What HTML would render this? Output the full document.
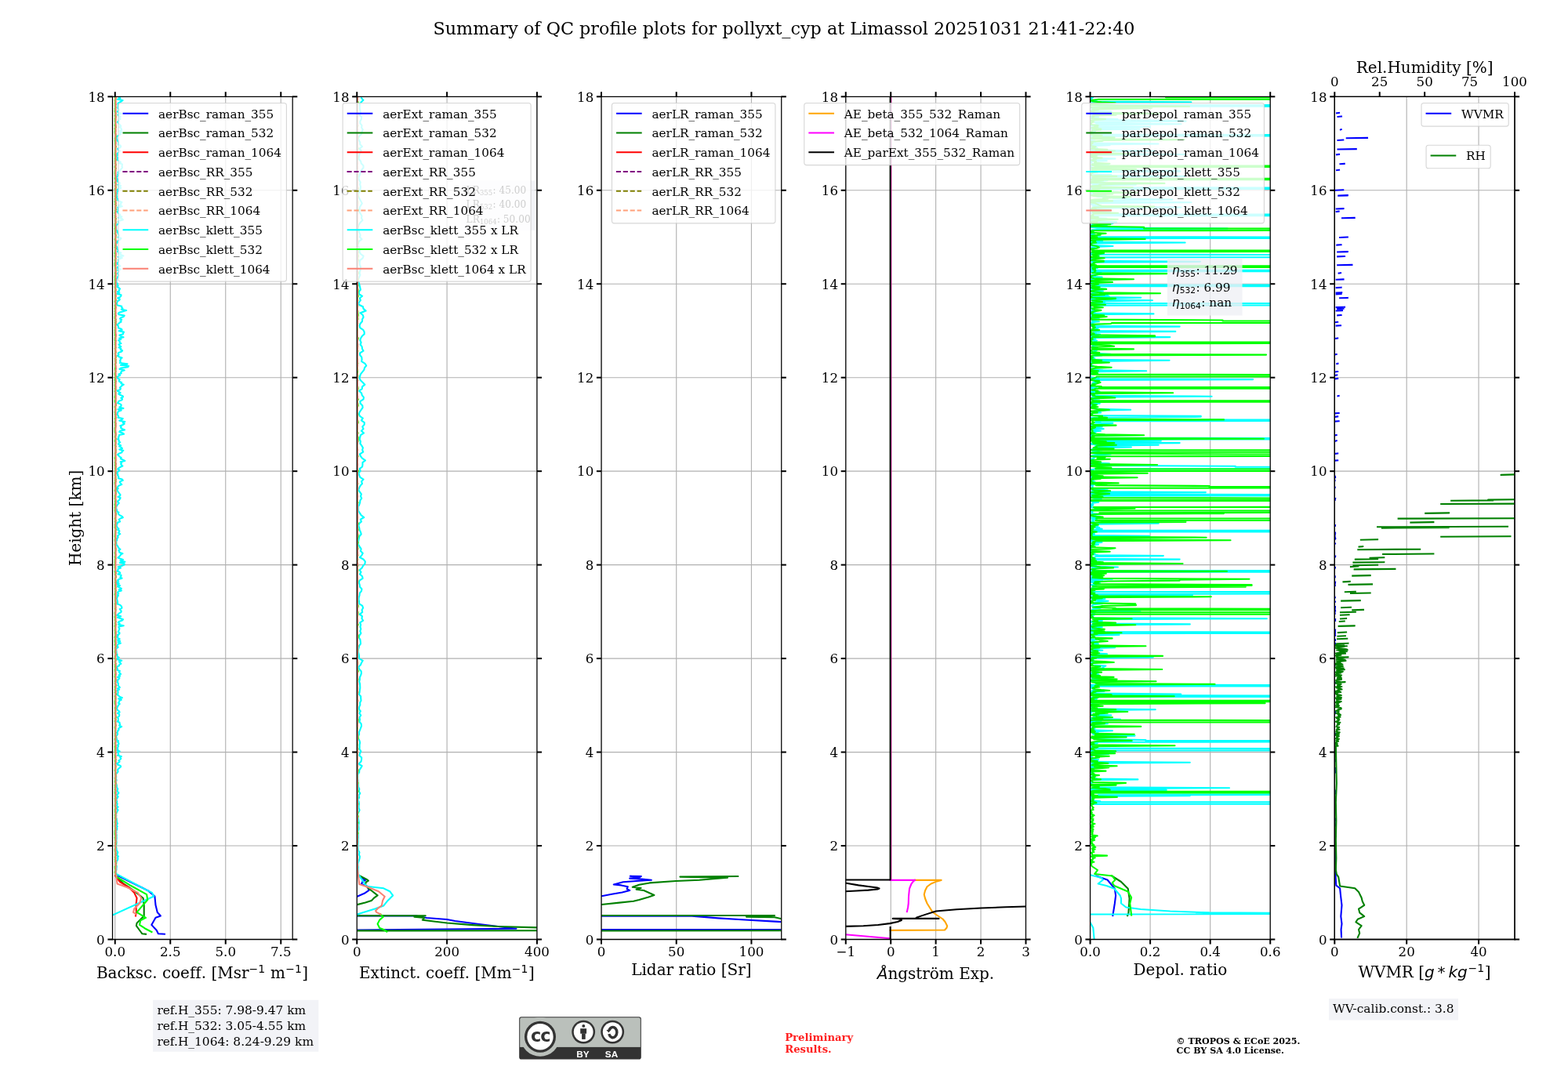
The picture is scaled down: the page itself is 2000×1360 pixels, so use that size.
<!DOCTYPE html>
<html><head><meta charset="utf-8"><title>QC profile plots</title>
<style>
html,body{margin:0;padding:0;background:#fff;}
#wrap{position:relative;width:2000px;height:1360px;overflow:hidden;}
#wrap > svg{position:absolute;left:0;top:0;}
</style></head><body><div id="wrap">
<svg width="2000px" height="1360px" viewBox="0 0 1440 979.2" version="1.1">
<defs>
<style type="text/css">*{stroke-linejoin: round; stroke-linecap: butt}</style>
</defs>
<g id="figure_1">
<g id="patch_1">
<path d="M 0 979.2 
L 1440 979.2 
L 1440 0 
L 0 0 
z
" style="fill: #ffffff"/>
</g>
<g id="axes_1">
<g id="patch_2">
<path d="M 103.32 862.92 
L 268.7 862.92 
L 268.7 88.78 
L 103.32 88.78 
z
" style="fill: #ffffff"/>
</g>
<g id="matplotlib.axis_1">
<g id="xtick_1">
<g id="line2d_1">
<path d="M 105.66 862.92 
L 105.66 88.78 
" clip-path="url(#p57dd0e70b4)" style="fill: none; stroke: #b0b0b0; stroke-width: 0.8; stroke-linecap: square"/>
</g>
<g id="line2d_2">
<g>
<path d="M 0 0 L 0 4.4" transform="translate(105.66 862.92)" style="stroke: #000000; stroke-width: 1.45"/>
</g>
</g>
<g id="line2d_3">
<g>
<path d="M 0 0 L 0 -4.4" transform="translate(105.66 88.78)" style="stroke: #000000; stroke-width: 1.45"/>
</g>
</g>
<g id="text_1">
<text style="font-size: 12px; font-family: 'DejaVu Serif', serif; text-anchor: middle" x="105.66" y="878.34" transform="rotate(-0 105.66 878.34)">0.0</text>
</g>
</g>
<g id="xtick_2">
<g id="line2d_4">
<path d="M 156.42 862.92 
L 156.42 88.78 
" clip-path="url(#p57dd0e70b4)" style="fill: none; stroke: #b0b0b0; stroke-width: 0.8; stroke-linecap: square"/>
</g>
<g id="line2d_5">
<g>
<path d="M 0 0 L 0 4.4" transform="translate(156.42 862.92)" style="stroke: #000000; stroke-width: 1.45"/>
</g>
</g>
<g id="line2d_6">
<g>
<path d="M 0 0 L 0 -4.4" transform="translate(156.42 88.78)" style="stroke: #000000; stroke-width: 1.45"/>
</g>
</g>
<g id="text_2">
<text style="font-size: 12px; font-family: 'DejaVu Serif', serif; text-anchor: middle" x="156.42" y="878.34" transform="rotate(-0 156.42 878.34)">2.5</text>
</g>
</g>
<g id="xtick_3">
<g id="line2d_7">
<path d="M 207.18 862.92 
L 207.18 88.78 
" clip-path="url(#p57dd0e70b4)" style="fill: none; stroke: #b0b0b0; stroke-width: 0.8; stroke-linecap: square"/>
</g>
<g id="line2d_8">
<g>
<path d="M 0 0 L 0 4.4" transform="translate(207.18 862.92)" style="stroke: #000000; stroke-width: 1.45"/>
</g>
</g>
<g id="line2d_9">
<g>
<path d="M 0 0 L 0 -4.4" transform="translate(207.18 88.78)" style="stroke: #000000; stroke-width: 1.45"/>
</g>
</g>
<g id="text_3">
<text style="font-size: 12px; font-family: 'DejaVu Serif', serif; text-anchor: middle" x="207.18" y="878.34" transform="rotate(-0 207.18 878.34)">5.0</text>
</g>
</g>
<g id="xtick_4">
<g id="line2d_10">
<path d="M 257.94 862.92 
L 257.94 88.78 
" clip-path="url(#p57dd0e70b4)" style="fill: none; stroke: #b0b0b0; stroke-width: 0.8; stroke-linecap: square"/>
</g>
<g id="line2d_11">
<g>
<path d="M 0 0 L 0 4.4" transform="translate(257.94 862.92)" style="stroke: #000000; stroke-width: 1.45"/>
</g>
</g>
<g id="line2d_12">
<g>
<path d="M 0 0 L 0 -4.4" transform="translate(257.94 88.78)" style="stroke: #000000; stroke-width: 1.45"/>
</g>
</g>
<g id="text_4">
<text style="font-size: 12px; font-family: 'DejaVu Serif', serif; text-anchor: middle" x="257.94" y="878.34" transform="rotate(-0 257.94 878.34)">7.5</text>
</g>
</g>
<g id="text_5">
<g transform="translate(88.52 899.12)">
<text>
<tspan x="0" y="-0.5" style="font-size: 14.4px; font-family: 'DejaVu Serif'">B</tspan>
<tspan x="10.56" y="-0.5" style="font-size: 14.4px; font-family: 'DejaVu Serif'">a</tspan>
<tspan x="19.13" y="-0.5" style="font-size: 14.4px; font-family: 'DejaVu Serif'">c</tspan>
<tspan x="27.18" y="-0.5" style="font-size: 14.4px; font-family: 'DejaVu Serif'">k</tspan>
<tspan x="35.9" y="-0.5" style="font-size: 14.4px; font-family: 'DejaVu Serif'">s</tspan>
<tspan x="43.27" y="-0.5" style="font-size: 14.4px; font-family: 'DejaVu Serif'">c</tspan>
<tspan x="51.32" y="-0.5" style="font-size: 14.4px; font-family: 'DejaVu Serif'">.</tspan>
<tspan x="55.89" y="-0.5" style="font-size: 14.4px; font-family: 'DejaVu Serif'"> </tspan>
<tspan x="60.46" y="-0.5" style="font-size: 14.4px; font-family: 'DejaVu Serif'">c</tspan>
<tspan x="68.51" y="-0.5" style="font-size: 14.4px; font-family: 'DejaVu Serif'">o</tspan>
<tspan x="77.17" y="-0.5" style="font-size: 14.4px; font-family: 'DejaVu Serif'">e</tspan>
<tspan x="85.67" y="-0.5" style="font-size: 14.4px; font-family: 'DejaVu Serif'">f</tspan>
<tspan x="90.99" y="-0.5" style="font-size: 14.4px; font-family: 'DejaVu Serif'">f</tspan>
<tspan x="96.32" y="-0.5" style="font-size: 14.4px; font-family: 'DejaVu Serif'">.</tspan>
<tspan x="100.88" y="-0.5" style="font-size: 14.4px; font-family: 'DejaVu Serif'"> </tspan>
<tspan x="105.45" y="-0.5" style="font-size: 14.4px; font-family: 'DejaVu Serif'">[</tspan>
<tspan x="111.06" y="-0.5" style="font-size: 14.4px; font-family: 'DejaVu Serif'">M</tspan>
<tspan x="125.78" y="-0.5" style="font-size: 14.4px; font-family: 'DejaVu Serif'">s</tspan>
<tspan x="133.16" y="-0.5" style="font-size: 14.4px; font-family: 'DejaVu Serif'">r</tspan>
<tspan x="155.38" y="-0.5" style="font-size: 14.4px; font-family: 'DejaVu Serif'"> </tspan>
<tspan x="159.95" y="-0.5" style="font-size: 14.4px; font-family: 'DejaVu Serif'">m</tspan>
<tspan x="188.93" y="-0.5" style="font-size: 14.4px; font-family: 'DejaVu Serif'">]</tspan>
<tspan x="140.16" y="-5.86" style="font-size: 10.08px; font-family: 'DejaVu Sans'">−</tspan>
<tspan x="148.6" y="-5.86" style="font-size: 10.08px; font-family: 'DejaVu Sans'">1</tspan>
<tspan x="173.71" y="-5.86" style="font-size: 10.08px; font-family: 'DejaVu Sans'">−</tspan>
<tspan x="182.15" y="-5.86" style="font-size: 10.08px; font-family: 'DejaVu Sans'">1</tspan>
</text>
</g>
</g>
</g>
<g id="matplotlib.axis_2">
<g id="ytick_1">
<g id="line2d_13">
<path d="M 103.32 862.92 
L 268.7 862.92 
" clip-path="url(#p57dd0e70b4)" style="fill: none; stroke: #b0b0b0; stroke-width: 0.8; stroke-linecap: square"/>
</g>
<g id="line2d_14">
<g>
<path d="M 0 0 L -4.4 0" transform="translate(103.32 862.92)" style="stroke: #000000; stroke-width: 1.45"/>
</g>
</g>
<g id="line2d_15">
<g>
<path d="M 0 0 L 4.4 0" transform="translate(268.7 862.92)" style="stroke: #000000; stroke-width: 1.45"/>
</g>
</g>
<g id="text_6">
<text style="font-size: 12px; font-family: 'DejaVu Serif', serif; text-anchor: end" x="96.28" y="867.48" transform="rotate(-0 96.28 867.48)">0</text>
</g>
</g>
<g id="ytick_2">
<g id="line2d_16">
<path d="M 103.32 776.9 
L 268.7 776.9 
" clip-path="url(#p57dd0e70b4)" style="fill: none; stroke: #b0b0b0; stroke-width: 0.8; stroke-linecap: square"/>
</g>
<g id="line2d_17">
<g>
<path d="M 0 0 L -4.4 0" transform="translate(103.32 776.9)" style="stroke: #000000; stroke-width: 1.45"/>
</g>
</g>
<g id="line2d_18">
<g>
<path d="M 0 0 L 4.4 0" transform="translate(268.7 776.9)" style="stroke: #000000; stroke-width: 1.45"/>
</g>
</g>
<g id="text_7">
<text style="font-size: 12px; font-family: 'DejaVu Serif', serif; text-anchor: end" x="96.28" y="781.46" transform="rotate(-0 96.28 781.46)">2</text>
</g>
</g>
<g id="ytick_3">
<g id="line2d_19">
<path d="M 103.32 690.89 
L 268.7 690.89 
" clip-path="url(#p57dd0e70b4)" style="fill: none; stroke: #b0b0b0; stroke-width: 0.8; stroke-linecap: square"/>
</g>
<g id="line2d_20">
<g>
<path d="M 0 0 L -4.4 0" transform="translate(103.32 690.89)" style="stroke: #000000; stroke-width: 1.45"/>
</g>
</g>
<g id="line2d_21">
<g>
<path d="M 0 0 L 4.4 0" transform="translate(268.7 690.89)" style="stroke: #000000; stroke-width: 1.45"/>
</g>
</g>
<g id="text_8">
<text style="font-size: 12px; font-family: 'DejaVu Serif', serif; text-anchor: end" x="96.28" y="695.45" transform="rotate(-0 96.28 695.45)">4</text>
</g>
</g>
<g id="ytick_4">
<g id="line2d_22">
<path d="M 103.32 604.87 
L 268.7 604.87 
" clip-path="url(#p57dd0e70b4)" style="fill: none; stroke: #b0b0b0; stroke-width: 0.8; stroke-linecap: square"/>
</g>
<g id="line2d_23">
<g>
<path d="M 0 0 L -4.4 0" transform="translate(103.32 604.87)" style="stroke: #000000; stroke-width: 1.45"/>
</g>
</g>
<g id="line2d_24">
<g>
<path d="M 0 0 L 4.4 0" transform="translate(268.7 604.87)" style="stroke: #000000; stroke-width: 1.45"/>
</g>
</g>
<g id="text_9">
<text style="font-size: 12px; font-family: 'DejaVu Serif', serif; text-anchor: end" x="96.28" y="609.43" transform="rotate(-0 96.28 609.43)">6</text>
</g>
</g>
<g id="ytick_5">
<g id="line2d_25">
<path d="M 103.32 518.86 
L 268.7 518.86 
" clip-path="url(#p57dd0e70b4)" style="fill: none; stroke: #b0b0b0; stroke-width: 0.8; stroke-linecap: square"/>
</g>
<g id="line2d_26">
<g>
<path d="M 0 0 L -4.4 0" transform="translate(103.32 518.86)" style="stroke: #000000; stroke-width: 1.45"/>
</g>
</g>
<g id="line2d_27">
<g>
<path d="M 0 0 L 4.4 0" transform="translate(268.7 518.86)" style="stroke: #000000; stroke-width: 1.45"/>
</g>
</g>
<g id="text_10">
<text style="font-size: 12px; font-family: 'DejaVu Serif', serif; text-anchor: end" x="96.28" y="523.42" transform="rotate(-0 96.28 523.42)">8</text>
</g>
</g>
<g id="ytick_6">
<g id="line2d_28">
<path d="M 103.32 432.84 
L 268.7 432.84 
" clip-path="url(#p57dd0e70b4)" style="fill: none; stroke: #b0b0b0; stroke-width: 0.8; stroke-linecap: square"/>
</g>
<g id="line2d_29">
<g>
<path d="M 0 0 L -4.4 0" transform="translate(103.32 432.84)" style="stroke: #000000; stroke-width: 1.45"/>
</g>
</g>
<g id="line2d_30">
<g>
<path d="M 0 0 L 4.4 0" transform="translate(268.7 432.84)" style="stroke: #000000; stroke-width: 1.45"/>
</g>
</g>
<g id="text_11">
<text style="font-size: 12px; font-family: 'DejaVu Serif', serif; text-anchor: end" x="96.28" y="437.4" transform="rotate(-0 96.28 437.4)">10</text>
</g>
</g>
<g id="ytick_7">
<g id="line2d_31">
<path d="M 103.32 346.82 
L 268.7 346.82 
" clip-path="url(#p57dd0e70b4)" style="fill: none; stroke: #b0b0b0; stroke-width: 0.8; stroke-linecap: square"/>
</g>
<g id="line2d_32">
<g>
<path d="M 0 0 L -4.4 0" transform="translate(103.32 346.82)" style="stroke: #000000; stroke-width: 1.45"/>
</g>
</g>
<g id="line2d_33">
<g>
<path d="M 0 0 L 4.4 0" transform="translate(268.7 346.82)" style="stroke: #000000; stroke-width: 1.45"/>
</g>
</g>
<g id="text_12">
<text style="font-size: 12px; font-family: 'DejaVu Serif', serif; text-anchor: end" x="96.28" y="351.38" transform="rotate(-0 96.28 351.38)">12</text>
</g>
</g>
<g id="ytick_8">
<g id="line2d_34">
<path d="M 103.32 260.81 
L 268.7 260.81 
" clip-path="url(#p57dd0e70b4)" style="fill: none; stroke: #b0b0b0; stroke-width: 0.8; stroke-linecap: square"/>
</g>
<g id="line2d_35">
<g>
<path d="M 0 0 L -4.4 0" transform="translate(103.32 260.81)" style="stroke: #000000; stroke-width: 1.45"/>
</g>
</g>
<g id="line2d_36">
<g>
<path d="M 0 0 L 4.4 0" transform="translate(268.7 260.81)" style="stroke: #000000; stroke-width: 1.45"/>
</g>
</g>
<g id="text_13">
<text style="font-size: 12px; font-family: 'DejaVu Serif', serif; text-anchor: end" x="96.28" y="265.37" transform="rotate(-0 96.28 265.37)">14</text>
</g>
</g>
<g id="ytick_9">
<g id="line2d_37">
<path d="M 103.32 174.79 
L 268.7 174.79 
" clip-path="url(#p57dd0e70b4)" style="fill: none; stroke: #b0b0b0; stroke-width: 0.8; stroke-linecap: square"/>
</g>
<g id="line2d_38">
<g>
<path d="M 0 0 L -4.4 0" transform="translate(103.32 174.79)" style="stroke: #000000; stroke-width: 1.45"/>
</g>
</g>
<g id="line2d_39">
<g>
<path d="M 0 0 L 4.4 0" transform="translate(268.7 174.79)" style="stroke: #000000; stroke-width: 1.45"/>
</g>
</g>
<g id="text_14">
<text style="font-size: 12px; font-family: 'DejaVu Serif', serif; text-anchor: end" x="96.28" y="179.35" transform="rotate(-0 96.28 179.35)">16</text>
</g>
</g>
<g id="ytick_10">
<g id="line2d_40">
<path d="M 103.32 88.78 
L 268.7 88.78 
" clip-path="url(#p57dd0e70b4)" style="fill: none; stroke: #b0b0b0; stroke-width: 0.8; stroke-linecap: square"/>
</g>
<g id="line2d_41">
<g>
<path d="M 0 0 L -4.4 0" transform="translate(103.32 88.78)" style="stroke: #000000; stroke-width: 1.45"/>
</g>
</g>
<g id="line2d_42">
<g>
<path d="M 0 0 L 4.4 0" transform="translate(268.7 88.78)" style="stroke: #000000; stroke-width: 1.45"/>
</g>
</g>
<g id="text_15">
<text style="font-size: 12px; font-family: 'DejaVu Serif', serif; text-anchor: end" x="96.28" y="93.34" transform="rotate(-0 96.28 93.34)">18</text>
</g>
</g>
<g id="text_16">
<text style="font-size: 14.4px; font-family: 'DejaVu Serif', serif; text-anchor: middle" x="73.81" y="475.85" transform="rotate(-90 73.81 475.85)">Height [km]</text>
</g>
</g>
<g id="line2d_43">
<path d="M 108.47 804.4 
L 119.95 810.15 
L 129.8 815.07 
L 136.36 818.35 
L 142.1 823.27 
L 142.92 831.48 
L 144.56 838.04 
L 147.52 841.32 
L 142.92 842.96 
L 139.15 849.53 
L 143.74 854.45 
L 145.38 857.73 
L 151.13 858.06 
" clip-path="url(#p57dd0e70b4)" style="fill: none; stroke: #0000ff; stroke-width: 1.5; stroke-linecap: square"/>
</g>
<g id="line2d_44">
<path d="M 106 804.4 
L 113.39 811.79 
L 123.23 818.35 
L 131.44 824.92 
L 132.26 831.48 
L 132.26 841.32 
L 125.69 847.89 
L 125.2 850.35 
L 128.16 854.45 
L 130.62 857.73 
L 133.9 858.06 
" clip-path="url(#p57dd0e70b4)" style="fill: none; stroke: #008000; stroke-width: 1.5; stroke-linecap: square"/>
</g>
<g id="line2d_45">
<path d="M 106 804.4 
L 110.11 810.15 
L 118.31 815.07 
L 123.23 819.99 
L 125.69 824.92 
L 124.87 831.48 
L 125.2 838.04 
L 124.55 841.32 
" clip-path="url(#p57dd0e70b4)" style="fill: none; stroke: #ff0000; stroke-width: 1.5; stroke-linecap: square"/>
</g>
<g id="line2d_46"/>
<g id="line2d_47"/>
<g id="line2d_48"/>
<g id="line2d_49">
<path d="M 103.54 840.5 
L 141.28 823.27 
L 139.64 819.99 
L 133.08 816.71 
L 108.47 803.58 
L 106.26 802.71 
L 106.74 801.76 
L 106.49 800.82 
L 106.55 799.87 
L 106.92 798.92 
L 106.81 797.98 
L 107.07 796.09 
L 106.9 795.14 
L 106.52 794.19 
L 106.94 792.3 
L 106.84 791.35 
L 107.84 790.41 
L 108.16 789.46 
L 108.32 788.52 
L 107.88 787.57 
L 108.72 786.62 
L 107.36 785.68 
L 107.7 784.73 
L 108.23 782.84 
L 106.94 780.95 
L 107 780 
L 106.67 778.11 
L 106.59 777.16 
L 106.74 776.22 
L 106.76 775.27 
L 106.96 774.32 
L 106.97 773.38 
L 106.81 772.43 
L 106.77 771.48 
L 106.96 770.54 
L 107.03 769.59 
L 106.9 768.65 
L 107.06 766.75 
L 106.51 765.81 
L 107.02 764.86 
L 106.66 763.92 
L 106.89 762.97 
L 107.37 762.02 
L 107.54 761.08 
L 106.99 760.13 
L 107.81 759.18 
L 106.98 758.24 
L 107.4 757.29 
L 107.97 756.35 
L 107.29 755.4 
L 107.31 754.45 
L 106.95 751.62 
L 106.49 750.67 
L 106.74 749.72 
L 106.77 748.78 
L 106.52 747.83 
L 106.98 746.88 
L 107.3 745.94 
L 108.41 744.05 
L 107.24 743.1 
L 107.52 742.15 
L 108.42 741.21 
L 107.33 740.26 
L 107.41 739.32 
L 107.82 738.37 
L 107.02 737.42 
L 107.49 736.48 
L 107.22 735.53 
L 106.64 734.58 
L 107.89 732.69 
L 108.45 731.75 
L 107.48 730.8 
L 107.38 729.85 
L 108.84 728.91 
L 108.92 727.96 
L 107.45 727.01 
L 108.11 725.12 
L 108.04 724.18 
L 106.94 723.23 
L 107.27 722.28 
L 107.15 721.34 
L 106.59 719.45 
L 106.51 718.5 
L 106.66 717.55 
L 106.98 716.61 
L 106.52 715.66 
L 106.5 714.71 
L 106.71 713.77 
L 106.53 712.82 
L 106.62 710.93 
L 108.31 709.04 
L 108.31 708.09 
L 107.9 707.15 
L 108.78 706.2 
L 110.94 704.31 
L 110.67 703.36 
L 107.99 702.41 
L 107.13 701.47 
L 109.07 700.52 
L 109.87 699.58 
L 108.98 698.63 
L 110.4 697.68 
L 111.11 696.74 
L 110.34 695.79 
L 111.48 694.84 
L 108.03 693.9 
L 108.9 692.95 
L 108.72 692.01 
L 107.97 691.06 
L 109.94 690.11 
L 107.3 689.17 
L 108.34 688.22 
L 107.33 687.28 
L 108.26 686.33 
L 108.65 685.38 
L 108.07 684.44 
L 109.08 683.49 
L 108.96 682.54 
L 108.12 681.6 
L 108.74 680.65 
L 107.25 679.71 
L 107.05 678.76 
L 106.98 677.81 
L 106.76 676.87 
L 106.75 675.92 
L 107.76 674.98 
L 108.14 674.03 
L 107.28 673.08 
L 108.17 672.14 
L 108.15 671.19 
L 109.16 670.24 
L 108.83 669.3 
L 109.88 668.35 
L 111.68 667.41 
L 109.46 666.46 
L 110.32 665.51 
L 109.79 664.57 
L 109.84 663.62 
L 107.51 662.67 
L 108.73 661.73 
L 108.69 660.78 
L 108.5 659.84 
L 108.07 658.89 
L 109.36 657.94 
L 109.65 657 
L 109.49 656.05 
L 107.88 655.11 
L 109.87 654.16 
L 109.32 653.21 
L 107.79 652.27 
L 107.68 651.32 
L 106.72 650.37 
L 107.94 649.43 
L 108.8 647.54 
L 109.96 646.59 
L 108.6 645.64 
L 109.51 644.7 
L 109.52 643.75 
L 111.39 642.81 
L 108.79 641.86 
L 112.25 640.91 
L 109.76 639.97 
L 109.08 639.02 
L 107.58 638.07 
L 108.31 637.13 
L 108.41 635.24 
L 107.84 634.29 
L 109.51 633.34 
L 107.9 632.4 
L 110.02 631.45 
L 109.26 630.5 
L 108.29 629.56 
L 108.71 628.61 
L 108.68 627.67 
L 107.58 626.72 
L 108.26 625.77 
L 107.59 624.83 
L 109.08 623.88 
L 109.7 622.94 
L 107.97 621.99 
L 110.24 621.04 
L 109.18 620.1 
L 110.98 619.15 
L 109.94 618.2 
L 109.27 617.26 
L 110.07 616.31 
L 107.36 615.37 
L 107.95 614.42 
L 107.48 613.47 
L 107.24 612.53 
L 109.45 611.58 
L 109.45 610.64 
L 111.09 609.69 
L 110.28 608.74 
L 109.32 607.8 
L 111.76 606.85 
L 108.19 605.9 
L 107.75 604.96 
L 109.28 604.01 
L 107.89 603.07 
L 107.46 602.12 
L 107.68 601.17 
L 106.8 600.23 
L 107.03 599.28 
L 106.58 596.44 
L 106.97 595.5 
L 108.43 594.55 
L 107.99 593.6 
L 107.78 592.66 
L 108.48 591.71 
L 110.77 590.77 
L 108.33 589.82 
L 110.35 588.87 
L 107.98 587.93 
L 109.9 586.98 
L 108.25 586.03 
L 106.97 585.09 
L 108.48 584.14 
L 108.02 583.2 
L 109.69 582.25 
L 109.8 581.3 
L 108.58 580.36 
L 109.77 577.52 
L 109.13 576.57 
L 108.99 575.63 
L 113.59 574.68 
L 108.68 573.73 
L 109.94 572.79 
L 108.55 571.84 
L 109.29 570.9 
L 112.21 569.95 
L 113.03 569 
L 108 567.11 
L 111.03 566.16 
L 107.47 565.22 
L 109.39 563.33 
L 111.17 562.38 
L 111.41 561.43 
L 110.8 560.49 
L 109.98 559.54 
L 111.91 558.6 
L 111.81 557.65 
L 111.39 556.7 
L 110.28 555.76 
L 107.83 554.81 
L 108.06 553.86 
L 108.07 552.92 
L 107.68 551.97 
L 107.69 551.03 
L 106.85 550.08 
L 107.6 549.13 
L 107.54 548.19 
L 108.7 547.24 
L 107.79 546.3 
L 108.89 545.35 
L 108.01 544.4 
L 108.58 543.46 
L 111.56 542.51 
L 109.23 541.56 
L 111.52 540.62 
L 109.9 539.67 
L 107.91 538.73 
L 110.18 537.78 
L 107.58 536.83 
L 109.21 535.89 
L 107.08 534.94 
L 108.93 533.99 
L 108.08 533.05 
L 109.1 532.1 
L 112.03 531.16 
L 110.33 530.21 
L 111.14 529.26 
L 111.26 528.32 
L 108.31 527.37 
L 110.39 526.43 
L 109.76 525.48 
L 107.39 524.53 
L 108.4 523.59 
L 108.4 522.64 
L 110.86 521.69 
L 108.47 520.75 
L 111.68 519.8 
L 114.17 518.86 
L 114.3 517.91 
L 110.02 516.96 
L 114.83 516.02 
L 110.41 515.07 
L 113.01 514.13 
L 110.46 513.18 
L 108.36 512.23 
L 110.43 510.34 
L 110.83 509.39 
L 112.68 508.45 
L 109.63 507.5 
L 109.57 506.56 
L 109 505.61 
L 110.44 504.66 
L 109.31 503.72 
L 108.59 502.77 
L 108.27 501.82 
L 107.39 500.88 
L 106.72 499.93 
L 106.88 498.99 
L 106.66 498.04 
L 106.81 497.09 
L 107.51 496.15 
L 107.01 495.2 
L 108.02 494.26 
L 108.46 493.31 
L 107.98 492.36 
L 108.72 491.42 
L 110.37 490.47 
L 108.56 489.52 
L 109.58 488.58 
L 109.68 487.63 
L 108.12 486.69 
L 109.08 485.74 
L 107.92 484.79 
L 107.37 483.85 
L 107.01 481.96 
L 107.88 481.01 
L 107.73 480.06 
L 110.19 479.12 
L 109.85 478.17 
L 109.2 477.22 
L 110.47 476.28 
L 112.9 475.33 
L 112.2 474.39 
L 110.17 473.44 
L 109.03 472.49 
L 108.46 471.55 
L 109.05 470.6 
L 106.95 469.65 
L 107.33 468.71 
L 106.63 466.82 
L 106.7 465.87 
L 107.04 464.92 
L 107.68 463.98 
L 109.28 462.09 
L 108.14 461.14 
L 108.23 460.19 
L 109.57 459.25 
L 110.61 457.35 
L 108.34 456.41 
L 110.15 455.46 
L 110.57 454.52 
L 108.43 451.68 
L 107.86 450.73 
L 106.83 449.79 
L 108.53 448.84 
L 107.8 447.89 
L 108.36 446.95 
L 109.29 446 
L 111.8 445.05 
L 110.03 443.16 
L 110.27 442.22 
L 112.9 441.27 
L 112.21 440.32 
L 108.71 439.38 
L 108.85 438.43 
L 108.86 437.48 
L 107.96 436.54 
L 108.31 435.59 
L 107.26 434.65 
L 107.79 433.7 
L 109.14 432.75 
L 109.82 431.81 
L 108.12 430.86 
L 109.02 429.92 
L 110.6 428.97 
L 112.6 428.02 
L 111.54 427.08 
L 110.93 426.13 
L 111.69 425.18 
L 110.63 424.24 
L 114.75 423.29 
L 113.04 422.35 
L 110.71 421.4 
L 111.36 420.45 
L 109.76 419.51 
L 109.04 418.56 
L 108.08 417.62 
L 109.08 416.67 
L 111.82 415.72 
L 112.05 414.78 
L 113.22 413.83 
L 109.63 412.88 
L 112.29 411.94 
L 111.43 410.99 
L 109.48 410.05 
L 110.96 409.1 
L 108.76 408.15 
L 109 407.21 
L 110.32 406.26 
L 109.05 405.31 
L 109.33 404.37 
L 108.14 403.42 
L 109.05 402.48 
L 108.73 401.53 
L 109.39 400.58 
L 109.4 399.64 
L 113.87 398.69 
L 112.6 397.75 
L 109.61 396.8 
L 110.15 395.85 
L 114.55 394.91 
L 112.27 393.96 
L 110.95 393.01 
L 111.26 392.07 
L 110.4 391.12 
L 112.9 390.18 
L 114.27 389.23 
L 112.88 388.28 
L 114.73 387.34 
L 109.63 386.39 
L 111.93 385.45 
L 112.82 384.5 
L 108.39 383.55 
L 108.88 382.61 
L 108.46 381.66 
L 107.36 380.71 
L 108.08 379.77 
L 108.08 378.82 
L 108.85 377.88 
L 111.34 376.93 
L 108.35 375.98 
L 113.39 375.04 
L 109.56 374.09 
L 111.09 373.14 
L 111.43 372.2 
L 110.75 371.25 
L 108.15 370.31 
L 109.1 368.41 
L 111.95 367.47 
L 112.34 366.52 
L 111.14 365.58 
L 113.05 364.63 
L 112.73 363.68 
L 110.17 362.74 
L 108.76 361.79 
L 110.64 360.84 
L 107.67 358.95 
L 110.1 358.01 
L 110.84 357.06 
L 110.08 356.11 
L 111.07 355.17 
L 111.86 354.22 
L 113.61 353.28 
L 111.2 352.33 
L 111.7 351.38 
L 109.54 350.44 
L 109.26 349.49 
L 109.91 348.54 
L 108.32 347.6 
L 107.38 346.65 
L 108.38 345.71 
L 110.23 344.76 
L 108.97 343.81 
L 111.44 342.87 
L 110.99 341.92 
L 111.8 340.97 
L 114.3 340.03 
L 109.76 339.08 
L 110.99 338.14 
L 117.58 337.19 
L 118.13 336.24 
L 110.83 335.3 
L 117.01 334.35 
L 110.04 333.41 
L 110.73 332.46 
L 110.1 331.51 
L 110.77 330.57 
L 110.58 329.62 
L 112.09 328.67 
L 109.25 327.73 
L 108.05 326.78 
L 109.16 325.84 
L 108.43 324.89 
L 108.88 323.94 
L 111.67 323 
L 112.39 322.05 
L 110.6 321.11 
L 111.1 320.16 
L 109.07 319.21 
L 111.13 318.27 
L 109.61 317.32 
L 109.11 316.37 
L 111.22 315.43 
L 109.76 314.48 
L 110.06 313.54 
L 108.86 312.59 
L 111.11 311.64 
L 109.53 310.7 
L 113.44 309.75 
L 110.94 308.8 
L 109.7 307.86 
L 113.09 306.91 
L 113.17 305.97 
L 113.72 305.02 
L 109.2 304.07 
L 112.04 303.13 
L 111.58 302.18 
L 108.8 301.24 
L 108.77 300.29 
L 108.62 299.34 
L 107.41 298.4 
L 108.95 297.45 
L 109.57 296.5 
L 111.3 295.56 
L 110.56 294.61 
L 111.7 293.67 
L 110.18 292.72 
L 111.1 291.77 
L 113.58 290.83 
L 114.24 289.88 
L 109.09 288.94 
L 108.64 287.99 
L 109.41 287.04 
L 116.05 285.15 
L 111.38 284.2 
L 112.63 283.26 
L 111.71 282.31 
L 111.75 281.37 
L 108.01 280.42 
L 107.07 279.47 
L 107.4 278.53 
L 107.9 276.63 
L 109.69 275.69 
L 110.02 274.74 
L 108.18 273.8 
L 110.15 272.85 
L 111.13 271.9 
L 111.28 270.96 
L 107.67 270.01 
L 109.73 269.07 
L 107.61 268.12 
L 109.58 267.17 
L 109.31 266.23 
L 110.22 265.28 
L 109.07 264.33 
L 107.43 263.39 
L 108.52 262.44 
L 107.42 261.5 
L 108.01 260.55 
L 106.74 259.6 
L 106.9 257.71 
L 106.65 256.77 
L 107.32 255.82 
L 108.34 253.93 
L 109.21 252.98 
L 108.56 252.03 
L 108.07 251.09 
L 109.41 249.2 
L 108.17 248.25 
L 110.78 247.3 
L 108.11 246.36 
L 107.94 245.41 
L 110.46 244.46 
L 109.49 243.52 
L 107.7 242.57 
L 107.53 241.63 
L 108.88 240.68 
L 109.11 239.73 
L 108.6 238.79 
L 109.79 237.84 
L 112.11 236.9 
L 108.34 235.95 
L 113.39 235 
L 109.02 233.11 
L 111.21 232.16 
L 107.96 231.22 
L 108.54 230.27 
L 108.34 229.33 
L 107.27 228.38 
L 107.64 227.43 
L 107.03 226.49 
L 106.59 225.54 
L 106.8 223.65 
L 107.91 222.7 
L 107.63 221.76 
L 110.54 219.86 
L 111.27 218.92 
L 108.43 217.97 
L 109.23 217.03 
L 109.29 216.08 
L 108.76 215.13 
L 107.91 213.24 
L 107.81 212.29 
L 106.88 211.35 
L 106.7 210.4 
L 106.73 209.46 
L 106.58 208.51 
L 107.08 206.62 
L 108.54 205.67 
L 109.51 204.73 
L 108.66 203.78 
L 109.41 202.83 
L 112.98 201.89 
L 112.17 200.94 
L 108.84 199.99 
L 111.92 199.05 
L 109.9 198.1 
L 110.34 197.16 
L 109 196.21 
L 108.26 195.26 
L 107.97 194.32 
L 109.06 193.37 
L 108.2 192.43 
L 108.86 191.48 
L 108.21 190.53 
L 112.16 189.59 
L 109.1 188.64 
L 111.17 187.69 
L 110.84 186.75 
L 111.92 185.8 
L 109.54 184.86 
L 108.19 183.91 
L 108.47 182.96 
L 107.24 182.02 
L 107.37 180.12 
L 106.58 179.18 
L 107.45 178.23 
L 107.45 176.34 
L 108.97 175.39 
L 107.75 174.45 
L 108.63 173.5 
L 111.16 172.56 
L 108.84 171.61 
L 110.91 170.66 
L 108.25 169.72 
L 109.82 168.77 
L 109.88 167.82 
L 108.07 166.88 
L 108.04 164.99 
L 107.63 164.04 
L 106.84 163.09 
L 107.41 162.15 
L 108.82 161.2 
L 107.94 160.26 
L 109.62 159.31 
L 108.32 158.36 
L 109.63 157.42 
L 110.99 155.52 
L 111.85 154.58 
L 112.39 153.63 
L 111.89 152.69 
L 112.22 151.74 
L 112.22 150.79 
L 109.37 149.85 
L 110.85 148.9 
L 109.24 147.96 
L 108.05 147.01 
L 107.52 146.06 
L 108.25 145.12 
L 106.92 143.22 
L 108.06 142.28 
L 107.3 141.33 
L 108.47 140.39 
L 109.41 139.44 
L 110.08 138.49 
L 108.49 137.55 
L 108.13 136.6 
L 110.27 135.65 
L 111.06 134.71 
L 110.64 133.76 
L 108.77 132.82 
L 109.02 131.87 
L 108.63 129.98 
L 107.54 129.03 
L 107.6 128.09 
L 106.85 127.14 
L 107.06 126.19 
L 107.57 125.25 
L 110.67 123.35 
L 110.02 122.41 
L 111.83 121.46 
L 109.41 120.52 
L 111.81 119.57 
L 111.44 118.62 
L 111.22 117.68 
L 109.49 116.73 
L 111.04 115.79 
L 110.37 114.84 
L 109.35 113.89 
L 108.77 112.95 
L 107.97 112 
L 109.33 111.05 
L 109.11 110.11 
L 110.55 109.16 
L 109.29 108.22 
L 110.63 107.27 
L 108.75 106.32 
L 108.28 105.38 
L 111.46 104.43 
L 109.08 103.48 
L 107.74 102.54 
L 109.11 101.59 
L 109.36 100.65 
L 108.44 99.7 
L 108.26 98.75 
L 108.55 97.81 
L 108.45 96.86 
L 108.49 95.92 
L 108.32 94.97 
L 109.61 94.02 
L 111.58 93.08 
L 112.69 92.13 
L 108.05 91.18 
L 110.48 90.24 
L 109.23 89.29 
L 109.23 89.29 
" clip-path="url(#p57dd0e70b4)" style="fill: none; stroke: #00ffff; stroke-width: 1.5; stroke-linecap: square"/>
</g>
<g id="line2d_50">
<path d="M 139.31 856.09 
L 133.08 852.81 
L 128.16 849.53 
L 128.98 845.43 
L 133.9 842.96 
L 125.69 838.04 
L 129.8 833.12 
L 135.54 826.56 
L 134.72 821.63 
L 119.95 813.43 
L 106.83 805.23 
L 106.09 802.71 
L 105.67 801.76 
L 105.66 800.82 
L 106.15 799.87 
L 106.03 798.92 
L 105.78 797.98 
L 105.66 796.09 
L 106.56 795.14 
L 106.29 794.19 
L 106.52 793.25 
L 106.27 792.3 
L 105.85 791.35 
L 106.31 790.41 
L 105.69 789.46 
L 106.07 788.52 
L 105.71 787.57 
L 105.8 786.62 
L 106.35 785.68 
L 105.82 784.73 
L 106.38 783.79 
L 105.98 782.84 
L 105.73 781.89 
L 105.66 780 
L 106.3 778.11 
L 105.7 777.16 
L 105.86 776.22 
L 106.54 775.27 
L 105.8 774.32 
L 106.46 773.38 
L 106.28 772.43 
L 105.88 771.48 
L 106.02 770.54 
L 105.66 769.59 
L 106.18 767.7 
L 105.7 766.75 
L 105.66 764.86 
L 105.71 762.97 
L 106.25 762.02 
L 105.85 761.08 
L 105.92 760.13 
L 105.74 759.18 
L 105.74 758.24 
L 106.16 756.35 
L 105.68 755.4 
L 106.03 753.51 
L 106.5 752.56 
L 105.72 751.62 
L 105.95 749.72 
L 105.67 748.78 
L 106 747.83 
L 106.52 746.88 
L 105.72 745.94 
L 105.87 744.99 
L 105.67 744.05 
L 105.9 743.1 
L 106.52 742.15 
L 105.92 741.21 
L 105.7 740.26 
L 105.74 739.32 
L 106.33 737.42 
L 105.84 736.48 
L 105.87 735.53 
L 106.25 734.58 
L 105.67 733.64 
L 106.48 732.69 
L 105.85 731.75 
L 105.76 730.8 
L 106.21 729.85 
L 105.72 728.91 
L 105.72 727.01 
L 106.07 726.07 
L 105.66 725.12 
L 105.84 724.18 
L 105.71 723.23 
L 105.93 722.28 
L 105.67 721.34 
L 106.2 720.39 
L 106.44 719.45 
L 105.75 718.5 
L 105.77 717.55 
L 106.15 715.66 
L 105.66 714.71 
L 106.07 713.77 
L 106.26 712.82 
L 106.23 711.88 
L 105.83 710.93 
L 106.27 709.98 
L 105.69 708.09 
L 105.73 707.15 
L 105.98 706.2 
L 105.93 705.25 
L 106.24 704.31 
L 106.12 703.36 
L 105.7 702.41 
L 105.8 701.47 
L 106.21 700.52 
L 105.85 699.58 
L 105.7 698.63 
L 106.46 697.68 
L 105.84 696.74 
L 105.74 695.79 
L 105.89 694.84 
L 105.74 693.9 
L 105.72 692.95 
L 106.05 692.01 
L 106.23 691.06 
L 105.81 690.11 
L 105.68 689.17 
L 105.86 688.22 
L 105.71 685.38 
L 106.2 684.44 
L 105.69 683.49 
L 105.66 682.54 
L 106.1 681.6 
L 106.16 680.65 
L 105.71 679.71 
L 105.68 678.76 
L 105.96 677.81 
L 106.43 676.87 
L 105.71 675.92 
L 105.92 674.98 
L 105.72 674.03 
L 106.16 673.08 
L 105.85 672.14 
L 105.79 671.19 
L 106.05 670.24 
L 105.69 668.35 
L 105.81 667.41 
L 106.49 666.46 
L 105.89 664.57 
L 106.05 663.62 
L 105.67 662.67 
L 105.81 661.73 
L 106.39 660.78 
L 105.69 659.84 
L 106.54 658.89 
L 105.66 655.11 
L 105.73 654.16 
L 106.16 653.21 
L 105.82 652.27 
L 106.24 651.32 
L 105.7 650.37 
L 106.28 649.43 
L 106.33 648.48 
L 106.13 647.54 
L 105.69 646.59 
L 105.66 643.75 
L 106.15 642.81 
L 105.88 641.86 
L 106.18 640.91 
L 105.73 639.97 
L 105.76 639.02 
L 106.39 638.07 
L 106.56 637.13 
L 105.66 636.18 
L 106.21 635.24 
L 105.66 633.34 
L 106 632.4 
L 105.73 631.45 
L 105.77 630.5 
L 106.51 629.56 
L 106.16 628.61 
L 105.66 627.67 
L 106.08 626.72 
L 105.66 625.77 
L 106.37 624.83 
L 105.98 623.88 
L 106.02 622.94 
L 105.66 621.99 
L 105.66 621.04 
L 105.91 620.1 
L 105.79 619.15 
L 106.27 618.2 
L 105.73 617.26 
L 105.8 616.31 
L 105.67 615.37 
L 105.89 614.42 
L 106.49 613.47 
L 105.72 612.53 
L 106.23 611.58 
L 105.68 610.64 
L 106.37 609.69 
L 105.9 608.74 
L 105.67 607.8 
L 106.21 606.85 
L 106.37 605.9 
L 105.67 604.96 
L 105.71 603.07 
L 105.9 602.12 
L 106.48 601.17 
L 106.33 600.23 
L 105.75 599.28 
L 105.66 598.33 
L 105.98 597.39 
L 105.96 596.44 
L 105.71 595.5 
L 105.99 594.55 
L 106.54 593.6 
L 105.67 592.66 
L 105.75 591.71 
L 106.31 590.77 
L 105.68 589.82 
L 105.68 587.93 
L 106.2 586.98 
L 105.67 586.03 
L 105.66 585.09 
L 106.01 584.14 
L 106.19 583.2 
L 106.18 582.25 
L 105.83 581.3 
L 106.42 580.36 
L 105.68 579.41 
L 105.83 578.47 
L 105.78 577.52 
L 105.93 576.57 
L 105.69 575.63 
L 105.67 574.68 
L 106.54 573.73 
L 105.74 572.79 
L 105.88 571.84 
L 106.42 570.9 
L 105.74 569.95 
L 105.78 569 
L 105.94 568.06 
L 105.66 567.11 
L 105.66 566.16 
L 106.02 565.22 
L 105.78 564.27 
L 105.66 563.33 
L 105.73 562.38 
L 106.09 561.43 
L 106.18 560.49 
L 105.7 558.6 
L 106.3 557.65 
L 105.69 556.7 
L 106.18 555.76 
L 105.68 554.81 
L 106.45 553.86 
L 105.88 551.97 
L 105.83 551.03 
L 106.05 549.13 
L 105.94 548.19 
L 106.1 547.24 
L 105.66 546.3 
L 105.81 545.35 
L 106.17 544.4 
L 105.83 543.46 
L 106.52 542.51 
L 105.92 541.56 
L 105.74 540.62 
L 106.38 539.67 
L 105.82 538.73 
L 106.03 536.83 
L 106.32 535.89 
L 105.7 534.94 
L 106.35 533.99 
L 105.96 533.05 
L 105.78 532.1 
L 105.76 531.16 
L 106.54 530.21 
L 106.47 529.26 
L 105.93 528.32 
L 105.76 527.37 
L 106.52 526.43 
L 105.66 525.48 
L 105.66 524.53 
L 105.87 523.59 
L 105.97 522.64 
L 105.66 521.69 
L 105.69 517.91 
L 105.67 516.02 
L 105.78 515.07 
L 105.67 514.13 
L 106.2 513.18 
L 105.8 512.23 
L 105.67 511.29 
L 106.04 510.34 
L 106.22 509.39 
L 105.77 508.45 
L 105.66 507.5 
L 106.04 506.56 
L 106.38 504.66 
L 106.12 503.72 
L 105.66 499.93 
L 106.27 498.99 
L 105.73 497.09 
L 105.67 496.15 
L 105.73 495.2 
L 106.18 494.26 
L 105.7 493.31 
L 105.66 492.36 
L 105.79 491.42 
L 105.76 490.47 
L 106.1 489.52 
L 105.86 487.63 
L 106.53 486.69 
L 106.31 485.74 
L 105.67 484.79 
L 105.82 482.9 
L 105.66 481.96 
L 106.18 481.01 
L 106.19 480.06 
L 105.73 479.12 
L 106.4 478.17 
L 105.93 477.22 
L 105.7 476.28 
L 106.01 475.33 
L 106.13 473.44 
L 106.52 472.49 
L 106.42 471.55 
L 105.81 470.6 
L 105.83 469.65 
L 105.66 468.71 
L 105.81 467.76 
L 105.68 466.82 
L 105.67 465.87 
L 106.26 464.92 
L 105.66 463.98 
L 105.67 463.03 
L 106.06 462.09 
L 105.82 460.19 
L 106.25 459.25 
L 105.71 458.3 
L 105.69 457.35 
L 105.9 456.41 
L 105.67 455.46 
L 106.45 453.57 
L 106.26 452.62 
L 106.36 451.68 
L 105.66 450.73 
L 105.82 449.79 
L 106.4 448.84 
L 106.3 447.89 
L 105.98 446.95 
L 106.05 446 
L 105.72 445.05 
L 105.66 443.16 
L 106.4 442.22 
L 105.73 441.27 
L 106.56 440.32 
L 105.66 439.38 
L 106.24 438.43 
L 105.66 436.54 
L 106.06 435.59 
L 106.1 432.75 
L 106.08 431.81 
L 106.19 430.86 
L 105.79 429.92 
L 106.49 428.97 
L 105.87 428.02 
L 105.72 427.08 
L 106.56 426.13 
L 105.73 425.18 
L 105.83 424.24 
L 106.1 423.29 
L 106.24 422.35 
L 105.75 421.4 
L 105.66 420.45 
L 105.96 419.51 
L 105.98 418.56 
L 106.14 417.62 
L 105.72 416.67 
L 106.27 415.72 
L 106.2 414.78 
L 106.33 413.83 
L 105.94 410.99 
L 106.33 410.05 
L 105.7 409.1 
L 106.06 408.15 
L 106.23 407.21 
L 106.2 406.26 
L 105.67 405.31 
L 105.75 404.37 
L 106.45 403.42 
L 106.2 402.48 
L 105.68 401.53 
L 105.87 400.58 
L 106.26 399.64 
L 106.33 398.69 
L 105.9 397.75 
L 105.66 396.8 
L 105.68 393.96 
L 105.66 393.01 
L 106.1 392.07 
L 106.1 391.12 
L 105.83 390.18 
L 106.36 389.23 
L 105.67 388.28 
L 105.69 387.34 
L 106 386.39 
L 105.91 385.45 
L 105.67 384.5 
L 106.41 383.55 
L 106.01 382.61 
L 105.99 381.66 
L 105.78 380.71 
L 105.99 379.77 
L 105.66 378.82 
L 105.74 377.88 
L 106.02 376.93 
L 105.91 375.04 
L 105.66 374.09 
L 105.75 373.14 
L 106.54 372.2 
L 106.47 371.25 
L 106.27 370.31 
L 105.66 369.36 
L 105.7 367.47 
L 106.28 366.52 
L 105.69 365.58 
L 105.72 363.68 
L 106.15 362.74 
L 105.91 361.79 
L 106.33 360.84 
L 105.66 359.9 
L 105.66 358.95 
L 106.31 358.01 
L 105.67 357.06 
L 106.12 356.11 
L 105.99 355.17 
L 105.69 354.22 
L 105.72 353.28 
L 106.16 352.33 
L 105.66 351.38 
L 106.49 350.44 
L 105.66 349.49 
L 105.68 348.54 
L 106.03 347.6 
L 105.67 346.65 
L 106.56 345.71 
L 105.83 344.76 
L 105.66 343.81 
L 105.68 342.87 
L 105.92 341.92 
L 106.35 340.97 
L 105.72 340.03 
L 106.13 336.24 
L 105.75 335.3 
L 105.78 334.35 
L 106.35 333.41 
L 106.41 332.46 
L 105.81 331.51 
L 106.56 330.57 
L 105.68 329.62 
L 106.27 328.67 
L 106.41 327.73 
L 105.95 326.78 
L 106.09 325.84 
L 105.66 324.89 
L 106.3 323.94 
L 105.96 322.05 
L 105.96 321.11 
L 105.68 320.16 
L 106.31 319.21 
L 105.91 318.27 
L 105.99 317.32 
L 105.68 316.37 
L 106.02 315.43 
L 105.71 314.48 
L 106.19 313.54 
L 105.66 312.59 
L 105.8 309.75 
L 106.35 308.8 
L 105.66 307.86 
L 105.94 306.91 
L 105.66 305.97 
L 105.79 305.02 
L 105.68 303.13 
L 105.87 302.18 
L 105.72 300.29 
L 106 299.34 
L 105.71 298.4 
L 106.52 297.45 
L 105.71 296.5 
L 106.55 295.56 
L 105.68 294.61 
L 106.48 293.67 
L 105.66 292.72 
L 105.66 290.83 
L 106.11 289.88 
L 105.7 288.94 
L 105.72 287.99 
L 106.07 287.04 
L 105.66 286.1 
L 105.92 285.15 
L 105.68 283.26 
L 106.41 282.31 
L 105.77 281.37 
L 105.73 280.42 
L 106.1 279.47 
L 106.32 278.53 
L 105.7 277.58 
L 105.67 276.63 
L 106.5 275.69 
L 105.82 274.74 
L 105.92 273.8 
L 105.85 272.85 
L 106.28 271.9 
L 105.82 270.96 
L 106.18 270.01 
L 105.66 268.12 
L 105.89 267.17 
L 106.32 266.23 
L 105.91 265.28 
L 105.66 263.39 
L 106.1 262.44 
L 105.8 261.5 
L 105.78 259.6 
L 105.76 257.71 
L 105.73 256.77 
L 105.85 255.82 
L 105.66 254.87 
L 105.83 252.98 
L 106.37 252.03 
L 105.82 251.09 
L 105.94 250.14 
L 106.38 249.2 
L 106.01 246.36 
L 105.98 245.41 
L 105.69 244.46 
L 105.66 241.63 
L 106 240.68 
L 105.99 239.73 
L 105.66 238.79 
L 106.3 237.84 
L 105.83 236.9 
L 105.92 235.95 
L 105.66 235 
L 106.33 234.06 
L 105.66 233.11 
L 105.7 232.16 
L 105.85 231.22 
L 105.91 229.33 
L 106.46 228.38 
L 105.66 227.43 
L 106.07 226.49 
L 105.82 225.54 
L 106.26 224.6 
L 106.06 223.65 
L 106.26 222.7 
L 106.34 221.76 
L 106.21 220.81 
L 105.67 219.86 
L 106.2 217.97 
L 106.2 217.03 
L 106.44 216.08 
L 105.81 215.13 
L 105.66 214.19 
L 106.14 213.24 
L 105.73 212.29 
L 106.05 211.35 
L 105.66 210.4 
L 105.77 209.46 
L 106.02 208.51 
L 105.67 207.56 
L 105.75 206.62 
L 105.67 205.67 
L 106.38 204.73 
L 105.9 201.89 
L 106.53 200.94 
L 105.72 199.99 
L 106.11 199.05 
L 105.66 198.1 
L 106.01 197.16 
L 105.69 196.21 
L 105.66 195.26 
L 106.41 194.32 
L 105.73 193.37 
L 106.55 192.43 
L 106.08 191.48 
L 106.07 189.59 
L 106.55 188.64 
L 105.7 187.69 
L 106.55 186.75 
L 105.75 185.8 
L 105.66 184.86 
L 106.43 183.91 
L 105.66 182.96 
L 105.86 182.02 
L 106.29 181.07 
L 105.72 180.12 
L 106.13 179.18 
L 106.03 178.23 
L 106.09 177.29 
L 105.68 176.34 
L 106.11 175.39 
L 106.3 174.45 
L 105.67 173.5 
L 106.5 172.56 
L 106.48 171.61 
L 105.75 170.66 
L 106.49 169.72 
L 106.46 168.77 
L 105.67 167.82 
L 106.16 166.88 
L 106.5 165.93 
L 106.27 164.99 
L 105.67 164.04 
L 105.95 162.15 
L 105.78 161.2 
L 105.79 160.26 
L 105.66 159.31 
L 105.74 157.42 
L 105.96 155.52 
L 106.49 154.58 
L 105.66 153.63 
L 105.77 152.69 
L 106.35 151.74 
L 106.28 150.79 
L 105.67 149.85 
L 106.07 148.9 
L 105.66 147.96 
L 106.47 147.01 
L 105.72 146.06 
L 105.99 145.12 
L 105.86 144.17 
L 105.89 143.22 
L 105.7 142.28 
L 105.77 141.33 
L 105.73 140.39 
L 106 139.44 
L 105.82 138.49 
L 105.97 137.55 
L 105.92 136.6 
L 106.06 135.65 
L 106.52 134.71 
L 105.92 133.76 
L 105.93 130.92 
L 105.71 129.03 
L 105.92 128.09 
L 105.71 127.14 
L 106.37 125.25 
L 106.24 124.3 
L 106.22 123.35 
L 105.7 122.41 
L 105.69 120.52 
L 105.95 119.57 
L 105.67 118.62 
L 105.66 117.68 
L 106.56 116.73 
L 105.77 115.79 
L 105.66 114.84 
L 106.1 112.95 
L 105.67 111.05 
L 105.9 110.11 
L 105.66 109.16 
L 106.14 108.22 
L 106.46 107.27 
L 105.66 106.32 
L 106.29 104.43 
L 105.68 102.54 
L 105.66 101.59 
L 105.85 100.65 
L 105.66 99.7 
L 106.29 98.75 
L 105.9 97.81 
L 105.75 96.86 
L 106.2 95.92 
L 105.7 94.97 
L 105.9 94.02 
L 105.89 93.08 
L 105.66 92.13 
L 106.24 91.18 
L 106.1 90.24 
L 105.69 89.29 
L 105.69 89.29 
" clip-path="url(#p57dd0e70b4)" style="fill: none; stroke: #00ff00; stroke-width: 1.5; stroke-linecap: square"/>
</g>
<g id="line2d_51">
<path d="M 124.87 839.68 
L 122.41 838.04 
L 123.23 834.76 
L 128.16 829.84 
L 129.8 824.92 
L 126.52 819.99 
L 116.67 815.07 
L 107.65 811.79 
L 106.83 805.23 
L 106.05 802.71 
L 106.29 800.82 
L 106.32 799.87 
L 106.18 798.92 
L 106.39 797.98 
L 106.21 797.03 
L 106.38 796.09 
L 106.37 794.19 
L 106.11 793.25 
L 106.47 791.35 
L 106.43 790.41 
L 106.21 789.46 
L 106.31 787.57 
L 106.07 786.62 
L 106.33 784.73 
L 106.02 778.11 
L 106.19 777.16 
L 106.03 776.22 
L 106.21 775.27 
L 106.08 774.32 
L 106.47 773.38 
L 106.22 772.43 
L 106.34 771.48 
L 106.34 769.59 
L 106.37 765.81 
L 106.2 764.86 
L 106.17 763.92 
L 106.4 762.97 
L 106.14 759.18 
L 106.14 758.24 
L 106.36 757.29 
L 106.27 755.4 
L 106.29 752.56 
L 106.31 744.99 
L 106.2 744.05 
L 106.44 743.1 
L 106.25 741.21 
L 106.09 739.32 
L 106.21 738.37 
L 106.11 736.48 
L 106.5 734.58 
L 106.11 733.64 
L 106.43 732.69 
L 106.02 730.8 
L 106.29 729.85 
L 106.31 728.91 
L 106.47 727.96 
L 106.12 727.01 
L 106.43 725.12 
L 106.05 724.18 
L 106.24 723.23 
L 106.31 721.34 
L 106.19 720.39 
L 106.35 717.55 
L 106.06 713.77 
L 106.38 712.82 
L 106.22 710.93 
L 106.36 709.98 
L 106 709.04 
L 106.3 708.09 
L 106.17 707.15 
L 106.18 705.25 
L 106.07 704.31 
L 106.34 703.36 
L 105.96 702.41 
L 106.17 701.47 
L 106.21 700.52 
L 106.43 699.58 
L 106.08 696.74 
L 106.41 695.79 
L 106.36 693.9 
L 106.02 692.95 
L 106.4 691.06 
L 106.1 690.11 
L 106.33 689.17 
L 106.4 686.33 
L 106.49 685.38 
L 106.25 684.44 
L 106.14 683.49 
L 106.16 682.54 
L 106.41 681.6 
L 105.99 680.65 
L 106.35 678.76 
L 106.18 677.81 
L 106.2 672.14 
L 106.12 670.24 
L 106.3 668.35 
L 106.17 667.41 
L 106.42 666.46 
L 106.14 665.51 
L 106.24 660.78 
L 106.15 658.89 
L 106.28 657.94 
L 106.1 653.21 
L 106.23 652.27 
L 106.32 650.37 
L 106.46 649.43 
L 106.23 648.48 
L 106.39 646.59 
L 106.27 645.64 
L 106.38 644.7 
L 106.13 642.81 
L 106.42 641.86 
L 106.24 640.91 
L 106.36 639.97 
L 106.13 639.02 
L 106.37 634.29 
L 106.14 633.34 
L 106.37 631.45 
L 106.44 630.5 
L 106.14 629.56 
L 106.43 628.61 
L 106.03 627.67 
L 106.11 626.72 
L 106.38 625.77 
L 106.28 624.83 
L 106.52 623.88 
L 106.07 622.94 
L 106.35 621.99 
L 106.19 621.04 
L 106.32 620.1 
L 106.6 619.15 
L 106.06 618.2 
L 106.32 615.37 
L 106.44 611.58 
L 106.02 608.74 
L 106.35 604.96 
L 105.98 604.01 
L 106.28 603.07 
L 106.13 602.12 
L 106.18 601.17 
L 106.57 600.23 
L 106.21 599.28 
L 106.21 598.33 
L 106.39 597.39 
L 106.04 595.5 
L 106.42 594.55 
L 106.25 593.6 
L 106.3 592.66 
L 106.5 591.71 
L 106.27 590.77 
L 106.41 589.82 
L 106.29 587.93 
L 106.34 586.98 
L 106.05 586.03 
L 106.49 585.09 
L 106.36 583.2 
L 106.51 581.3 
L 106.41 580.36 
L 106.17 579.41 
L 106.29 578.47 
L 106.16 576.57 
L 106.36 574.68 
L 106.18 569.95 
L 106.31 569 
L 106.25 568.06 
L 106.36 567.11 
L 106.27 566.16 
L 106.28 564.27 
L 106.05 563.33 
L 106.23 562.38 
L 105.96 561.43 
L 106.42 559.54 
L 106.17 558.6 
L 106.07 556.7 
L 106.35 554.81 
L 106.41 553.86 
L 106.27 552.92 
L 106.28 551.97 
L 106.1 551.03 
L 106.32 549.13 
L 106.17 547.24 
L 106.46 545.35 
L 106.26 544.4 
L 106.31 542.51 
L 106.26 541.56 
L 106.37 540.62 
L 106.2 539.67 
L 106.52 536.83 
L 106.18 535.89 
L 106.15 533.99 
L 106.35 533.05 
L 106.12 532.1 
L 106.08 531.16 
L 106.34 529.26 
L 106.25 528.32 
L 106.29 526.43 
L 106.63 525.48 
L 106.08 524.53 
L 106.16 520.75 
L 106.05 519.8 
L 106.27 518.86 
L 106.12 517.91 
L 106.24 516.02 
L 106.17 514.13 
L 106.4 513.18 
L 106.26 510.34 
L 106.36 509.39 
L 106.21 506.56 
L 106.48 503.72 
L 106.1 502.77 
L 106.15 495.2 
L 106.36 494.26 
L 106.2 493.31 
L 106.27 492.36 
L 106.22 490.47 
L 106.32 488.58 
L 106.2 487.63 
L 106.27 485.74 
L 106.22 481.96 
L 106.28 481.01 
L 106.2 480.06 
L 106.25 479.12 
L 106.16 477.22 
L 106.31 475.33 
L 105.97 474.39 
L 106.29 473.44 
L 106.26 472.49 
L 106.07 471.55 
L 106.33 468.71 
L 106.12 467.76 
L 106.47 464.92 
L 106.37 463.03 
L 106.34 462.09 
L 106.5 461.14 
L 106.43 460.19 
L 106.23 459.25 
L 106.18 457.35 
L 106.3 456.41 
L 106.28 453.57 
L 105.99 452.62 
L 106.41 450.73 
L 106.07 449.79 
L 106.24 448.84 
L 106.3 446 
L 106.03 445.05 
L 106.28 444.11 
L 106.24 440.32 
L 105.92 439.38 
L 106.2 438.43 
L 106.05 437.48 
L 106.18 436.54 
L 106.11 435.59 
L 106.3 434.65 
L 106.3 432.75 
L 106.24 431.81 
L 106.47 430.86 
L 106.27 429.92 
L 106.21 428.97 
L 106.47 428.02 
L 106.3 427.08 
L 106.38 425.18 
L 106.18 424.24 
L 106.43 420.45 
L 106.25 419.51 
L 106.29 418.56 
L 106.07 417.62 
L 106.05 416.67 
L 106.46 415.72 
L 106.24 414.78 
L 106.14 413.83 
L 106.22 412.88 
L 106.11 410.99 
L 106.22 410.05 
L 106.21 408.15 
L 106.36 405.31 
L 106.31 404.37 
L 106.39 403.42 
L 106.05 402.48 
L 106.37 399.64 
L 106.16 398.69 
L 106.45 397.75 
L 106.15 395.85 
L 106.18 394.91 
L 106.07 393.96 
L 106.33 393.01 
L 106.19 392.07 
L 106.43 391.12 
L 106.38 390.18 
L 106.16 389.23 
L 106.34 388.28 
L 106.16 387.34 
L 106.24 385.45 
L 106.43 384.5 
L 106.46 383.55 
L 106.15 381.66 
L 106.48 380.71 
L 106.23 379.77 
L 106.3 378.82 
L 106.1 377.88 
L 106.15 376.93 
L 106.42 375.98 
L 106.04 375.04 
L 106.25 374.09 
L 106.22 373.14 
L 105.88 372.2 
L 106.43 371.25 
L 106.2 370.31 
L 106.46 368.41 
L 106.12 366.52 
L 106.4 365.58 
L 106.4 363.68 
L 106.2 362.74 
L 106.3 361.79 
L 106.13 360.84 
L 106.27 359.9 
L 106.12 358.01 
L 106.46 357.06 
L 106.24 356.11 
L 106.48 355.17 
L 106.25 354.22 
L 106.24 352.33 
L 106.4 349.49 
L 106.31 346.65 
L 106.23 345.71 
L 106.35 344.76 
L 106.25 343.81 
L 106.31 342.87 
L 106.18 341.92 
L 106.24 340.97 
L 106.15 340.03 
L 106.58 339.08 
L 106.57 338.14 
L 106.22 336.24 
L 106.11 335.3 
L 106.24 334.35 
L 106.15 333.41 
L 106.28 332.46 
L 106.14 331.51 
L 106.33 330.57 
L 106.14 329.62 
L 106.18 328.67 
L 106.03 327.73 
L 106.44 326.78 
L 106.01 325.84 
L 106.09 323.94 
L 106.35 323 
L 106.12 322.05 
L 106.31 315.43 
L 106.26 313.54 
L 106.54 312.59 
L 106.02 311.64 
L 106.39 310.7 
L 106.2 309.75 
L 106.27 308.8 
L 106.61 307.86 
L 106.21 305.97 
L 106.29 305.02 
L 106.19 304.07 
L 106.27 303.13 
L 106.2 302.18 
L 106.27 301.24 
L 106.14 300.29 
L 106.23 297.45 
L 106.37 296.5 
L 106.15 295.56 
L 106.29 294.61 
L 106.16 293.67 
L 106.26 292.72 
L 106.17 291.77 
L 106.24 290.83 
L 106.57 289.88 
L 106.11 288.94 
L 106.34 287.99 
L 106.18 287.04 
L 106.28 286.1 
L 106.17 285.15 
L 106.41 283.26 
L 106.27 281.37 
L 106.41 280.42 
L 106.2 279.47 
L 106.12 278.53 
L 106.24 276.63 
L 106.16 272.85 
L 106.55 271.9 
L 106.08 270.01 
L 106.24 269.07 
L 105.99 268.12 
L 106.36 267.17 
L 106.14 266.23 
L 106.07 265.28 
L 106.24 264.33 
L 106.08 263.39 
L 106.3 262.44 
L 106.19 261.5 
L 106.37 260.55 
L 106.33 259.6 
L 106.16 258.66 
L 106.31 257.71 
L 106.44 255.82 
L 106.1 254.87 
L 106.42 253.93 
L 106.28 252.03 
L 106.59 251.09 
L 106.26 250.14 
L 106.26 249.2 
L 106.12 248.25 
L 106.32 247.3 
L 106.37 246.36 
L 106.11 244.46 
L 106.48 243.52 
L 106.18 242.57 
L 106.45 241.63 
L 106.31 240.68 
L 106.27 238.79 
L 106.04 237.84 
L 106.25 236.9 
L 106.35 235 
L 106.19 234.06 
L 106.52 233.11 
L 106.31 232.16 
L 106.18 228.38 
L 106.29 227.43 
L 106.32 225.54 
L 106.46 224.6 
L 106.36 223.65 
L 106.1 222.7 
L 106.45 221.76 
L 106.4 220.81 
L 106.24 219.86 
L 106.09 217.97 
L 106.24 217.03 
L 106.28 216.08 
L 106.19 215.13 
L 106.25 212.29 
L 106.26 210.4 
L 106.48 209.46 
L 106.27 207.56 
L 106.13 206.62 
L 106.19 204.73 
L 106.32 203.78 
L 106.07 200.94 
L 106.33 199.05 
L 106.06 197.16 
L 106.32 194.32 
L 106.14 192.43 
L 106.34 191.48 
L 106.17 190.53 
L 106.21 189.59 
L 106.1 188.64 
L 106.36 187.69 
L 106.33 184.86 
L 106.07 183.91 
L 106.32 182.96 
L 106.06 182.02 
L 106.22 181.07 
L 106.18 179.18 
L 106.59 177.29 
L 106.01 176.34 
L 106.3 175.39 
L 106.39 174.45 
L 106.24 173.5 
L 106.34 172.56 
L 106.11 171.61 
L 106.18 170.66 
L 106.4 169.72 
L 106.41 168.77 
L 106.26 167.82 
L 106.39 166.88 
L 106.35 164.99 
L 106.48 164.04 
L 106.1 162.15 
L 106.43 161.2 
L 106.11 160.26 
L 106.32 159.31 
L 106.15 158.36 
L 106.19 157.42 
L 106.39 156.47 
L 106.13 155.52 
L 106.23 154.58 
L 106.27 151.74 
L 106.04 150.79 
L 106.21 149.85 
L 106.06 148.9 
L 106.26 147.96 
L 106.2 147.01 
L 106.37 146.06 
L 106.21 144.17 
L 106.42 142.28 
L 106.18 141.33 
L 106.27 139.44 
L 106.21 137.55 
L 106.13 136.6 
L 106.24 135.65 
L 106.11 133.76 
L 106.18 132.82 
L 106.36 131.87 
L 106.31 129.98 
L 106.34 129.03 
L 106.21 128.09 
L 106.23 125.25 
L 106.18 124.3 
L 106.38 123.35 
L 106.17 122.41 
L 106.2 121.46 
L 106.38 120.52 
L 106.25 118.62 
L 106.25 117.68 
L 106.11 116.73 
L 106.48 115.79 
L 106.16 112.95 
L 106.32 112 
L 106.19 111.05 
L 106.36 110.11 
L 106.26 107.27 
L 106.46 106.32 
L 106.16 105.38 
L 106.36 103.48 
L 106.25 101.59 
L 106.31 100.65 
L 106.23 99.7 
L 106.4 98.75 
L 106.14 96.86 
L 106.59 95.92 
L 106.19 94.97 
L 106.34 94.02 
L 106.24 92.13 
L 106.07 91.18 
L 106.44 90.24 
L 106.43 89.29 
L 106.43 89.29 
" clip-path="url(#p57dd0e70b4)" style="fill: none; stroke: #fa8072; stroke-width: 1.5; stroke-linecap: square"/>
</g>
<g id="patch_3">
<path d="M 103.32 862.92 
L 103.32 88.78 
" style="fill: none; stroke: #000000; stroke-width: 0.9; stroke-linejoin: miter; stroke-linecap: square"/>
</g>
<g id="patch_4">
<path d="M 268.7 862.92 
L 268.7 88.78 
" style="fill: none; stroke: #000000; stroke-width: 0.9; stroke-linejoin: miter; stroke-linecap: square"/>
</g>
<g id="patch_5">
<path d="M 103.32 862.92 
L 268.7 862.92 
" style="fill: none; stroke: #000000; stroke-width: 0.9; stroke-linejoin: miter; stroke-linecap: square"/>
</g>
<g id="patch_6">
<path d="M 103.32 88.78 
L 268.7 88.78 
" style="fill: none; stroke: #000000; stroke-width: 0.9; stroke-linejoin: miter; stroke-linecap: square"/>
</g>
</g>
<g id="axes_2">
<g id="patch_7">
<path d="M 327.79 862.92 
L 493.17 862.92 
L 493.17 88.78 
L 327.79 88.78 
z
" style="fill: #ffffff"/>
</g>
<g id="matplotlib.axis_3">
<g id="xtick_5">
<g id="line2d_52">
<path d="M 327.79 862.92 
L 327.79 88.78 
" clip-path="url(#pae06bd856a)" style="fill: none; stroke: #b0b0b0; stroke-width: 0.8; stroke-linecap: square"/>
</g>
<g id="line2d_53">
<g>
<path d="M 0 0 L 0 4.4" transform="translate(327.79 862.92)" style="stroke: #000000; stroke-width: 1.45"/>
</g>
</g>
<g id="line2d_54">
<g>
<path d="M 0 0 L 0 -4.4" transform="translate(327.79 88.78)" style="stroke: #000000; stroke-width: 1.45"/>
</g>
</g>
<g id="text_17">
<text style="font-size: 12px; font-family: 'DejaVu Serif', serif; text-anchor: middle" x="327.79" y="878.34" transform="rotate(-0 327.79 878.34)">0</text>
</g>
</g>
<g id="xtick_6">
<g id="line2d_55">
<path d="M 410.48 862.92 
L 410.48 88.78 
" clip-path="url(#pae06bd856a)" style="fill: none; stroke: #b0b0b0; stroke-width: 0.8; stroke-linecap: square"/>
</g>
<g id="line2d_56">
<g>
<path d="M 0 0 L 0 4.4" transform="translate(410.48 862.92)" style="stroke: #000000; stroke-width: 1.45"/>
</g>
</g>
<g id="line2d_57">
<g>
<path d="M 0 0 L 0 -4.4" transform="translate(410.48 88.78)" style="stroke: #000000; stroke-width: 1.45"/>
</g>
</g>
<g id="text_18">
<text style="font-size: 12px; font-family: 'DejaVu Serif', serif; text-anchor: middle" x="410.48" y="878.34" transform="rotate(-0 410.48 878.34)">200</text>
</g>
</g>
<g id="xtick_7">
<g id="line2d_58">
<path d="M 493.17 862.92 
L 493.17 88.78 
" clip-path="url(#pae06bd856a)" style="fill: none; stroke: #b0b0b0; stroke-width: 0.8; stroke-linecap: square"/>
</g>
<g id="line2d_59">
<g>
<path d="M 0 0 L 0 4.4" transform="translate(493.17 862.92)" style="stroke: #000000; stroke-width: 1.45"/>
</g>
</g>
<g id="line2d_60">
<g>
<path d="M 0 0 L 0 -4.4" transform="translate(493.17 88.78)" style="stroke: #000000; stroke-width: 1.45"/>
</g>
</g>
<g id="text_19">
<text style="font-size: 12px; font-family: 'DejaVu Serif', serif; text-anchor: middle" x="493.17" y="878.34" transform="rotate(-0 493.17 878.34)">400</text>
</g>
</g>
<g id="text_20">
<g transform="translate(329.77 899.12)">
<text>
<tspan x="0" y="-0.5" style="font-size: 14.4px; font-family: 'DejaVu Serif'">E</tspan>
<tspan x="10.49" y="-0.5" style="font-size: 14.4px; font-family: 'DejaVu Serif'">x</tspan>
<tspan x="18.6" y="-0.5" style="font-size: 14.4px; font-family: 'DejaVu Serif'">t</tspan>
<tspan x="24.38" y="-0.5" style="font-size: 14.4px; font-family: 'DejaVu Serif'">i</tspan>
<tspan x="28.97" y="-0.5" style="font-size: 14.4px; font-family: 'DejaVu Serif'">n</tspan>
<tspan x="38.23" y="-0.5" style="font-size: 14.4px; font-family: 'DejaVu Serif'">c</tspan>
<tspan x="46.28" y="-0.5" style="font-size: 14.4px; font-family: 'DejaVu Serif'">t</tspan>
<tspan x="52.06" y="-0.5" style="font-size: 14.4px; font-family: 'DejaVu Serif'">.</tspan>
<tspan x="56.63" y="-0.5" style="font-size: 14.4px; font-family: 'DejaVu Serif'"> </tspan>
<tspan x="61.2" y="-0.5" style="font-size: 14.4px; font-family: 'DejaVu Serif'">c</tspan>
<tspan x="69.25" y="-0.5" style="font-size: 14.4px; font-family: 'DejaVu Serif'">o</tspan>
<tspan x="77.9" y="-0.5" style="font-size: 14.4px; font-family: 'DejaVu Serif'">e</tspan>
<tspan x="86.41" y="-0.5" style="font-size: 14.4px; font-family: 'DejaVu Serif'">f</tspan>
<tspan x="91.73" y="-0.5" style="font-size: 14.4px; font-family: 'DejaVu Serif'">f</tspan>
<tspan x="97.05" y="-0.5" style="font-size: 14.4px; font-family: 'DejaVu Serif'">.</tspan>
<tspan x="101.62" y="-0.5" style="font-size: 14.4px; font-family: 'DejaVu Serif'"> </tspan>
<tspan x="106.19" y="-0.5" style="font-size: 14.4px; font-family: 'DejaVu Serif'">[</tspan>
<tspan x="111.8" y="-0.5" style="font-size: 14.4px; font-family: 'DejaVu Serif'">M</tspan>
<tspan x="126.52" y="-0.5" style="font-size: 14.4px; font-family: 'DejaVu Serif'">m</tspan>
<tspan x="155.5" y="-0.5" style="font-size: 14.4px; font-family: 'DejaVu Serif'">]</tspan>
<tspan x="140.28" y="-5.86" style="font-size: 10.08px; font-family: 'DejaVu Sans'">−</tspan>
<tspan x="148.71" y="-5.86" style="font-size: 10.08px; font-family: 'DejaVu Sans'">1</tspan>
</text>
</g>
</g>
</g>
<g id="matplotlib.axis_4">
<g id="ytick_11">
<g id="line2d_61">
<path d="M 327.79 862.92 
L 493.17 862.92 
" clip-path="url(#pae06bd856a)" style="fill: none; stroke: #b0b0b0; stroke-width: 0.8; stroke-linecap: square"/>
</g>
<g id="line2d_62">
<g>
<path d="M 0 0 L -4.4 0" transform="translate(327.79 862.92)" style="stroke: #000000; stroke-width: 1.45"/>
</g>
</g>
<g id="line2d_63">
<g>
<path d="M 0 0 L 4.4 0" transform="translate(493.17 862.92)" style="stroke: #000000; stroke-width: 1.45"/>
</g>
</g>
<g id="text_21">
<text style="font-size: 12px; font-family: 'DejaVu Serif', serif; text-anchor: end" x="320.75" y="867.48" transform="rotate(-0 320.75 867.48)">0</text>
</g>
</g>
<g id="ytick_12">
<g id="line2d_64">
<path d="M 327.79 776.9 
L 493.17 776.9 
" clip-path="url(#pae06bd856a)" style="fill: none; stroke: #b0b0b0; stroke-width: 0.8; stroke-linecap: square"/>
</g>
<g id="line2d_65">
<g>
<path d="M 0 0 L -4.4 0" transform="translate(327.79 776.9)" style="stroke: #000000; stroke-width: 1.45"/>
</g>
</g>
<g id="line2d_66">
<g>
<path d="M 0 0 L 4.4 0" transform="translate(493.17 776.9)" style="stroke: #000000; stroke-width: 1.45"/>
</g>
</g>
<g id="text_22">
<text style="font-size: 12px; font-family: 'DejaVu Serif', serif; text-anchor: end" x="320.75" y="781.46" transform="rotate(-0 320.75 781.46)">2</text>
</g>
</g>
<g id="ytick_13">
<g id="line2d_67">
<path d="M 327.79 690.89 
L 493.17 690.89 
" clip-path="url(#pae06bd856a)" style="fill: none; stroke: #b0b0b0; stroke-width: 0.8; stroke-linecap: square"/>
</g>
<g id="line2d_68">
<g>
<path d="M 0 0 L -4.4 0" transform="translate(327.79 690.89)" style="stroke: #000000; stroke-width: 1.45"/>
</g>
</g>
<g id="line2d_69">
<g>
<path d="M 0 0 L 4.4 0" transform="translate(493.17 690.89)" style="stroke: #000000; stroke-width: 1.45"/>
</g>
</g>
<g id="text_23">
<text style="font-size: 12px; font-family: 'DejaVu Serif', serif; text-anchor: end" x="320.75" y="695.45" transform="rotate(-0 320.75 695.45)">4</text>
</g>
</g>
<g id="ytick_14">
<g id="line2d_70">
<path d="M 327.79 604.87 
L 493.17 604.87 
" clip-path="url(#pae06bd856a)" style="fill: none; stroke: #b0b0b0; stroke-width: 0.8; stroke-linecap: square"/>
</g>
<g id="line2d_71">
<g>
<path d="M 0 0 L -4.4 0" transform="translate(327.79 604.87)" style="stroke: #000000; stroke-width: 1.45"/>
</g>
</g>
<g id="line2d_72">
<g>
<path d="M 0 0 L 4.4 0" transform="translate(493.17 604.87)" style="stroke: #000000; stroke-width: 1.45"/>
</g>
</g>
<g id="text_24">
<text style="font-size: 12px; font-family: 'DejaVu Serif', serif; text-anchor: end" x="320.75" y="609.43" transform="rotate(-0 320.75 609.43)">6</text>
</g>
</g>
<g id="ytick_15">
<g id="line2d_73">
<path d="M 327.79 518.86 
L 493.17 518.86 
" clip-path="url(#pae06bd856a)" style="fill: none; stroke: #b0b0b0; stroke-width: 0.8; stroke-linecap: square"/>
</g>
<g id="line2d_74">
<g>
<path d="M 0 0 L -4.4 0" transform="translate(327.79 518.86)" style="stroke: #000000; stroke-width: 1.45"/>
</g>
</g>
<g id="line2d_75">
<g>
<path d="M 0 0 L 4.4 0" transform="translate(493.17 518.86)" style="stroke: #000000; stroke-width: 1.45"/>
</g>
</g>
<g id="text_25">
<text style="font-size: 12px; font-family: 'DejaVu Serif', serif; text-anchor: end" x="320.75" y="523.42" transform="rotate(-0 320.75 523.42)">8</text>
</g>
</g>
<g id="ytick_16">
<g id="line2d_76">
<path d="M 327.79 432.84 
L 493.17 432.84 
" clip-path="url(#pae06bd856a)" style="fill: none; stroke: #b0b0b0; stroke-width: 0.8; stroke-linecap: square"/>
</g>
<g id="line2d_77">
<g>
<path d="M 0 0 L -4.4 0" transform="translate(327.79 432.84)" style="stroke: #000000; stroke-width: 1.45"/>
</g>
</g>
<g id="line2d_78">
<g>
<path d="M 0 0 L 4.4 0" transform="translate(493.17 432.84)" style="stroke: #000000; stroke-width: 1.45"/>
</g>
</g>
<g id="text_26">
<text style="font-size: 12px; font-family: 'DejaVu Serif', serif; text-anchor: end" x="320.75" y="437.4" transform="rotate(-0 320.75 437.4)">10</text>
</g>
</g>
<g id="ytick_17">
<g id="line2d_79">
<path d="M 327.79 346.82 
L 493.17 346.82 
" clip-path="url(#pae06bd856a)" style="fill: none; stroke: #b0b0b0; stroke-width: 0.8; stroke-linecap: square"/>
</g>
<g id="line2d_80">
<g>
<path d="M 0 0 L -4.4 0" transform="translate(327.79 346.82)" style="stroke: #000000; stroke-width: 1.45"/>
</g>
</g>
<g id="line2d_81">
<g>
<path d="M 0 0 L 4.4 0" transform="translate(493.17 346.82)" style="stroke: #000000; stroke-width: 1.45"/>
</g>
</g>
<g id="text_27">
<text style="font-size: 12px; font-family: 'DejaVu Serif', serif; text-anchor: end" x="320.75" y="351.38" transform="rotate(-0 320.75 351.38)">12</text>
</g>
</g>
<g id="ytick_18">
<g id="line2d_82">
<path d="M 327.79 260.81 
L 493.17 260.81 
" clip-path="url(#pae06bd856a)" style="fill: none; stroke: #b0b0b0; stroke-width: 0.8; stroke-linecap: square"/>
</g>
<g id="line2d_83">
<g>
<path d="M 0 0 L -4.4 0" transform="translate(327.79 260.81)" style="stroke: #000000; stroke-width: 1.45"/>
</g>
</g>
<g id="line2d_84">
<g>
<path d="M 0 0 L 4.4 0" transform="translate(493.17 260.81)" style="stroke: #000000; stroke-width: 1.45"/>
</g>
</g>
<g id="text_28">
<text style="font-size: 12px; font-family: 'DejaVu Serif', serif; text-anchor: end" x="320.75" y="265.37" transform="rotate(-0 320.75 265.37)">14</text>
</g>
</g>
<g id="ytick_19">
<g id="line2d_85">
<path d="M 327.79 174.79 
L 493.17 174.79 
" clip-path="url(#pae06bd856a)" style="fill: none; stroke: #b0b0b0; stroke-width: 0.8; stroke-linecap: square"/>
</g>
<g id="line2d_86">
<g>
<path d="M 0 0 L -4.4 0" transform="translate(327.79 174.79)" style="stroke: #000000; stroke-width: 1.45"/>
</g>
</g>
<g id="line2d_87">
<g>
<path d="M 0 0 L 4.4 0" transform="translate(493.17 174.79)" style="stroke: #000000; stroke-width: 1.45"/>
</g>
</g>
<g id="text_29">
<text style="font-size: 12px; font-family: 'DejaVu Serif', serif; text-anchor: end" x="320.75" y="179.35" transform="rotate(-0 320.75 179.35)">16</text>
</g>
</g>
<g id="ytick_20">
<g id="line2d_88">
<path d="M 327.79 88.78 
L 493.17 88.78 
" clip-path="url(#pae06bd856a)" style="fill: none; stroke: #b0b0b0; stroke-width: 0.8; stroke-linecap: square"/>
</g>
<g id="line2d_89">
<g>
<path d="M 0 0 L -4.4 0" transform="translate(327.79 88.78)" style="stroke: #000000; stroke-width: 1.45"/>
</g>
</g>
<g id="line2d_90">
<g>
<path d="M 0 0 L 4.4 0" transform="translate(493.17 88.78)" style="stroke: #000000; stroke-width: 1.45"/>
</g>
</g>
<g id="text_30">
<text style="font-size: 12px; font-family: 'DejaVu Serif', serif; text-anchor: end" x="320.75" y="93.34" transform="rotate(-0 320.75 93.34)">18</text>
</g>
</g>
</g>
<g id="line2d_91">
<path d="M 329.44 804.28 
L 332.72 806.62 
L 335.53 808.5 
L 333.18 809.43 
L 331.78 812.24 
L 337.4 814.11 
L 338.8 817.86 
L 334.59 820.67 
L 328.04 823.48 
L 322.42 824.41 
" clip-path="url(#pae06bd856a)" style="fill: none; stroke: #0000ff; stroke-width: 1.5; stroke-linecap: square"/>
</g>
<g id="line2d_92">
<path d="M 322.42 841.27 
L 382.34 841.27 
L 391.7 843.14 
L 410.43 844.54 
L 417.92 845.95 
L 438.52 848.76 
L 461.92 851.57 
L 474.1 852.97 
L 322.42 854.38 
" clip-path="url(#pae06bd856a)" style="fill: none; stroke: #0000ff; stroke-width: 1.5; stroke-linecap: square"/>
</g>
<g id="line2d_93">
<path d="M 330.84 804.75 
L 336.46 807.56 
L 338.33 808.97 
L 335.99 810.37 
L 335.53 813.18 
L 338.33 815.99 
L 342.08 818.8 
L 346.76 822.54 
L 343.95 824.41 
L 341.14 827.22 
L 335.53 829.1 
L 328.04 830.97 
L 322.42 831.9 
" clip-path="url(#pae06bd856a)" style="fill: none; stroke: #008000; stroke-width: 1.5; stroke-linecap: square"/>
</g>
<g id="line2d_94">
<path d="M 322.42 841.08 
L 390.77 841.08 
L 380.47 842.2 
L 389.83 843.14 
L 387.96 845.01 
L 398.26 846.42 
L 410.43 847.82 
L 433.84 849.69 
L 457.24 851.1 
L 499.37 852.22 
L 499.37 854.84 
L 322.42 854.94 
" clip-path="url(#pae06bd856a)" style="fill: none; stroke: #008000; stroke-width: 1.5; stroke-linecap: square"/>
</g>
<g id="line2d_95"/>
<g id="line2d_96"/>
<g id="line2d_97"/>
<g id="line2d_98"/>
<g id="line2d_99">
<path d="M 322.42 840.05 
L 328.04 839.86 
L 335.53 837.52 
L 344.89 834.71 
L 352.38 831.9 
L 356.12 827.22 
L 360.81 822.54 
L 358 818.8 
L 352.38 815.99 
L 336.46 814.11 
L 328.97 802.88 
L 328.88 798.41 
L 329.01 796.47 
L 328.7 794.54 
L 328.88 792.6 
L 330.18 788.73 
L 330.44 786.8 
L 329.6 784.86 
L 330.11 782.93 
L 328.98 780.99 
L 328.64 777.12 
L 328.96 773.25 
L 328.83 771.31 
L 329.01 769.38 
L 329.01 767.44 
L 328.72 765.51 
L 328.77 763.57 
L 329.41 761.64 
L 329.19 757.77 
L 329.56 755.83 
L 328.99 751.96 
L 328.71 750.02 
L 328.64 748.09 
L 329.22 746.15 
L 330.2 744.22 
L 329.45 742.28 
L 329.4 740.35 
L 329.74 738.41 
L 329.45 736.48 
L 328.71 734.54 
L 329.87 732.61 
L 329.43 730.67 
L 330.7 728.74 
L 329.5 726.8 
L 330 724.86 
L 329.05 722.93 
L 329.04 720.99 
L 328.61 719.06 
L 328.83 717.12 
L 328.56 715.19 
L 328.65 711.32 
L 329.93 709.38 
L 329.95 707.45 
L 331.32 705.51 
L 332.41 703.58 
L 329.28 701.64 
L 331.53 699.7 
L 331.99 697.77 
L 332.08 695.83 
L 329.95 693.9 
L 330.55 691.96 
L 331.46 690.03 
L 330.1 688.09 
L 330.22 686.16 
L 330.19 684.22 
L 330.59 682.29 
L 330.17 680.35 
L 329.03 678.42 
L 328.79 676.48 
L 329.86 674.54 
L 329.67 672.61 
L 330.56 670.67 
L 331.98 666.8 
L 331.7 664.87 
L 330.05 662.93 
L 330.56 661 
L 330.05 659.06 
L 331.39 657.13 
L 329.95 655.19 
L 331.15 653.26 
L 329.63 651.32 
L 329.89 649.39 
L 330.74 647.45 
L 330.58 645.51 
L 331.61 643.58 
L 331.36 641.64 
L 331.35 639.71 
L 329.75 637.77 
L 330.25 635.84 
L 330.4 633.9 
L 330.71 631.97 
L 330.55 628.1 
L 329.9 626.16 
L 330.41 624.23 
L 330.39 622.29 
L 331.26 620.35 
L 331.9 618.42 
L 331.67 616.48 
L 329.8 614.55 
L 329.25 612.61 
L 331.24 610.68 
L 332 608.74 
L 333.2 606.81 
L 329.82 604.87 
L 329.77 602.94 
L 329.49 601 
L 329.01 599.07 
L 328.7 597.13 
L 329.41 595.2 
L 329.84 593.26 
L 331.21 591.32 
L 331.06 589.39 
L 330.77 587.45 
L 329.51 585.52 
L 330.11 583.58 
L 331.53 581.65 
L 330.71 579.71 
L 331.47 577.78 
L 330.85 575.84 
L 331.35 573.91 
L 330.6 571.97 
L 333.51 570.04 
L 332.22 568.1 
L 332.68 566.16 
L 330.4 564.23 
L 332.83 562.29 
L 332.37 560.36 
L 333.46 558.42 
L 332.78 556.49 
L 329.82 554.55 
L 329.87 552.62 
L 329.36 550.68 
L 329.53 548.75 
L 330.18 546.81 
L 330.33 544.88 
L 331.93 542.94 
L 332.27 541.01 
L 330.5 539.07 
L 330.29 537.13 
L 329.61 535.2 
L 330.17 533.26 
L 333.11 531.33 
L 332.68 529.39 
L 330.45 527.46 
L 331.55 525.52 
L 330.28 523.59 
L 332.43 521.65 
L 333.48 519.72 
L 335.13 517.78 
L 335.4 515.85 
L 333.95 513.91 
L 330.51 511.97 
L 332.25 510.04 
L 333.17 508.1 
L 331.14 506.17 
L 331.68 504.23 
L 329.03 500.36 
L 328.78 498.43 
L 329.65 494.56 
L 330.02 492.62 
L 331.74 490.69 
L 331.19 488.75 
L 330.22 486.82 
L 329.95 484.88 
L 329.24 482.94 
L 329.81 481.01 
L 331.9 479.07 
L 331.12 477.14 
L 334.29 475.2 
L 331.7 473.27 
L 330.46 471.33 
L 329.06 469.4 
L 328.85 465.53 
L 329.93 463.59 
L 330.62 461.66 
L 330.74 459.72 
L 332.09 457.78 
L 331.2 455.85 
L 331.85 453.91 
L 329.11 450.04 
L 329.89 448.11 
L 330.94 446.17 
L 332.66 444.24 
L 331.96 442.3 
L 333.78 440.37 
L 330.7 438.43 
L 329.9 436.5 
L 329.29 434.56 
L 331.04 432.62 
L 330.18 430.69 
L 332.7 428.75 
L 332.99 426.82 
L 332.97 424.88 
L 335.5 422.95 
L 332.63 421.01 
L 331.23 419.08 
L 330.45 417.14 
L 333.51 415.21 
L 332.74 413.27 
L 333.32 411.34 
L 332.19 409.4 
L 330.77 407.47 
L 331.14 405.53 
L 330.25 403.59 
L 330.63 401.66 
L 331.19 399.72 
L 334.16 397.79 
L 331.88 395.85 
L 333.75 393.92 
L 332.81 391.98 
L 334.55 390.05 
L 334.67 388.11 
L 331.88 386.18 
L 333.21 384.24 
L 330.6 382.31 
L 329.58 380.37 
L 330.28 378.43 
L 333.08 374.56 
L 332.9 372.63 
L 331.02 370.69 
L 330.75 368.76 
L 333.76 366.82 
L 334.04 364.89 
L 332.43 362.95 
L 332.01 361.02 
L 329.79 359.08 
L 332.45 357.15 
L 332.67 355.21 
L 335.03 353.28 
L 333.2 351.34 
L 331.12 349.4 
L 330.09 347.47 
L 330.58 345.53 
L 331.31 343.6 
L 334.34 339.73 
L 334.83 337.79 
L 336.42 335.86 
L 335.24 333.92 
L 332.12 331.99 
L 332.35 330.05 
L 332.12 328.12 
L 330.61 326.18 
L 330.59 324.24 
L 333.74 322.31 
L 332.64 320.37 
L 332.43 318.44 
L 330.99 316.5 
L 331.64 314.57 
L 330.75 312.63 
L 331.31 310.7 
L 332.55 308.76 
L 334.56 306.83 
L 334.56 304.89 
L 333.52 302.96 
L 330.64 301.02 
L 330.19 299.09 
L 330.96 297.15 
L 332.68 295.21 
L 332.72 293.28 
L 333.77 291.34 
L 333.26 289.41 
L 330.89 287.47 
L 336 285.54 
L 333.72 283.6 
L 333.32 281.67 
L 329.31 279.73 
L 329.52 277.8 
L 331.17 275.86 
L 330.31 273.93 
L 332.69 271.99 
L 329.77 270.05 
L 329.57 268.12 
L 331.15 266.18 
L 330.26 262.31 
L 329.72 260.38 
L 328.89 258.44 
L 328.86 256.51 
L 330.81 252.64 
L 330.23 250.7 
L 331.24 246.83 
L 331.12 244.9 
L 330.31 242.96 
L 330.27 241.02 
L 330.62 239.09 
L 333.08 237.15 
L 333.78 235.22 
L 331.2 233.28 
L 330.29 231.35 
L 330.25 229.41 
L 329.58 227.48 
L 328.64 225.54 
L 328.87 223.61 
L 329.71 221.67 
L 332.32 219.74 
L 330.44 217.8 
L 330.99 215.86 
L 330.13 213.93 
L 328.75 210.06 
L 328.74 208.12 
L 329.69 206.19 
L 330.91 204.25 
L 332.98 202.32 
L 331.93 200.38 
L 332.32 198.45 
L 331.22 196.51 
L 329.97 194.58 
L 330.28 192.64 
L 330.22 190.7 
L 331.3 188.77 
L 332.54 186.83 
L 330.35 182.96 
L 329.34 181.03 
L 328.7 179.09 
L 329.39 177.16 
L 330.6 175.22 
L 331.02 173.29 
L 331.2 171.35 
L 330.61 169.42 
L 331.03 167.48 
L 329.94 165.55 
L 329.26 163.61 
L 330.7 159.74 
L 330.91 157.8 
L 333.76 153.93 
L 333.68 152 
L 331.75 150.06 
L 331.31 148.13 
L 329.55 146.19 
L 329.62 144.26 
L 329.93 142.32 
L 330.35 140.39 
L 331.75 138.45 
L 330.22 136.51 
L 332.66 134.58 
L 330.66 132.64 
L 330.67 130.71 
L 329.51 128.77 
L 328.93 126.84 
L 330.07 124.9 
L 332.11 122.97 
L 332.4 121.03 
L 333.22 119.1 
L 331.99 117.16 
L 332.32 115.23 
L 330.81 113.29 
L 330.74 111.36 
L 331.89 109.42 
L 332.04 107.48 
L 330.25 105.55 
L 331.2 103.61 
L 330.36 99.74 
L 330.42 97.81 
L 330.36 95.87 
L 331.55 93.94 
L 333.62 92 
L 331.97 90.07 
L 331.97 90.07 
" clip-path="url(#pae06bd856a)" style="fill: none; stroke: #00ffff; stroke-width: 1.5; stroke-linecap: square"/>
</g>
<g id="line2d_100">
<path d="M 355.19 855.78 
L 352.38 853.91 
L 348.63 852.5 
L 346.76 848.76 
L 348.63 845.01 
L 351.91 842.2 
L 349.57 839.86 
M 327.82 775.18 
L 327.79 773.25 
L 327.99 771.31 
L 328.37 769.38 
L 327.88 767.44 
L 328.8 765.51 
L 328.26 763.57 
L 328.04 761.64 
L 328.49 759.7 
L 327.9 757.77 
L 328.78 755.83 
L 327.95 753.89 
L 327.79 751.96 
L 328.97 750.02 
L 328.09 748.09 
L 328.8 746.15 
L 327.8 744.22 
L 327.84 742.28 
L 328.08 740.35 
L 328.78 738.41 
L 327.8 736.48 
L 328.5 732.61 
L 327.98 730.67 
L 328.03 728.74 
L 328.87 726.8 
L 328.14 724.86 
L 328.38 722.93 
L 328.35 720.99 
L 328.79 719.06 
L 327.93 717.12 
L 328.16 715.19 
L 327.84 713.25 
L 327.92 711.32 
L 328.62 709.38 
L 328.94 707.45 
L 327.92 705.51 
L 328.51 703.58 
L 328.15 701.64 
L 328.38 699.7 
L 327.95 697.77 
L 327.84 693.9 
L 328.1 691.96 
L 327.79 690.03 
L 328.71 688.09 
L 327.86 686.16 
L 328.29 684.22 
L 327.94 680.35 
L 328.89 678.42 
L 328.46 674.54 
L 327.8 672.61 
L 328.31 668.74 
L 327.8 666.8 
L 328.39 664.87 
L 328.9 661 
L 328.1 659.06 
L 327.79 657.13 
L 327.84 655.19 
L 328.59 653.26 
L 327.81 651.32 
L 328.27 649.39 
L 328.32 647.45 
L 328.03 645.51 
L 328.55 643.58 
L 327.81 641.64 
L 328.26 639.71 
L 327.97 637.77 
L 328.7 635.84 
L 327.98 633.9 
L 327.83 631.97 
L 328.13 628.1 
L 327.8 626.16 
L 328.71 624.23 
L 327.91 620.35 
L 328.25 618.42 
L 328.99 616.48 
L 328.24 614.55 
L 327.99 612.61 
L 328.36 610.68 
L 328.5 608.74 
L 328.37 606.81 
L 327.84 604.87 
L 327.79 602.94 
L 328.02 599.07 
L 328.64 597.13 
L 327.8 595.2 
L 328.67 593.26 
L 327.79 591.32 
L 327.99 587.45 
L 328.86 585.52 
L 328.9 583.58 
L 327.79 581.65 
L 327.83 579.71 
L 328.04 577.78 
L 327.88 575.84 
L 328.91 573.91 
L 328.25 571.97 
L 327.92 570.04 
L 328.23 568.1 
L 328.35 566.16 
L 328.7 564.23 
L 328.76 562.29 
L 328.01 560.36 
L 328.96 556.49 
L 328.14 554.55 
L 328.45 552.62 
L 328.08 550.68 
L 327.8 544.88 
L 328.52 533.26 
L 328.19 531.33 
L 328.11 529.39 
L 328.4 525.52 
L 328.67 523.59 
L 327.87 521.65 
L 328.7 519.72 
L 327.84 517.78 
L 327.79 515.85 
L 328.57 513.91 
L 327.85 511.97 
L 328.66 510.04 
L 327.95 508.1 
L 327.94 506.17 
L 328.73 504.23 
L 328.5 502.3 
L 327.79 500.36 
L 328.89 498.43 
L 327.84 496.49 
L 328.88 492.62 
L 328.67 490.69 
L 328.08 488.75 
L 328.9 486.82 
L 327.86 482.94 
L 328.94 481.01 
L 328.19 479.07 
L 327.92 477.14 
L 328.02 475.2 
L 327.83 473.27 
L 328.2 471.33 
L 328.19 469.4 
L 327.82 467.46 
L 328 465.53 
L 327.88 463.59 
L 328.78 461.66 
L 327.83 459.72 
L 328.25 457.78 
L 328.24 453.91 
L 327.96 451.98 
L 327.79 448.11 
L 327.84 446.17 
L 328.61 444.24 
L 327.88 442.3 
L 328.14 440.37 
L 327.9 438.43 
L 327.79 436.5 
L 328.01 434.56 
L 329.01 432.62 
L 327.99 430.69 
L 327.93 428.75 
L 328.19 426.82 
L 327.95 424.88 
L 327.86 422.95 
L 327.97 421.01 
L 328.79 419.08 
L 327.81 417.14 
L 327.81 415.21 
L 328.49 413.27 
L 327.83 411.34 
L 327.86 407.47 
L 328.75 405.53 
L 328.88 403.59 
L 328.87 401.66 
L 327.91 399.72 
L 328.8 397.79 
L 327.79 395.85 
L 328.08 393.92 
L 328.17 391.98 
L 328.04 390.05 
L 328.97 388.11 
L 328.07 384.24 
L 328.45 382.31 
L 328.51 380.37 
L 327.8 378.43 
L 327.92 374.56 
L 328.89 372.63 
L 328.69 370.69 
L 327.9 368.76 
L 329 366.82 
L 327.79 364.89 
L 327.93 362.95 
L 327.84 361.02 
L 328.12 359.08 
L 328.8 357.15 
L 328.56 355.21 
L 327.79 353.28 
L 327.86 351.34 
L 328.54 349.4 
L 327.88 347.47 
L 328.62 345.53 
L 328.27 343.6 
L 328.42 339.73 
L 328.2 337.79 
L 327.83 335.86 
L 328.6 333.92 
L 328.18 331.99 
L 328.43 330.05 
L 327.79 328.12 
L 327.83 326.18 
L 328.58 322.31 
L 327.95 320.37 
L 328.49 318.44 
L 327.79 316.5 
L 327.79 314.57 
L 329 310.7 
L 327.91 308.76 
L 327.93 304.89 
L 328.2 302.96 
L 327.98 301.02 
L 327.95 299.09 
L 328.52 297.15 
L 327.79 295.21 
L 328.73 293.28 
L 328.47 291.34 
L 328.92 289.41 
L 328.66 287.47 
L 328.57 285.54 
L 327.89 283.6 
L 328.54 281.67 
L 327.94 277.8 
L 328.6 275.86 
L 328.08 273.93 
L 328.99 271.99 
L 328.43 270.05 
L 328.75 268.12 
L 328.8 266.18 
L 328.21 264.25 
L 328.78 262.31 
L 328.23 260.38 
L 328.11 258.44 
L 329.02 256.51 
L 328.39 254.57 
L 328.38 252.64 
L 329 250.7 
L 328.28 248.77 
L 327.79 246.83 
L 328.35 244.9 
L 328.28 242.96 
L 328.44 241.02 
L 328.97 239.09 
L 328.46 237.15 
L 329.01 235.22 
L 328.56 233.28 
L 328.98 231.35 
L 328.02 229.41 
L 327.86 227.48 
L 328.16 225.54 
L 328.77 223.61 
L 328.7 221.67 
L 327.99 217.8 
L 327.79 213.93 
L 328 211.99 
L 328.1 210.06 
L 328.98 208.12 
L 328.19 206.19 
L 328.2 204.25 
L 328.06 202.32 
L 327.79 200.38 
L 327.89 198.45 
L 328.32 196.51 
L 328.41 194.58 
L 328.91 192.64 
L 328.07 190.7 
L 328.57 186.83 
L 328.5 184.9 
L 327.81 182.96 
L 328.77 181.03 
L 328.49 179.09 
L 328.34 177.16 
L 327.81 175.22 
L 328.89 173.29 
L 327.83 169.42 
L 328.21 167.48 
L 327.81 165.55 
L 327.79 163.61 
L 328.42 161.67 
L 328.46 159.74 
L 327.82 155.87 
L 327.92 153.93 
L 327.8 152 
L 327.79 148.13 
L 328.33 146.19 
L 328.54 144.26 
L 328.12 142.32 
L 328.33 140.39 
L 327.82 138.45 
L 328.81 136.51 
L 328.23 134.58 
L 327.81 132.64 
L 328.14 130.71 
L 328.05 128.77 
L 328.72 126.84 
L 328.48 124.9 
L 327.8 122.97 
L 328.31 121.03 
L 327.79 119.1 
L 328.09 117.16 
L 328.65 115.23 
L 327.83 113.29 
L 328.31 111.36 
L 327.99 109.42 
L 327.8 107.48 
L 328.76 105.55 
L 328.43 103.61 
L 327.88 101.68 
L 327.84 99.74 
L 327.95 97.81 
L 328.83 93.94 
L 328.12 92 
L 327.79 90.07 
L 327.79 90.07 
" clip-path="url(#pae06bd856a)" style="fill: none; stroke: #00ff00; stroke-width: 1.5; stroke-linecap: square"/>
</g>
<g id="line2d_101">
<path d="M 349.57 839.86 
L 345.82 837.99 
L 344.89 836.59 
L 347.7 833.78 
L 350.51 831.9 
L 351.44 827.22 
L 353.31 823.48 
L 347.7 818.8 
L 338.33 815.05 
L 329.91 812.24 
L 328.37 798.41 
L 328.29 796.47 
L 328.51 794.54 
L 328.12 792.6 
L 328.36 790.67 
L 328.41 788.73 
L 328.18 784.86 
L 328.06 775.18 
L 328.38 773.25 
L 328.17 771.31 
L 328.37 769.38 
L 328.33 767.44 
L 328.05 765.51 
L 328.2 763.57 
L 328.13 761.64 
L 328.34 759.7 
L 328.44 757.77 
L 328 755.83 
L 328.31 753.89 
L 328.25 751.96 
L 328.51 750.02 
L 327.99 748.09 
L 328.37 746.15 
L 328.24 740.35 
L 328.49 738.41 
L 328.22 736.48 
L 328.33 734.54 
L 328.19 732.61 
L 328.48 730.67 
L 328.11 728.74 
L 328.12 726.8 
L 328.34 724.86 
L 328.25 719.06 
L 328.47 717.12 
L 328.19 715.19 
L 328.1 713.25 
L 328.25 709.38 
L 328.46 707.45 
L 328.15 705.51 
L 328.31 703.58 
L 328.19 690.03 
L 328.38 688.09 
L 328.05 686.16 
L 328.1 682.29 
L 328.38 680.35 
L 328.27 678.42 
L 328.39 674.54 
L 328.21 672.61 
L 328.22 670.67 
L 327.96 668.74 
L 328.43 666.8 
L 328.18 664.87 
L 328.41 662.93 
L 328.1 661 
L 328.45 659.06 
L 328.05 651.32 
L 328.38 649.39 
L 328.13 647.45 
L 328.27 645.51 
L 328.57 643.58 
L 328.21 641.64 
L 328.31 639.71 
L 328.21 637.77 
L 328.41 635.84 
L 328.44 631.97 
L 328.21 630.03 
L 328.56 628.1 
L 328.11 626.16 
L 328.37 622.29 
L 328.24 620.35 
L 328.32 618.42 
L 328.13 612.61 
L 328.46 610.68 
L 328.17 601 
L 328.51 599.07 
L 328.32 597.13 
L 328.54 593.26 
L 328.32 591.32 
L 328.25 589.39 
L 328.37 587.45 
L 328.38 585.52 
L 328.26 583.58 
L 328.37 581.65 
L 327.97 577.78 
L 328.3 575.84 
L 328.01 573.91 
L 328.44 571.97 
L 328.5 570.04 
L 328.18 566.16 
L 328.43 564.23 
L 328.24 562.29 
L 328.37 560.36 
L 328.22 558.42 
L 328.49 556.49 
L 328.2 552.62 
L 328.31 550.68 
L 328.27 548.75 
L 328.46 546.81 
L 328.35 544.88 
L 328.37 539.07 
L 328.35 533.26 
L 328.45 531.33 
L 328.17 525.52 
L 328.28 523.59 
L 328.23 519.72 
L 328.56 517.78 
L 328.07 515.85 
L 328.29 513.91 
L 328.19 511.97 
L 328.52 508.1 
L 328.37 506.17 
L 328.4 504.23 
L 328.26 502.3 
L 327.99 500.36 
L 328.13 498.43 
L 328.02 494.56 
L 328.32 492.62 
L 328.31 490.69 
L 328.44 488.75 
L 328.17 482.94 
L 328.3 481.01 
L 328.23 479.07 
L 328.51 475.2 
L 328.37 473.27 
L 328.36 465.53 
L 328.31 463.59 
L 328.12 461.66 
L 328.28 457.78 
L 328.46 455.85 
L 328.02 451.98 
L 328.15 450.04 
L 328.61 448.11 
L 328.16 446.17 
L 328.35 444.24 
L 328.34 442.3 
L 328.16 440.37 
L 328.17 438.43 
L 328.38 436.5 
L 328.23 434.56 
L 328.3 428.75 
L 328.44 426.82 
L 328.29 424.88 
L 328.39 419.08 
L 328.4 417.14 
L 328.23 415.21 
L 328.42 413.27 
L 328.04 409.4 
L 328.33 407.47 
L 328.4 405.53 
L 328.22 401.66 
L 328.27 397.79 
L 328.09 395.85 
L 328.21 393.92 
L 328.24 390.05 
L 328.4 388.11 
L 328.18 380.37 
L 328.1 378.43 
L 328.3 370.69 
L 328.12 368.76 
L 328.52 364.89 
L 328.3 362.95 
L 328.18 359.08 
L 328.35 357.15 
L 328.26 351.34 
L 328.44 349.4 
L 328.2 347.47 
L 328.22 343.6 
L 327.81 341.66 
L 328.26 339.73 
L 328.13 337.79 
L 328.45 335.86 
L 328.25 333.92 
L 328.43 331.99 
L 328.18 328.12 
L 328.31 326.18 
L 328.2 322.31 
L 328.42 320.37 
L 328.45 318.44 
L 328.6 316.5 
L 328.23 314.57 
L 328.44 312.63 
L 328.27 308.76 
L 328.14 306.83 
L 328.26 304.89 
L 328.03 302.96 
L 328.26 299.09 
L 328.3 297.15 
L 328.47 295.21 
L 328.29 293.28 
L 328.42 291.34 
L 328.26 289.41 
L 328.3 283.6 
L 328.29 281.67 
L 328.39 279.73 
L 328.3 277.8 
L 328.33 275.86 
L 328.14 273.93 
L 328.45 270.05 
L 328.37 268.12 
L 328.48 266.18 
L 328.33 262.31 
L 328.5 254.57 
L 328.24 252.64 
L 328.38 248.77 
L 328.23 244.9 
L 328.53 241.02 
L 328.31 239.09 
L 328.38 235.22 
L 328.21 219.74 
L 328.44 217.8 
L 328.22 215.86 
L 328.13 213.93 
L 328.18 210.06 
L 328.52 208.12 
L 328.08 202.32 
L 328.3 200.38 
L 328.17 198.45 
L 328.41 196.51 
L 328.17 194.58 
L 328.07 192.64 
L 328.44 188.77 
L 328.14 184.9 
L 328.38 182.96 
L 328.35 177.16 
L 328.14 175.22 
L 328.55 173.29 
L 328.28 171.35 
L 328.22 167.48 
L 328.41 165.55 
L 328.09 161.67 
L 328.35 153.93 
L 328.05 152 
L 328.42 150.06 
L 328.07 148.13 
L 328.32 142.32 
L 328.15 138.45 
L 328.27 134.58 
L 328.19 132.64 
L 328.34 128.77 
L 328.49 126.84 
L 328.38 124.9 
L 328.07 122.97 
L 328.31 121.03 
L 328.35 119.1 
L 328.05 117.16 
L 328.4 113.29 
L 328.15 111.36 
L 328.07 109.42 
L 328.34 107.48 
L 328.3 105.55 
L 328.39 103.61 
L 328.23 101.68 
L 328.28 97.81 
L 328.23 95.87 
L 328.04 93.94 
L 328.35 92 
L 328.43 90.07 
L 328.43 90.07 
" clip-path="url(#pae06bd856a)" style="fill: none; stroke: #fa8072; stroke-width: 1.5; stroke-linecap: square"/>
</g>
<g id="patch_8">
<path d="M 327.79 862.92 
L 327.79 88.78 
" style="fill: none; stroke: #000000; stroke-width: 0.9; stroke-linejoin: miter; stroke-linecap: square"/>
</g>
<g id="patch_9">
<path d="M 493.17 862.92 
L 493.17 88.78 
" style="fill: none; stroke: #000000; stroke-width: 0.9; stroke-linejoin: miter; stroke-linecap: square"/>
</g>
<g id="patch_10">
<path d="M 327.79 862.92 
L 493.17 862.92 
" style="fill: none; stroke: #000000; stroke-width: 0.9; stroke-linejoin: miter; stroke-linecap: square"/>
</g>
<g id="patch_11">
<path d="M 327.79 88.78 
L 493.17 88.78 
" style="fill: none; stroke: #000000; stroke-width: 0.9; stroke-linejoin: miter; stroke-linecap: square"/>
</g>
<g id="patch_12">
<path d="M 423 211.46 
L 491.11 211.46 
L 491.11 165.96 
L 423 165.96 
z
" clip-path="url(#pae06bd856a)" style="fill: #eff0f5; opacity: 0.8"/>
</g>
<g id="text_31">
<g transform="translate(428.11 178.42)">
<text>
<tspan x="0" y="-0.31" style="font-size: 8.75px; font-family: 'DejaVu Serif'">L</tspan>
<tspan x="5.81" y="-0.31" style="font-size: 8.75px; font-family: 'DejaVu Serif'">R</tspan>
<tspan x="24.4" y="-0.31" style="font-size: 8.75px; font-family: 'DejaVu Serif'">:</tspan>
<tspan x="27.35" y="-0.31" style="font-size: 8.75px; font-family: 'DejaVu Serif'"> </tspan>
<tspan x="30.13" y="-0.31" style="font-size: 8.75px; font-family: 'DejaVu Serif'">4</tspan>
<tspan x="35.7" y="-0.31" style="font-size: 8.75px; font-family: 'DejaVu Serif'">5</tspan>
<tspan x="41.27" y="-0.31" style="font-size: 8.75px; font-family: 'DejaVu Serif'">.</tspan>
<tspan x="44.05" y="-0.31" style="font-size: 8.75px; font-family: 'DejaVu Serif'">0</tspan>
<tspan x="49.62" y="-0.31" style="font-size: 8.75px; font-family: 'DejaVu Serif'">0</tspan>
<tspan x="12.48" y="1.09" style="font-size: 6.12px; font-family: 'DejaVu Serif'">3</tspan>
<tspan x="16.38" y="1.09" style="font-size: 6.12px; font-family: 'DejaVu Serif'">5</tspan>
<tspan x="20.27" y="1.09" style="font-size: 6.12px; font-family: 'DejaVu Serif'">5</tspan>
</text>
</g>
</g>
<g id="text_32">
<g transform="translate(428.11 191.09)">
<text>
<tspan x="0" y="-0.31" style="font-size: 8.75px; font-family: 'DejaVu Serif'">L</tspan>
<tspan x="5.81" y="-0.31" style="font-size: 8.75px; font-family: 'DejaVu Serif'">R</tspan>
<tspan x="24.4" y="-0.31" style="font-size: 8.75px; font-family: 'DejaVu Serif'">:</tspan>
<tspan x="27.35" y="-0.31" style="font-size: 8.75px; font-family: 'DejaVu Serif'"> </tspan>
<tspan x="30.13" y="-0.31" style="font-size: 8.75px; font-family: 'DejaVu Serif'">4</tspan>
<tspan x="35.7" y="-0.31" style="font-size: 8.75px; font-family: 'DejaVu Serif'">0</tspan>
<tspan x="41.27" y="-0.31" style="font-size: 8.75px; font-family: 'DejaVu Serif'">.</tspan>
<tspan x="44.05" y="-0.31" style="font-size: 8.75px; font-family: 'DejaVu Serif'">0</tspan>
<tspan x="49.62" y="-0.31" style="font-size: 8.75px; font-family: 'DejaVu Serif'">0</tspan>
<tspan x="12.48" y="1.09" style="font-size: 6.12px; font-family: 'DejaVu Serif'">5</tspan>
<tspan x="16.38" y="1.09" style="font-size: 6.12px; font-family: 'DejaVu Serif'">3</tspan>
<tspan x="20.27" y="1.09" style="font-size: 6.12px; font-family: 'DejaVu Serif'">2</tspan>
</text>
</g>
</g>
<g id="text_33">
<g transform="translate(428.11 204.84)">
<text>
<tspan x="0" y="-0.31" style="font-size: 8.75px; font-family: 'DejaVu Serif'">L</tspan>
<tspan x="5.81" y="-0.31" style="font-size: 8.75px; font-family: 'DejaVu Serif'">R</tspan>
<tspan x="28.3" y="-0.31" style="font-size: 8.75px; font-family: 'DejaVu Serif'">:</tspan>
<tspan x="31.25" y="-0.31" style="font-size: 8.75px; font-family: 'DejaVu Serif'"> </tspan>
<tspan x="34.03" y="-0.31" style="font-size: 8.75px; font-family: 'DejaVu Serif'">5</tspan>
<tspan x="39.6" y="-0.31" style="font-size: 8.75px; font-family: 'DejaVu Serif'">0</tspan>
<tspan x="45.17" y="-0.31" style="font-size: 8.75px; font-family: 'DejaVu Serif'">.</tspan>
<tspan x="47.95" y="-0.31" style="font-size: 8.75px; font-family: 'DejaVu Serif'">0</tspan>
<tspan x="53.51" y="-0.31" style="font-size: 8.75px; font-family: 'DejaVu Serif'">0</tspan>
<tspan x="12.48" y="1.09" style="font-size: 6.12px; font-family: 'DejaVu Serif'">1</tspan>
<tspan x="16.38" y="1.09" style="font-size: 6.12px; font-family: 'DejaVu Serif'">0</tspan>
<tspan x="20.27" y="1.09" style="font-size: 6.12px; font-family: 'DejaVu Serif'">6</tspan>
<tspan x="24.17" y="1.09" style="font-size: 6.12px; font-family: 'DejaVu Serif'">4</tspan>
</text>
</g>
</g>
</g>
<g id="axes_3">
<g id="patch_13">
<path d="M 552.25 862.92 
L 717.64 862.92 
L 717.64 88.78 
L 552.25 88.78 
z
" style="fill: #ffffff"/>
</g>
<g id="matplotlib.axis_5">
<g id="xtick_8">
<g id="line2d_102">
<path d="M 552.25 862.92 
L 552.25 88.78 
" clip-path="url(#p555303b833)" style="fill: none; stroke: #b0b0b0; stroke-width: 0.8; stroke-linecap: square"/>
</g>
<g id="line2d_103">
<g>
<path d="M 0 0 L 0 4.4" transform="translate(552.25 862.92)" style="stroke: #000000; stroke-width: 1.45"/>
</g>
</g>
<g id="line2d_104">
<g>
<path d="M 0 0 L 0 -4.4" transform="translate(552.25 88.78)" style="stroke: #000000; stroke-width: 1.45"/>
</g>
</g>
<g id="text_34">
<text style="font-size: 12px; font-family: 'DejaVu Serif', serif; text-anchor: middle" x="552.25" y="878.34" transform="rotate(-0 552.25 878.34)">0</text>
</g>
</g>
<g id="xtick_9">
<g id="line2d_105">
<path d="M 621.16 862.92 
L 621.16 88.78 
" clip-path="url(#p555303b833)" style="fill: none; stroke: #b0b0b0; stroke-width: 0.8; stroke-linecap: square"/>
</g>
<g id="line2d_106">
<g>
<path d="M 0 0 L 0 4.4" transform="translate(621.16 862.92)" style="stroke: #000000; stroke-width: 1.45"/>
</g>
</g>
<g id="line2d_107">
<g>
<path d="M 0 0 L 0 -4.4" transform="translate(621.16 88.78)" style="stroke: #000000; stroke-width: 1.45"/>
</g>
</g>
<g id="text_35">
<text style="font-size: 12px; font-family: 'DejaVu Serif', serif; text-anchor: middle" x="621.16" y="878.34" transform="rotate(-0 621.16 878.34)">50</text>
</g>
</g>
<g id="xtick_10">
<g id="line2d_108">
<path d="M 690.07 862.92 
L 690.07 88.78 
" clip-path="url(#p555303b833)" style="fill: none; stroke: #b0b0b0; stroke-width: 0.8; stroke-linecap: square"/>
</g>
<g id="line2d_109">
<g>
<path d="M 0 0 L 0 4.4" transform="translate(690.07 862.92)" style="stroke: #000000; stroke-width: 1.45"/>
</g>
</g>
<g id="line2d_110">
<g>
<path d="M 0 0 L 0 -4.4" transform="translate(690.07 88.78)" style="stroke: #000000; stroke-width: 1.45"/>
</g>
</g>
<g id="text_36">
<text style="font-size: 12px; font-family: 'DejaVu Serif', serif; text-anchor: middle" x="690.07" y="878.34" transform="rotate(-0 690.07 878.34)">100</text>
</g>
</g>
<g id="text_37">
<text style="font-size: 14.4px; font-family: 'DejaVu Serif', serif; text-anchor: middle" x="634.95" y="895.73" transform="rotate(-0 634.95 895.73)">Lidar ratio [Sr]</text>
</g>
</g>
<g id="matplotlib.axis_6">
<g id="ytick_21">
<g id="line2d_111">
<path d="M 552.25 862.92 
L 717.64 862.92 
" clip-path="url(#p555303b833)" style="fill: none; stroke: #b0b0b0; stroke-width: 0.8; stroke-linecap: square"/>
</g>
<g id="line2d_112">
<g>
<path d="M 0 0 L -4.4 0" transform="translate(552.25 862.92)" style="stroke: #000000; stroke-width: 1.45"/>
</g>
</g>
<g id="line2d_113">
<g>
<path d="M 0 0 L 4.4 0" transform="translate(717.64 862.92)" style="stroke: #000000; stroke-width: 1.45"/>
</g>
</g>
<g id="text_38">
<text style="font-size: 12px; font-family: 'DejaVu Serif', serif; text-anchor: end" x="545.21" y="867.48" transform="rotate(-0 545.21 867.48)">0</text>
</g>
</g>
<g id="ytick_22">
<g id="line2d_114">
<path d="M 552.25 776.9 
L 717.64 776.9 
" clip-path="url(#p555303b833)" style="fill: none; stroke: #b0b0b0; stroke-width: 0.8; stroke-linecap: square"/>
</g>
<g id="line2d_115">
<g>
<path d="M 0 0 L -4.4 0" transform="translate(552.25 776.9)" style="stroke: #000000; stroke-width: 1.45"/>
</g>
</g>
<g id="line2d_116">
<g>
<path d="M 0 0 L 4.4 0" transform="translate(717.64 776.9)" style="stroke: #000000; stroke-width: 1.45"/>
</g>
</g>
<g id="text_39">
<text style="font-size: 12px; font-family: 'DejaVu Serif', serif; text-anchor: end" x="545.21" y="781.46" transform="rotate(-0 545.21 781.46)">2</text>
</g>
</g>
<g id="ytick_23">
<g id="line2d_117">
<path d="M 552.25 690.89 
L 717.64 690.89 
" clip-path="url(#p555303b833)" style="fill: none; stroke: #b0b0b0; stroke-width: 0.8; stroke-linecap: square"/>
</g>
<g id="line2d_118">
<g>
<path d="M 0 0 L -4.4 0" transform="translate(552.25 690.89)" style="stroke: #000000; stroke-width: 1.45"/>
</g>
</g>
<g id="line2d_119">
<g>
<path d="M 0 0 L 4.4 0" transform="translate(717.64 690.89)" style="stroke: #000000; stroke-width: 1.45"/>
</g>
</g>
<g id="text_40">
<text style="font-size: 12px; font-family: 'DejaVu Serif', serif; text-anchor: end" x="545.21" y="695.45" transform="rotate(-0 545.21 695.45)">4</text>
</g>
</g>
<g id="ytick_24">
<g id="line2d_120">
<path d="M 552.25 604.87 
L 717.64 604.87 
" clip-path="url(#p555303b833)" style="fill: none; stroke: #b0b0b0; stroke-width: 0.8; stroke-linecap: square"/>
</g>
<g id="line2d_121">
<g>
<path d="M 0 0 L -4.4 0" transform="translate(552.25 604.87)" style="stroke: #000000; stroke-width: 1.45"/>
</g>
</g>
<g id="line2d_122">
<g>
<path d="M 0 0 L 4.4 0" transform="translate(717.64 604.87)" style="stroke: #000000; stroke-width: 1.45"/>
</g>
</g>
<g id="text_41">
<text style="font-size: 12px; font-family: 'DejaVu Serif', serif; text-anchor: end" x="545.21" y="609.43" transform="rotate(-0 545.21 609.43)">6</text>
</g>
</g>
<g id="ytick_25">
<g id="line2d_123">
<path d="M 552.25 518.86 
L 717.64 518.86 
" clip-path="url(#p555303b833)" style="fill: none; stroke: #b0b0b0; stroke-width: 0.8; stroke-linecap: square"/>
</g>
<g id="line2d_124">
<g>
<path d="M 0 0 L -4.4 0" transform="translate(552.25 518.86)" style="stroke: #000000; stroke-width: 1.45"/>
</g>
</g>
<g id="line2d_125">
<g>
<path d="M 0 0 L 4.4 0" transform="translate(717.64 518.86)" style="stroke: #000000; stroke-width: 1.45"/>
</g>
</g>
<g id="text_42">
<text style="font-size: 12px; font-family: 'DejaVu Serif', serif; text-anchor: end" x="545.21" y="523.42" transform="rotate(-0 545.21 523.42)">8</text>
</g>
</g>
<g id="ytick_26">
<g id="line2d_126">
<path d="M 552.25 432.84 
L 717.64 432.84 
" clip-path="url(#p555303b833)" style="fill: none; stroke: #b0b0b0; stroke-width: 0.8; stroke-linecap: square"/>
</g>
<g id="line2d_127">
<g>
<path d="M 0 0 L -4.4 0" transform="translate(552.25 432.84)" style="stroke: #000000; stroke-width: 1.45"/>
</g>
</g>
<g id="line2d_128">
<g>
<path d="M 0 0 L 4.4 0" transform="translate(717.64 432.84)" style="stroke: #000000; stroke-width: 1.45"/>
</g>
</g>
<g id="text_43">
<text style="font-size: 12px; font-family: 'DejaVu Serif', serif; text-anchor: end" x="545.21" y="437.4" transform="rotate(-0 545.21 437.4)">10</text>
</g>
</g>
<g id="ytick_27">
<g id="line2d_129">
<path d="M 552.25 346.82 
L 717.64 346.82 
" clip-path="url(#p555303b833)" style="fill: none; stroke: #b0b0b0; stroke-width: 0.8; stroke-linecap: square"/>
</g>
<g id="line2d_130">
<g>
<path d="M 0 0 L -4.4 0" transform="translate(552.25 346.82)" style="stroke: #000000; stroke-width: 1.45"/>
</g>
</g>
<g id="line2d_131">
<g>
<path d="M 0 0 L 4.4 0" transform="translate(717.64 346.82)" style="stroke: #000000; stroke-width: 1.45"/>
</g>
</g>
<g id="text_44">
<text style="font-size: 12px; font-family: 'DejaVu Serif', serif; text-anchor: end" x="545.21" y="351.38" transform="rotate(-0 545.21 351.38)">12</text>
</g>
</g>
<g id="ytick_28">
<g id="line2d_132">
<path d="M 552.25 260.81 
L 717.64 260.81 
" clip-path="url(#p555303b833)" style="fill: none; stroke: #b0b0b0; stroke-width: 0.8; stroke-linecap: square"/>
</g>
<g id="line2d_133">
<g>
<path d="M 0 0 L -4.4 0" transform="translate(552.25 260.81)" style="stroke: #000000; stroke-width: 1.45"/>
</g>
</g>
<g id="line2d_134">
<g>
<path d="M 0 0 L 4.4 0" transform="translate(717.64 260.81)" style="stroke: #000000; stroke-width: 1.45"/>
</g>
</g>
<g id="text_45">
<text style="font-size: 12px; font-family: 'DejaVu Serif', serif; text-anchor: end" x="545.21" y="265.37" transform="rotate(-0 545.21 265.37)">14</text>
</g>
</g>
<g id="ytick_29">
<g id="line2d_135">
<path d="M 552.25 174.79 
L 717.64 174.79 
" clip-path="url(#p555303b833)" style="fill: none; stroke: #b0b0b0; stroke-width: 0.8; stroke-linecap: square"/>
</g>
<g id="line2d_136">
<g>
<path d="M 0 0 L -4.4 0" transform="translate(552.25 174.79)" style="stroke: #000000; stroke-width: 1.45"/>
</g>
</g>
<g id="line2d_137">
<g>
<path d="M 0 0 L 4.4 0" transform="translate(717.64 174.79)" style="stroke: #000000; stroke-width: 1.45"/>
</g>
</g>
<g id="text_46">
<text style="font-size: 12px; font-family: 'DejaVu Serif', serif; text-anchor: end" x="545.21" y="179.35" transform="rotate(-0 545.21 179.35)">16</text>
</g>
</g>
<g id="ytick_30">
<g id="line2d_138">
<path d="M 552.25 88.78 
L 717.64 88.78 
" clip-path="url(#p555303b833)" style="fill: none; stroke: #b0b0b0; stroke-width: 0.8; stroke-linecap: square"/>
</g>
<g id="line2d_139">
<g>
<path d="M 0 0 L -4.4 0" transform="translate(552.25 88.78)" style="stroke: #000000; stroke-width: 1.45"/>
</g>
</g>
<g id="line2d_140">
<g>
<path d="M 0 0 L 4.4 0" transform="translate(717.64 88.78)" style="stroke: #000000; stroke-width: 1.45"/>
</g>
</g>
<g id="text_47">
<text style="font-size: 12px; font-family: 'DejaVu Serif', serif; text-anchor: end" x="545.21" y="93.34" transform="rotate(-0 545.21 93.34)">18</text>
</g>
</g>
</g>
<g id="line2d_141">
<path d="M 588.67 804.96 
L 578.74 804.79 
L 587.81 805.82 
L 578.31 806.86 
L 587.81 807.38 
L 598.18 808.42 
L 584.35 809.28 
L 572.26 810.14 
L 563.62 812.48 
L 570.53 813.17 
L 576.58 814.46 
L 575.71 816.62 
L 578.31 817.92 
L 571.39 819.65 
L 561.89 821.38 
L 552.56 823.11 
L 547.2 823.28 
" clip-path="url(#p555303b833)" style="fill: none; stroke: #0000ff; stroke-width: 1.5; stroke-linecap: square"/>
</g>
<g id="line2d_142">
<path d="M 547.2 841.42 
L 635.33 841.42 
L 659.52 843.41 
L 681.13 844.71 
L 711.37 846.43 
L 728.65 847.38 
L 728.65 853.86 
L 547.2 854.04 
" clip-path="url(#p555303b833)" style="fill: none; stroke: #0000ff; stroke-width: 1.5; stroke-linecap: square"/>
</g>
<g id="line2d_143">
<path d="M 677.67 804.96 
L 624.53 805.39 
L 668.16 806.26 
L 656.93 807.12 
L 642.24 808.42 
L 620.64 809.28 
L 596.45 811.01 
L 586.95 812.74 
L 580.9 814.9 
L 588.67 815.76 
L 584.35 817.06 
L 591.27 817.92 
L 600.77 822.24 
L 595.59 823.97 
L 586.95 826.56 
L 581.76 827.86 
L 568.8 829.15 
L 552.56 830.88 
L 547.2 831.05 
" clip-path="url(#p555303b833)" style="fill: none; stroke: #008000; stroke-width: 1.5; stroke-linecap: square"/>
</g>
<g id="line2d_144">
<path d="M 547.2 840.9 
L 711.37 840.9 
L 685.45 842.11 
L 711.37 842.55 
L 716.98 843.84 
L 728.65 844.01 
L 728.65 854.82 
L 547.2 854.99 
" clip-path="url(#p555303b833)" style="fill: none; stroke: #008000; stroke-width: 1.5; stroke-linecap: square"/>
</g>
<g id="line2d_145"/>
<g id="line2d_146"/>
<g id="line2d_147"/>
<g id="line2d_148"/>
<g id="patch_14">
<path d="M 552.25 862.92 
L 552.25 88.78 
" style="fill: none; stroke: #000000; stroke-width: 0.9; stroke-linejoin: miter; stroke-linecap: square"/>
</g>
<g id="patch_15">
<path d="M 717.64 862.92 
L 717.64 88.78 
" style="fill: none; stroke: #000000; stroke-width: 0.9; stroke-linejoin: miter; stroke-linecap: square"/>
</g>
<g id="patch_16">
<path d="M 552.25 862.92 
L 717.64 862.92 
" style="fill: none; stroke: #000000; stroke-width: 0.9; stroke-linejoin: miter; stroke-linecap: square"/>
</g>
<g id="patch_17">
<path d="M 552.25 88.78 
L 717.64 88.78 
" style="fill: none; stroke: #000000; stroke-width: 0.9; stroke-linejoin: miter; stroke-linecap: square"/>
</g>
</g>
<g id="axes_4">
<g id="patch_18">
<path d="M 776.72 862.92 
L 942.11 862.92 
L 942.11 88.78 
L 776.72 88.78 
z
" style="fill: #ffffff"/>
</g>
<g id="matplotlib.axis_7">
<g id="xtick_11">
<g id="line2d_149">
<path d="M 776.72 862.92 
L 776.72 88.78 
" clip-path="url(#pc099fba9d1)" style="fill: none; stroke: #b0b0b0; stroke-width: 0.8; stroke-linecap: square"/>
</g>
<g id="line2d_150">
<g>
<path d="M 0 0 L 0 4.4" transform="translate(776.72 862.92)" style="stroke: #000000; stroke-width: 1.45"/>
</g>
</g>
<g id="line2d_151">
<g>
<path d="M 0 0 L 0 -4.4" transform="translate(776.72 88.78)" style="stroke: #000000; stroke-width: 1.45"/>
</g>
</g>
<g id="text_48">
<text style="font-size: 12px; font-family: 'DejaVu Serif', serif; text-anchor: middle" x="776.72" y="878.34" transform="rotate(-0 776.72 878.34)">−1</text>
</g>
</g>
<g id="xtick_12">
<g id="line2d_152">
<path d="M 818.07 862.92 
L 818.07 88.78 
" clip-path="url(#pc099fba9d1)" style="fill: none; stroke: #b0b0b0; stroke-width: 0.8; stroke-linecap: square"/>
</g>
<g id="line2d_153">
<g>
<path d="M 0 0 L 0 4.4" transform="translate(818.07 862.92)" style="stroke: #000000; stroke-width: 1.45"/>
</g>
</g>
<g id="line2d_154">
<g>
<path d="M 0 0 L 0 -4.4" transform="translate(818.07 88.78)" style="stroke: #000000; stroke-width: 1.45"/>
</g>
</g>
<g id="text_49">
<text style="font-size: 12px; font-family: 'DejaVu Serif', serif; text-anchor: middle" x="818.07" y="878.34" transform="rotate(-0 818.07 878.34)">0</text>
</g>
</g>
<g id="xtick_13">
<g id="line2d_155">
<path d="M 859.41 862.92 
L 859.41 88.78 
" clip-path="url(#pc099fba9d1)" style="fill: none; stroke: #b0b0b0; stroke-width: 0.8; stroke-linecap: square"/>
</g>
<g id="line2d_156">
<g>
<path d="M 0 0 L 0 4.4" transform="translate(859.41 862.92)" style="stroke: #000000; stroke-width: 1.45"/>
</g>
</g>
<g id="line2d_157">
<g>
<path d="M 0 0 L 0 -4.4" transform="translate(859.41 88.78)" style="stroke: #000000; stroke-width: 1.45"/>
</g>
</g>
<g id="text_50">
<text style="font-size: 12px; font-family: 'DejaVu Serif', serif; text-anchor: middle" x="859.41" y="878.34" transform="rotate(-0 859.41 878.34)">1</text>
</g>
</g>
<g id="xtick_14">
<g id="line2d_158">
<path d="M 900.76 862.92 
L 900.76 88.78 
" clip-path="url(#pc099fba9d1)" style="fill: none; stroke: #b0b0b0; stroke-width: 0.8; stroke-linecap: square"/>
</g>
<g id="line2d_159">
<g>
<path d="M 0 0 L 0 4.4" transform="translate(900.76 862.92)" style="stroke: #000000; stroke-width: 1.45"/>
</g>
</g>
<g id="line2d_160">
<g>
<path d="M 0 0 L 0 -4.4" transform="translate(900.76 88.78)" style="stroke: #000000; stroke-width: 1.45"/>
</g>
</g>
<g id="text_51">
<text style="font-size: 12px; font-family: 'DejaVu Serif', serif; text-anchor: middle" x="900.76" y="878.34" transform="rotate(-0 900.76 878.34)">2</text>
</g>
</g>
<g id="xtick_15">
<g id="line2d_161">
<path d="M 942.11 862.92 
L 942.11 88.78 
" clip-path="url(#pc099fba9d1)" style="fill: none; stroke: #b0b0b0; stroke-width: 0.8; stroke-linecap: square"/>
</g>
<g id="line2d_162">
<g>
<path d="M 0 0 L 0 4.4" transform="translate(942.11 862.92)" style="stroke: #000000; stroke-width: 1.45"/>
</g>
</g>
<g id="line2d_163">
<g>
<path d="M 0 0 L 0 -4.4" transform="translate(942.11 88.78)" style="stroke: #000000; stroke-width: 1.45"/>
</g>
</g>
<g id="text_52">
<text style="font-size: 12px; font-family: 'DejaVu Serif', serif; text-anchor: middle" x="942.11" y="878.34" transform="rotate(-0 942.11 878.34)">3</text>
</g>
</g>
<g id="text_53">
<g transform="translate(805.49 899.38)">
<text>
<tspan x="0" y="-0" style="font-style: oblique; font-size: 14.4px; font-family: 'DejaVu Sans'">Å</tspan>
<tspan x="9.83" y="-0" style="font-size: 14.4px; font-family: 'DejaVu Serif'">n</tspan>
<tspan x="19.09" y="-0" style="font-size: 14.4px; font-family: 'DejaVu Serif'">g</tspan>
<tspan x="28.29" y="-0" style="font-size: 14.4px; font-family: 'DejaVu Serif'">s</tspan>
<tspan x="35.67" y="-0" style="font-size: 14.4px; font-family: 'DejaVu Serif'">t</tspan>
<tspan x="41.45" y="-0" style="font-size: 14.4px; font-family: 'DejaVu Serif'">r</tspan>
<tspan x="48.32" y="-0" style="font-size: 14.4px; font-family: 'DejaVu Serif'">ö</tspan>
<tspan x="56.97" y="-0" style="font-size: 14.4px; font-family: 'DejaVu Serif'">m</tspan>
<tspan x="70.6" y="-0" style="font-size: 14.4px; font-family: 'DejaVu Serif'"> </tspan>
<tspan x="75.17" y="-0" style="font-size: 14.4px; font-family: 'DejaVu Serif'">E</tspan>
<tspan x="85.67" y="-0" style="font-size: 14.4px; font-family: 'DejaVu Serif'">x</tspan>
<tspan x="93.77" y="-0" style="font-size: 14.4px; font-family: 'DejaVu Serif'">p</tspan>
<tspan x="102.98" y="-0" style="font-size: 14.4px; font-family: 'DejaVu Serif'">.</tspan>
</text>
</g>
</g>
</g>
<g id="matplotlib.axis_8">
<g id="ytick_31">
<g id="line2d_164">
<path d="M 776.72 862.92 
L 942.11 862.92 
" clip-path="url(#pc099fba9d1)" style="fill: none; stroke: #b0b0b0; stroke-width: 0.8; stroke-linecap: square"/>
</g>
<g id="line2d_165">
<g>
<path d="M 0 0 L -4.4 0" transform="translate(776.72 862.92)" style="stroke: #000000; stroke-width: 1.45"/>
</g>
</g>
<g id="line2d_166">
<g>
<path d="M 0 0 L 4.4 0" transform="translate(942.11 862.92)" style="stroke: #000000; stroke-width: 1.45"/>
</g>
</g>
<g id="text_54">
<text style="font-size: 12px; font-family: 'DejaVu Serif', serif; text-anchor: end" x="769.68" y="867.48" transform="rotate(-0 769.68 867.48)">0</text>
</g>
</g>
<g id="ytick_32">
<g id="line2d_167">
<path d="M 776.72 776.9 
L 942.11 776.9 
" clip-path="url(#pc099fba9d1)" style="fill: none; stroke: #b0b0b0; stroke-width: 0.8; stroke-linecap: square"/>
</g>
<g id="line2d_168">
<g>
<path d="M 0 0 L -4.4 0" transform="translate(776.72 776.9)" style="stroke: #000000; stroke-width: 1.45"/>
</g>
</g>
<g id="line2d_169">
<g>
<path d="M 0 0 L 4.4 0" transform="translate(942.11 776.9)" style="stroke: #000000; stroke-width: 1.45"/>
</g>
</g>
<g id="text_55">
<text style="font-size: 12px; font-family: 'DejaVu Serif', serif; text-anchor: end" x="769.68" y="781.46" transform="rotate(-0 769.68 781.46)">2</text>
</g>
</g>
<g id="ytick_33">
<g id="line2d_170">
<path d="M 776.72 690.89 
L 942.11 690.89 
" clip-path="url(#pc099fba9d1)" style="fill: none; stroke: #b0b0b0; stroke-width: 0.8; stroke-linecap: square"/>
</g>
<g id="line2d_171">
<g>
<path d="M 0 0 L -4.4 0" transform="translate(776.72 690.89)" style="stroke: #000000; stroke-width: 1.45"/>
</g>
</g>
<g id="line2d_172">
<g>
<path d="M 0 0 L 4.4 0" transform="translate(942.11 690.89)" style="stroke: #000000; stroke-width: 1.45"/>
</g>
</g>
<g id="text_56">
<text style="font-size: 12px; font-family: 'DejaVu Serif', serif; text-anchor: end" x="769.68" y="695.45" transform="rotate(-0 769.68 695.45)">4</text>
</g>
</g>
<g id="ytick_34">
<g id="line2d_173">
<path d="M 776.72 604.87 
L 942.11 604.87 
" clip-path="url(#pc099fba9d1)" style="fill: none; stroke: #b0b0b0; stroke-width: 0.8; stroke-linecap: square"/>
</g>
<g id="line2d_174">
<g>
<path d="M 0 0 L -4.4 0" transform="translate(776.72 604.87)" style="stroke: #000000; stroke-width: 1.45"/>
</g>
</g>
<g id="line2d_175">
<g>
<path d="M 0 0 L 4.4 0" transform="translate(942.11 604.87)" style="stroke: #000000; stroke-width: 1.45"/>
</g>
</g>
<g id="text_57">
<text style="font-size: 12px; font-family: 'DejaVu Serif', serif; text-anchor: end" x="769.68" y="609.43" transform="rotate(-0 769.68 609.43)">6</text>
</g>
</g>
<g id="ytick_35">
<g id="line2d_176">
<path d="M 776.72 518.86 
L 942.11 518.86 
" clip-path="url(#pc099fba9d1)" style="fill: none; stroke: #b0b0b0; stroke-width: 0.8; stroke-linecap: square"/>
</g>
<g id="line2d_177">
<g>
<path d="M 0 0 L -4.4 0" transform="translate(776.72 518.86)" style="stroke: #000000; stroke-width: 1.45"/>
</g>
</g>
<g id="line2d_178">
<g>
<path d="M 0 0 L 4.4 0" transform="translate(942.11 518.86)" style="stroke: #000000; stroke-width: 1.45"/>
</g>
</g>
<g id="text_58">
<text style="font-size: 12px; font-family: 'DejaVu Serif', serif; text-anchor: end" x="769.68" y="523.42" transform="rotate(-0 769.68 523.42)">8</text>
</g>
</g>
<g id="ytick_36">
<g id="line2d_179">
<path d="M 776.72 432.84 
L 942.11 432.84 
" clip-path="url(#pc099fba9d1)" style="fill: none; stroke: #b0b0b0; stroke-width: 0.8; stroke-linecap: square"/>
</g>
<g id="line2d_180">
<g>
<path d="M 0 0 L -4.4 0" transform="translate(776.72 432.84)" style="stroke: #000000; stroke-width: 1.45"/>
</g>
</g>
<g id="line2d_181">
<g>
<path d="M 0 0 L 4.4 0" transform="translate(942.11 432.84)" style="stroke: #000000; stroke-width: 1.45"/>
</g>
</g>
<g id="text_59">
<text style="font-size: 12px; font-family: 'DejaVu Serif', serif; text-anchor: end" x="769.68" y="437.4" transform="rotate(-0 769.68 437.4)">10</text>
</g>
</g>
<g id="ytick_37">
<g id="line2d_182">
<path d="M 776.72 346.82 
L 942.11 346.82 
" clip-path="url(#pc099fba9d1)" style="fill: none; stroke: #b0b0b0; stroke-width: 0.8; stroke-linecap: square"/>
</g>
<g id="line2d_183">
<g>
<path d="M 0 0 L -4.4 0" transform="translate(776.72 346.82)" style="stroke: #000000; stroke-width: 1.45"/>
</g>
</g>
<g id="line2d_184">
<g>
<path d="M 0 0 L 4.4 0" transform="translate(942.11 346.82)" style="stroke: #000000; stroke-width: 1.45"/>
</g>
</g>
<g id="text_60">
<text style="font-size: 12px; font-family: 'DejaVu Serif', serif; text-anchor: end" x="769.68" y="351.38" transform="rotate(-0 769.68 351.38)">12</text>
</g>
</g>
<g id="ytick_38">
<g id="line2d_185">
<path d="M 776.72 260.81 
L 942.11 260.81 
" clip-path="url(#pc099fba9d1)" style="fill: none; stroke: #b0b0b0; stroke-width: 0.8; stroke-linecap: square"/>
</g>
<g id="line2d_186">
<g>
<path d="M 0 0 L -4.4 0" transform="translate(776.72 260.81)" style="stroke: #000000; stroke-width: 1.45"/>
</g>
</g>
<g id="line2d_187">
<g>
<path d="M 0 0 L 4.4 0" transform="translate(942.11 260.81)" style="stroke: #000000; stroke-width: 1.45"/>
</g>
</g>
<g id="text_61">
<text style="font-size: 12px; font-family: 'DejaVu Serif', serif; text-anchor: end" x="769.68" y="265.37" transform="rotate(-0 769.68 265.37)">14</text>
</g>
</g>
<g id="ytick_39">
<g id="line2d_188">
<path d="M 776.72 174.79 
L 942.11 174.79 
" clip-path="url(#pc099fba9d1)" style="fill: none; stroke: #b0b0b0; stroke-width: 0.8; stroke-linecap: square"/>
</g>
<g id="line2d_189">
<g>
<path d="M 0 0 L -4.4 0" transform="translate(776.72 174.79)" style="stroke: #000000; stroke-width: 1.45"/>
</g>
</g>
<g id="line2d_190">
<g>
<path d="M 0 0 L 4.4 0" transform="translate(942.11 174.79)" style="stroke: #000000; stroke-width: 1.45"/>
</g>
</g>
<g id="text_62">
<text style="font-size: 12px; font-family: 'DejaVu Serif', serif; text-anchor: end" x="769.68" y="179.35" transform="rotate(-0 769.68 179.35)">16</text>
</g>
</g>
<g id="ytick_40">
<g id="line2d_191">
<path d="M 776.72 88.78 
L 942.11 88.78 
" clip-path="url(#pc099fba9d1)" style="fill: none; stroke: #b0b0b0; stroke-width: 0.8; stroke-linecap: square"/>
</g>
<g id="line2d_192">
<g>
<path d="M 0 0 L -4.4 0" transform="translate(776.72 88.78)" style="stroke: #000000; stroke-width: 1.45"/>
</g>
</g>
<g id="line2d_193">
<g>
<path d="M 0 0 L 4.4 0" transform="translate(942.11 88.78)" style="stroke: #000000; stroke-width: 1.45"/>
</g>
</g>
<g id="text_63">
<text style="font-size: 12px; font-family: 'DejaVu Serif', serif; text-anchor: end" x="769.68" y="93.34" transform="rotate(-0 769.68 93.34)">18</text>
</g>
</g>
</g>
<g id="line2d_194">
<path d="M 817.65 854.55 
L 867.6 854.28 
L 869.4 852.3 
L 869.85 850.5 
L 868.05 846.9 
L 865.8 844.2 
L 863.1 842.4 
L 860.4 840.6 
L 857.25 838.35 
L 855.9 837 
L 853.65 833.4 
L 851.4 829.8 
L 849.6 825.3 
L 848.7 821.7 
L 849.6 818.1 
L 851.4 814.5 
L 855 811.8 
L 860.4 809.55 
L 864.45 808.47 
L 840.15 808.47 
M 818.07 808.3 
L 818.07 88.78 
" clip-path="url(#pc099fba9d1)" style="fill: none; stroke: #ffa500; stroke-width: 1.5; stroke-linecap: square"/>
</g>
<g id="line2d_195">
<path d="M 761.4 857.97 
L 776.25 858.42 
L 817.65 862.02 
M 832.95 837.45 
L 833.85 833.4 
L 834.3 829.8 
L 834.48 823.5 
L 835.2 816.3 
L 837 811.8 
L 838.8 809.55 
L 840.15 808.47 
M 840.15 808.47 
L 817.65 808.47 
M 818.07 808.3 
L 818.07 88.78 
" clip-path="url(#pc099fba9d1)" style="fill: none; stroke: #ff00ff; stroke-width: 1.5; stroke-linecap: square"/>
</g>
<g id="line2d_196">
<path d="M 817.65 -1 
L 817.65 808.2 
L 761.4 808.2 
M 761.4 810.27 
L 776.25 811.08 
L 788.4 813.15 
L 800.1 814.68 
L 805.95 815.49 
L 807.48 816.12 
L 805.95 816.84 
L 797.4 817.65 
L 786.6 818.28 
L 776.25 818.82 
L 761.4 819.18 
M 761.4 851.22 
L 776.25 850.95 
L 792.9 850.5 
L 806.4 849.6 
L 817.2 848.25 
L 824.4 846.72 
L 828 845.28 
L 826.2 844.2 
L 819.9 843.75 
L 862.2 843.75 
L 841.05 843.75 
L 841.5 842.85 
L 849.6 840.15 
L 859.5 837 
L 878.4 835.38 
L 900.9 834.12 
L 923.4 833.22 
L 941.85 832.68 
L 959.4 832.32 
M 817.65 851.85 
L 817.65 864 
" clip-path="url(#pc099fba9d1)" style="fill: none; stroke: #000000; stroke-width: 1.5; stroke-linecap: square"/>
</g>
<g id="patch_19">
<path d="M 776.72 862.92 
L 776.72 88.78 
" style="fill: none; stroke: #000000; stroke-width: 0.9; stroke-linejoin: miter; stroke-linecap: square"/>
</g>
<g id="patch_20">
<path d="M 942.11 862.92 
L 942.11 88.78 
" style="fill: none; stroke: #000000; stroke-width: 0.9; stroke-linejoin: miter; stroke-linecap: square"/>
</g>
<g id="patch_21">
<path d="M 776.72 862.92 
L 942.11 862.92 
" style="fill: none; stroke: #000000; stroke-width: 0.9; stroke-linejoin: miter; stroke-linecap: square"/>
</g>
<g id="patch_22">
<path d="M 776.72 88.78 
L 942.11 88.78 
" style="fill: none; stroke: #000000; stroke-width: 0.9; stroke-linejoin: miter; stroke-linecap: square"/>
</g>
</g>
<g id="axes_5">
<g id="patch_23">
<path d="M 1001.19 862.92 
L 1166.57 862.92 
L 1166.57 88.78 
L 1001.19 88.78 
z
" style="fill: #ffffff"/>
</g>
<g id="matplotlib.axis_9">
<g id="xtick_16">
<g id="line2d_197">
<path d="M 1001.19 862.92 
L 1001.19 88.78 
" clip-path="url(#pdd02288f97)" style="fill: none; stroke: #b0b0b0; stroke-width: 0.8; stroke-linecap: square"/>
</g>
<g id="line2d_198">
<g>
<path d="M 0 0 L 0 4.4" transform="translate(1001.19 862.92)" style="stroke: #000000; stroke-width: 1.45"/>
</g>
</g>
<g id="line2d_199">
<g>
<path d="M 0 0 L 0 -4.4" transform="translate(1001.19 88.78)" style="stroke: #000000; stroke-width: 1.45"/>
</g>
</g>
<g id="text_64">
<text style="font-size: 12px; font-family: 'DejaVu Serif', serif; text-anchor: middle" x="1001.19" y="878.34" transform="rotate(-0 1001.19 878.34)">0.0</text>
</g>
</g>
<g id="xtick_17">
<g id="line2d_200">
<path d="M 1056.32 862.92 
L 1056.32 88.78 
" clip-path="url(#pdd02288f97)" style="fill: none; stroke: #b0b0b0; stroke-width: 0.8; stroke-linecap: square"/>
</g>
<g id="line2d_201">
<g>
<path d="M 0 0 L 0 4.4" transform="translate(1056.32 862.92)" style="stroke: #000000; stroke-width: 1.45"/>
</g>
</g>
<g id="line2d_202">
<g>
<path d="M 0 0 L 0 -4.4" transform="translate(1056.32 88.78)" style="stroke: #000000; stroke-width: 1.45"/>
</g>
</g>
<g id="text_65">
<text style="font-size: 12px; font-family: 'DejaVu Serif', serif; text-anchor: middle" x="1056.32" y="878.34" transform="rotate(-0 1056.32 878.34)">0.2</text>
</g>
</g>
<g id="xtick_18">
<g id="line2d_203">
<path d="M 1111.44 862.92 
L 1111.44 88.78 
" clip-path="url(#pdd02288f97)" style="fill: none; stroke: #b0b0b0; stroke-width: 0.8; stroke-linecap: square"/>
</g>
<g id="line2d_204">
<g>
<path d="M 0 0 L 0 4.4" transform="translate(1111.44 862.92)" style="stroke: #000000; stroke-width: 1.45"/>
</g>
</g>
<g id="line2d_205">
<g>
<path d="M 0 0 L 0 -4.4" transform="translate(1111.44 88.78)" style="stroke: #000000; stroke-width: 1.45"/>
</g>
</g>
<g id="text_66">
<text style="font-size: 12px; font-family: 'DejaVu Serif', serif; text-anchor: middle" x="1111.44" y="878.34" transform="rotate(-0 1111.44 878.34)">0.4</text>
</g>
</g>
<g id="xtick_19">
<g id="line2d_206">
<path d="M 1166.57 862.92 
L 1166.57 88.78 
" clip-path="url(#pdd02288f97)" style="fill: none; stroke: #b0b0b0; stroke-width: 0.8; stroke-linecap: square"/>
</g>
<g id="line2d_207">
<g>
<path d="M 0 0 L 0 4.4" transform="translate(1166.57 862.92)" style="stroke: #000000; stroke-width: 1.45"/>
</g>
</g>
<g id="line2d_208">
<g>
<path d="M 0 0 L 0 -4.4" transform="translate(1166.57 88.78)" style="stroke: #000000; stroke-width: 1.45"/>
</g>
</g>
<g id="text_67">
<text style="font-size: 12px; font-family: 'DejaVu Serif', serif; text-anchor: middle" x="1166.57" y="878.34" transform="rotate(-0 1166.57 878.34)">0.6</text>
</g>
</g>
<g id="text_68">
<text style="font-size: 14.4px; font-family: 'DejaVu Serif', serif; text-anchor: middle" x="1083.88" y="895.53" transform="rotate(-0 1083.88 895.53)">Depol. ratio</text>
</g>
</g>
<g id="matplotlib.axis_10">
<g id="ytick_41">
<g id="line2d_209">
<path d="M 1001.19 862.92 
L 1166.57 862.92 
" clip-path="url(#pdd02288f97)" style="fill: none; stroke: #b0b0b0; stroke-width: 0.8; stroke-linecap: square"/>
</g>
<g id="line2d_210">
<g>
<path d="M 0 0 L -4.4 0" transform="translate(1001.19 862.92)" style="stroke: #000000; stroke-width: 1.45"/>
</g>
</g>
<g id="line2d_211">
<g>
<path d="M 0 0 L 4.4 0" transform="translate(1166.57 862.92)" style="stroke: #000000; stroke-width: 1.45"/>
</g>
</g>
<g id="text_69">
<text style="font-size: 12px; font-family: 'DejaVu Serif', serif; text-anchor: end" x="994.15" y="867.48" transform="rotate(-0 994.15 867.48)">0</text>
</g>
</g>
<g id="ytick_42">
<g id="line2d_212">
<path d="M 1001.19 776.9 
L 1166.57 776.9 
" clip-path="url(#pdd02288f97)" style="fill: none; stroke: #b0b0b0; stroke-width: 0.8; stroke-linecap: square"/>
</g>
<g id="line2d_213">
<g>
<path d="M 0 0 L -4.4 0" transform="translate(1001.19 776.9)" style="stroke: #000000; stroke-width: 1.45"/>
</g>
</g>
<g id="line2d_214">
<g>
<path d="M 0 0 L 4.4 0" transform="translate(1166.57 776.9)" style="stroke: #000000; stroke-width: 1.45"/>
</g>
</g>
<g id="text_70">
<text style="font-size: 12px; font-family: 'DejaVu Serif', serif; text-anchor: end" x="994.15" y="781.46" transform="rotate(-0 994.15 781.46)">2</text>
</g>
</g>
<g id="ytick_43">
<g id="line2d_215">
<path d="M 1001.19 690.89 
L 1166.57 690.89 
" clip-path="url(#pdd02288f97)" style="fill: none; stroke: #b0b0b0; stroke-width: 0.8; stroke-linecap: square"/>
</g>
<g id="line2d_216">
<g>
<path d="M 0 0 L -4.4 0" transform="translate(1001.19 690.89)" style="stroke: #000000; stroke-width: 1.45"/>
</g>
</g>
<g id="line2d_217">
<g>
<path d="M 0 0 L 4.4 0" transform="translate(1166.57 690.89)" style="stroke: #000000; stroke-width: 1.45"/>
</g>
</g>
<g id="text_71">
<text style="font-size: 12px; font-family: 'DejaVu Serif', serif; text-anchor: end" x="994.15" y="695.45" transform="rotate(-0 994.15 695.45)">4</text>
</g>
</g>
<g id="ytick_44">
<g id="line2d_218">
<path d="M 1001.19 604.87 
L 1166.57 604.87 
" clip-path="url(#pdd02288f97)" style="fill: none; stroke: #b0b0b0; stroke-width: 0.8; stroke-linecap: square"/>
</g>
<g id="line2d_219">
<g>
<path d="M 0 0 L -4.4 0" transform="translate(1001.19 604.87)" style="stroke: #000000; stroke-width: 1.45"/>
</g>
</g>
<g id="line2d_220">
<g>
<path d="M 0 0 L 4.4 0" transform="translate(1166.57 604.87)" style="stroke: #000000; stroke-width: 1.45"/>
</g>
</g>
<g id="text_72">
<text style="font-size: 12px; font-family: 'DejaVu Serif', serif; text-anchor: end" x="994.15" y="609.43" transform="rotate(-0 994.15 609.43)">6</text>
</g>
</g>
<g id="ytick_45">
<g id="line2d_221">
<path d="M 1001.19 518.86 
L 1166.57 518.86 
" clip-path="url(#pdd02288f97)" style="fill: none; stroke: #b0b0b0; stroke-width: 0.8; stroke-linecap: square"/>
</g>
<g id="line2d_222">
<g>
<path d="M 0 0 L -4.4 0" transform="translate(1001.19 518.86)" style="stroke: #000000; stroke-width: 1.45"/>
</g>
</g>
<g id="line2d_223">
<g>
<path d="M 0 0 L 4.4 0" transform="translate(1166.57 518.86)" style="stroke: #000000; stroke-width: 1.45"/>
</g>
</g>
<g id="text_73">
<text style="font-size: 12px; font-family: 'DejaVu Serif', serif; text-anchor: end" x="994.15" y="523.42" transform="rotate(-0 994.15 523.42)">8</text>
</g>
</g>
<g id="ytick_46">
<g id="line2d_224">
<path d="M 1001.19 432.84 
L 1166.57 432.84 
" clip-path="url(#pdd02288f97)" style="fill: none; stroke: #b0b0b0; stroke-width: 0.8; stroke-linecap: square"/>
</g>
<g id="line2d_225">
<g>
<path d="M 0 0 L -4.4 0" transform="translate(1001.19 432.84)" style="stroke: #000000; stroke-width: 1.45"/>
</g>
</g>
<g id="line2d_226">
<g>
<path d="M 0 0 L 4.4 0" transform="translate(1166.57 432.84)" style="stroke: #000000; stroke-width: 1.45"/>
</g>
</g>
<g id="text_74">
<text style="font-size: 12px; font-family: 'DejaVu Serif', serif; text-anchor: end" x="994.15" y="437.4" transform="rotate(-0 994.15 437.4)">10</text>
</g>
</g>
<g id="ytick_47">
<g id="line2d_227">
<path d="M 1001.19 346.82 
L 1166.57 346.82 
" clip-path="url(#pdd02288f97)" style="fill: none; stroke: #b0b0b0; stroke-width: 0.8; stroke-linecap: square"/>
</g>
<g id="line2d_228">
<g>
<path d="M 0 0 L -4.4 0" transform="translate(1001.19 346.82)" style="stroke: #000000; stroke-width: 1.45"/>
</g>
</g>
<g id="line2d_229">
<g>
<path d="M 0 0 L 4.4 0" transform="translate(1166.57 346.82)" style="stroke: #000000; stroke-width: 1.45"/>
</g>
</g>
<g id="text_75">
<text style="font-size: 12px; font-family: 'DejaVu Serif', serif; text-anchor: end" x="994.15" y="351.38" transform="rotate(-0 994.15 351.38)">12</text>
</g>
</g>
<g id="ytick_48">
<g id="line2d_230">
<path d="M 1001.19 260.81 
L 1166.57 260.81 
" clip-path="url(#pdd02288f97)" style="fill: none; stroke: #b0b0b0; stroke-width: 0.8; stroke-linecap: square"/>
</g>
<g id="line2d_231">
<g>
<path d="M 0 0 L -4.4 0" transform="translate(1001.19 260.81)" style="stroke: #000000; stroke-width: 1.45"/>
</g>
</g>
<g id="line2d_232">
<g>
<path d="M 0 0 L 4.4 0" transform="translate(1166.57 260.81)" style="stroke: #000000; stroke-width: 1.45"/>
</g>
</g>
<g id="text_76">
<text style="font-size: 12px; font-family: 'DejaVu Serif', serif; text-anchor: end" x="994.15" y="265.37" transform="rotate(-0 994.15 265.37)">14</text>
</g>
</g>
<g id="ytick_49">
<g id="line2d_233">
<path d="M 1001.19 174.79 
L 1166.57 174.79 
" clip-path="url(#pdd02288f97)" style="fill: none; stroke: #b0b0b0; stroke-width: 0.8; stroke-linecap: square"/>
</g>
<g id="line2d_234">
<g>
<path d="M 0 0 L -4.4 0" transform="translate(1001.19 174.79)" style="stroke: #000000; stroke-width: 1.45"/>
</g>
</g>
<g id="line2d_235">
<g>
<path d="M 0 0 L 4.4 0" transform="translate(1166.57 174.79)" style="stroke: #000000; stroke-width: 1.45"/>
</g>
</g>
<g id="text_77">
<text style="font-size: 12px; font-family: 'DejaVu Serif', serif; text-anchor: end" x="994.15" y="179.35" transform="rotate(-0 994.15 179.35)">16</text>
</g>
</g>
<g id="ytick_50">
<g id="line2d_236">
<path d="M 1001.19 88.78 
L 1166.57 88.78 
" clip-path="url(#pdd02288f97)" style="fill: none; stroke: #b0b0b0; stroke-width: 0.8; stroke-linecap: square"/>
</g>
<g id="line2d_237">
<g>
<path d="M 0 0 L -4.4 0" transform="translate(1001.19 88.78)" style="stroke: #000000; stroke-width: 1.45"/>
</g>
</g>
<g id="line2d_238">
<g>
<path d="M 0 0 L 4.4 0" transform="translate(1166.57 88.78)" style="stroke: #000000; stroke-width: 1.45"/>
</g>
</g>
<g id="text_78">
<text style="font-size: 12px; font-family: 'DejaVu Serif', serif; text-anchor: end" x="994.15" y="93.34" transform="rotate(-0 994.15 93.34)">18</text>
</g>
</g>
</g>
<g id="line2d_239">
<path d="M 1006.65 804.6 
L 1017 808.2 
L 1023.75 816.3 
L 1024.65 822.6 
L 1023.75 829.8 
L 1021.95 841.05 
" clip-path="url(#pdd02288f97)" style="fill: none; stroke: #0000ff; stroke-width: 1.5; stroke-linecap: square"/>
</g>
<g id="line2d_240">
<path d="M 1021.05 804.6 
L 1029.6 810 
L 1035.9 816.3 
L 1037.25 825.3 
L 1036.35 838.8 
L 1035.45 841.05 
" clip-path="url(#pdd02288f97)" style="fill: none; stroke: #008000; stroke-width: 1.5; stroke-linecap: square"/>
</g>
<g id="line2d_241"/>
<g id="line2d_242">
<path d="M 1004.85 862.65 
L 1003.95 852.3 
L 1001.25 847.35 
L 993.6 844.2 
L 993.6 839.88 
L 1182.6 839.52 
L 1182.6 838.8 
L 1110.6 838.35 
L 1074.6 837 
L 1047.6 835.2 
L 1034.1 833.4 
L 1029.6 829.8 
L 1029.6 825.3 
L 1028.7 822.6 
L 1023.3 816.3 
L 1016.1 813.6 
L 1008.45 811.8 
L 1012.95 808.2 
L 1011.6 806.4 
L 1001.25 803.7 
L 993.6 803.25 
M 1002.19 739.3 
L 1001.54 738.65 
L 1441 738.39 
M 1441 736.96 
L 1002.24 736.7 
L 1010.42 736.06 
L 1001.89 735.41 
L 1004.33 734.76 
L 1002.35 734.11 
L 1004.04 733.46 
L 1002.39 732.82 
L 1002.4 732.17 
L 1001.96 731.52 
L 1092.83 730.87 
L 1008.47 730.22 
L 1441 729.97 
M 1441 728.54 
L 1004.19 728.28 
L 1002.15 727.63 
L 1007.05 726.98 
L 1001.31 726.34 
L 1071.15 725.69 
L 1003.27 725.04 
L 1001.38 724.39 
L 1128.97 723.74 
L 1004.3 723.1 
L 1007.61 722.45 
L 1003.44 721.8 
L 1006.5 721.15 
L 1003.88 720.5 
L 1002.06 719.86 
L 1001.23 719.21 
L 1003.66 718.56 
L 1003.05 717.91 
L 1002.91 717.26 
L 1001.37 716.62 
L 1045.01 715.97 
L 1008.02 715.32 
L 1004.28 714.67 
L 1001.48 714.02 
L 1003.05 713.38 
L 1005.6 712.73 
L 1006.5 712.08 
L 1002.18 711.43 
L 1002.96 710.78 
L 1004.12 710.14 
L 1002 709.49 
L 1001.34 708.84 
L 1006.21 708.19 
L 1002.12 707.54 
L 1003.61 706.25 
L 1001.22 705.6 
L 1011.88 704.95 
L 1001.8 704.3 
L 1004.92 703.66 
L 1006.61 703.01 
L 1001.55 702.36 
L 1004.28 701.71 
L 1002.7 701.06 
L 1092.83 700.42 
L 1002.46 699.77 
L 1004.99 698.47 
L 1008.84 697.82 
L 1002.17 697.18 
L 1003.82 696.53 
L 1003.21 695.88 
L 1001.73 695.23 
L 1002.48 694.58 
L 1001.51 693.94 
L 1003.27 693.29 
L 1018.07 692.64 
L 1002.13 691.99 
L 1003.83 691.34 
L 1023.17 690.7 
L 1001.32 690.05 
L 1005.04 689.4 
L 1441 689.14 
M 1441 687.71 
L 1003.3 687.46 
L 1002.04 686.81 
L 1004.25 686.16 
L 1001.49 685.51 
L 1002.03 684.86 
L 1002.17 684.22 
L 1002.04 683.57 
L 1007.68 682.92 
L 1007.93 682.27 
L 1003.53 681.62 
L 1441 681.37 
M 1441 680.57 
L 1052.24 680.33 
L 1052.24 679.68 
L 1008.6 679.03 
L 1008.5 678.38 
L 1002.25 677.74 
L 1004.04 677.09 
L 1012.55 676.44 
L 1042.23 675.79 
L 1010.59 675.14 
L 1004 674.5 
L 1003.43 673.85 
L 1008.43 673.2 
L 1001.93 672.55 
L 1006.97 671.9 
L 1021.66 671.26 
L 1002.5 670.61 
L 1004.47 669.96 
L 1005.27 669.31 
L 1002.49 668.66 
L 1005.57 668.02 
L 1003.81 667.37 
L 1002.25 666.07 
L 1003.89 665.42 
L 1017.31 664.78 
L 1005 664.13 
L 1001.42 663.48 
L 1001.65 662.83 
L 1011.37 662.18 
L 1002.1 661.54 
L 1028.89 660.89 
L 1001.86 660.24 
L 1001.86 659.59 
L 1011.05 658.94 
L 1004.27 658.3 
L 1007.49 657.65 
L 1020.49 657 
L 1001.38 656.35 
L 1001.8 655.7 
L 1001.61 655.06 
L 1002.16 654.41 
L 1001.74 653.76 
L 1020.23 653.11 
L 1002.32 652.46 
L 1061.14 651.82 
L 1002.33 651.17 
L 1005.5 650.52 
L 1004.48 649.87 
L 1001.41 649.22 
L 1002.09 648.58 
L 1002.49 647.93 
L 1008.86 647.28 
L 1002.96 646.63 
L 1003.2 645.98 
L 1001.86 645.34 
L 1001.31 644.69 
L 1002.9 644.04 
L 1002.7 643.39 
L 1006.62 642.74 
L 1007.21 642.1 
L 1002.96 641.45 
L 1001.28 640.8 
L 1006.82 640.15 
L 1441 639.9 
M 1441 639.11 
L 1021.76 638.86 
L 1003.28 638.21 
L 1084.49 637.56 
L 1003.76 636.91 
L 1006.75 636.26 
L 1001.88 635.62 
L 1013.97 634.97 
L 1002.77 634.32 
L 1006.54 633.67 
L 1004.62 633.02 
L 1004.26 632.38 
L 1001.78 631.73 
L 1006.76 631.08 
L 1001.47 630.43 
L 1441 630.17 
M 1441 629.39 
L 1001.51 629.14 
L 1018.3 628.49 
L 1006.38 627.84 
L 1006.47 627.19 
L 1006 626.54 
L 1001.68 625.9 
L 1003.21 625.25 
L 1004.11 624.6 
L 1009.2 623.95 
L 1002.85 623.3 
L 1003.72 622.66 
L 1002.41 622.01 
L 1006.16 621.36 
L 1007.07 620.71 
L 1009.17 620.06 
L 1008.69 619.42 
L 1001.42 618.77 
L 1004.83 618.12 
L 1002.87 617.47 
L 1008.1 616.82 
L 1002.69 616.18 
L 1001.48 615.53 
L 1003.39 614.88 
L 1001.43 614.23 
L 1013.59 613.58 
L 1012.87 612.94 
L 1013.52 612.29 
L 1015.52 611.64 
L 1002.96 610.99 
L 1001.21 610.34 
L 1002.29 609.7 
L 1002.12 609.05 
L 1003.43 608.4 
L 1003.32 607.75 
L 1004.48 607.1 
L 1004.45 606.46 
L 1003.79 605.81 
L 1004.09 605.16 
L 1001.54 604.51 
L 1058.91 603.86 
L 1002.23 603.22 
L 1004.1 602.57 
L 1001.29 601.92 
L 1004.24 601.27 
L 1016.66 600.62 
L 1006.1 599.98 
L 1003.58 599.33 
L 1003.11 598.68 
L 1002.46 598.03 
L 1012.55 597.38 
L 1006.48 596.74 
L 1003.31 596.09 
L 1005.58 595.44 
L 1023.89 594.79 
L 1005.71 594.14 
L 1005.66 593.5 
L 1007.54 592.85 
L 1003.53 592.2 
L 1008.71 591.55 
L 1008.11 590.9 
L 1002.22 590.26 
L 1001.75 589.61 
L 1004.59 588.96 
L 1002.6 588.31 
L 1007 587.66 
L 1001.22 587.02 
L 1001.74 586.37 
L 1001.2 583.78 
L 1027.78 583.13 
L 1001.27 582.48 
L 1002.67 581.83 
L 1441 581.58 
M 1441 580.79 
L 1002.16 580.54 
L 1003.09 579.89 
L 1001.46 579.24 
L 1011.86 578.59 
L 1002.04 577.94 
L 1005.22 577.3 
L 1002.17 576.65 
L 1012.15 576 
L 1001.85 575.35 
L 1001.27 574.7 
L 1002.3 574.06 
L 1092.83 573.41 
L 1020.07 572.76 
L 1001.99 571.46 
L 1001.34 570.82 
L 1012.16 570.17 
L 1008.54 569.52 
L 1009.32 568.87 
L 1163.44 568.22 
L 1003.15 567.58 
L 1001.72 566.93 
L 1002.81 566.28 
L 1001.68 565.63 
L 1004.76 564.98 
L 1004.1 564.34 
L 1002.87 563.69 
L 1005.49 563.04 
L 1004.28 562.39 
L 1047.24 561.74 
L 1002.56 561.1 
L 1004.47 560.45 
L 1002.95 559.8 
L 1005.77 559.15 
L 1010.67 558.5 
L 1011.81 557.86 
L 1003.11 557.21 
L 1002.65 556.56 
L 1004.22 555.26 
L 1012.45 554.62 
L 1004.03 553.97 
L 1005.5 553.32 
L 1011.09 552.67 
L 1017.77 552.02 
L 1006.15 551.38 
L 1002.83 550.73 
L 1014.77 550.08 
L 1002.49 549.43 
L 1001.66 548.78 
L 1001.95 548.14 
L 1010.32 547.49 
L 1095.05 546.84 
L 1001.95 546.19 
L 1004.69 545.54 
L 1441 545.29 
M 1441 543.86 
L 1002.35 543.6 
L 1001.7 542.95 
L 1001.41 542.3 
L 1001.34 541.66 
L 1002.13 541.01 
L 1003.16 540.36 
L 1003.05 539.71 
L 1004.46 539.06 
L 1007 538.42 
L 1003.27 537.77 
L 1002.21 537.12 
L 1009.72 536.47 
L 1010.19 535.82 
L 1003.96 535.18 
L 1001.79 534.53 
L 1003.56 533.88 
L 1012.32 533.23 
L 1001.58 532.58 
L 1021.56 531.94 
L 1001.64 531.29 
L 1005.18 530.64 
L 1002.52 529.99 
L 1003.15 529.34 
L 1002.58 528.7 
L 1008.16 528.05 
L 1003.12 527.4 
L 1003.7 526.75 
L 1003.32 526.1 
L 1002.8 525.46 
L 1441 525.2 
M 1441 524.42 
L 1002.28 524.16 
L 1006.05 523.51 
L 1003.04 522.86 
L 1002.91 522.22 
L 1004.34 521.57 
L 1026.67 520.92 
L 1001.93 520.27 
L 1006.45 519.62 
L 1006.2 518.98 
L 1001.95 518.33 
L 1001.69 517.68 
L 1009.92 517.03 
L 1002.08 516.38 
L 1001.37 515.74 
L 1001.61 515.09 
L 1002.22 514.44 
L 1083.38 513.79 
L 1002.47 513.14 
L 1003.52 512.5 
L 1005.38 511.85 
L 1006.57 511.2 
L 1068.37 510.55 
L 1008.63 509.9 
L 1002.69 509.26 
L 1005.46 508.61 
L 1003.93 507.96 
L 1001.29 507.31 
L 1001.78 506.66 
L 1001.86 504.72 
L 1002.26 504.07 
L 1001.81 503.42 
L 1001.96 502.78 
L 1001.91 502.13 
L 1004.04 501.48 
L 1002.14 500.83 
L 1008.73 500.18 
L 1007.82 499.54 
L 1002.6 498.89 
L 1011.91 498.24 
L 1004.22 497.59 
L 1001.84 496.94 
L 1001.57 496.3 
L 1006.53 495.65 
L 1002.14 495 
L 1001.35 494.35 
L 1004.21 493.7 
L 1001.24 493.06 
L 1055.58 492.41 
L 1005.09 491.76 
L 1002.12 491.11 
L 1005.1 490.46 
L 1003.63 489.82 
L 1001.37 489.17 
L 1008.38 488.52 
L 1441 488.27 
M 1441 487.48 
L 1004.62 487.22 
L 1004.01 486.58 
L 1012.06 485.93 
L 1006.9 485.28 
L 1009.65 484.63 
L 1002.18 483.98 
L 1008.21 483.34 
L 1001.8 482.69 
L 1002.73 482.04 
L 1006.37 481.39 
L 1063.92 480.74 
L 1002.17 480.1 
L 1001.89 479.45 
L 1004.81 478.8 
L 1003.21 478.15 
L 1002.72 477.5 
L 1007.18 476.86 
L 1001.56 475.56 
L 1010.79 474.91 
L 1004.23 474.26 
L 1006.01 473.62 
L 1003.48 472.97 
L 1011.53 472.32 
L 1002.46 471.67 
L 1003.3 470.38 
L 1002.25 469.73 
L 1003.21 469.08 
L 1008.32 468.43 
L 1005.03 467.78 
L 1022.43 467.14 
L 1005.34 466.49 
L 1001.43 465.84 
L 1001.7 465.19 
L 1002.59 464.54 
L 1003.97 463.9 
L 1001.64 463.25 
L 1003.62 462.6 
L 1003.58 461.95 
L 1008.94 461.3 
L 1002.3 460.66 
L 1009.26 460.01 
L 1002.11 459.36 
L 1011.37 458.06 
L 1004 457.42 
L 1001.5 456.12 
L 1002.86 455.47 
L 1441 455.22 
M 1441 454.43 
L 1003.71 454.18 
L 1001.36 453.53 
L 1003.02 452.88 
L 1107.28 452.23 
L 1006.63 451.58 
L 1002.82 450.94 
L 1003.24 450.29 
L 1007.19 449.64 
L 1017.16 448.99 
L 1001.97 448.34 
L 1003.43 447.7 
L 1003.52 447.05 
L 1003.41 446.4 
L 1002.04 445.75 
L 1005.22 445.1 
L 1003.66 444.46 
L 1003.38 443.81 
L 1001.54 443.16 
L 1005.43 442.51 
L 1002.49 441.86 
L 1004 441.22 
L 1002.75 440.57 
L 1001.23 439.92 
L 1006.62 439.27 
L 1003.36 438.62 
L 1001.58 437.98 
L 1002.86 437.33 
L 1001.8 436.68 
L 1007.66 436.03 
L 1002.94 435.38 
L 1009.66 434.74 
L 1006.14 434.09 
L 1001.96 432.79 
L 1003.85 432.14 
L 1001.78 431.5 
L 1005.3 430.85 
L 1441 430.59 
M 1441 429.11 
L 1134.53 428.9 
L 1134.53 428.26 
L 1002.9 427.61 
L 1007.21 426.96 
L 1001.48 426.31 
L 1018.73 425.66 
L 1001.27 425.02 
L 1001.79 424.37 
L 1003.21 423.72 
L 1003.38 423.07 
L 1003.07 422.42 
L 1001.61 421.78 
L 1004.46 421.13 
L 1005.06 420.48 
L 1004.27 419.83 
L 1007.82 419.18 
L 1002.54 418.54 
L 1009.57 417.89 
L 1020.01 417.24 
L 1005.75 416.59 
L 1001.53 415.94 
L 1008.45 415.3 
L 1009.31 414.65 
L 1003.25 414 
L 1012.29 413.35 
L 1002.78 412.7 
L 1005.92 412.06 
L 1010.35 411.41 
L 1038.9 410.76 
L 1005.61 410.11 
L 1006.15 409.46 
L 1063.92 408.82 
L 1002.68 408.17 
L 1001.23 407.52 
L 1083.38 406.87 
L 1003.34 406.22 
L 1003.4 405.58 
L 1066.14 404.93 
L 1005.67 404.28 
L 1002.42 403.63 
L 1441 403.38 
M 1441 402.59 
L 1001.84 402.34 
L 1002.78 401.69 
L 1001.69 401.04 
L 1004.07 400.39 
L 1001.47 399.74 
L 1004.2 399.1 
L 1001.45 398.45 
L 1005.7 397.8 
L 1006.25 397.15 
L 1003.77 396.5 
L 1010.76 395.86 
L 1002.39 395.21 
L 1002.78 394.56 
L 1013.47 393.91 
L 1003.53 393.26 
L 1002.75 392.62 
L 1012.04 391.97 
L 1003.61 391.32 
L 1001.21 390.67 
L 1001.76 390.02 
L 1018.06 389.38 
L 1021.95 388.73 
L 1003.73 388.08 
L 1010.52 387.43 
L 1006.46 386.78 
L 1441 386.53 
M 1441 385.74 
L 1004.36 385.49 
L 1002.43 384.84 
L 1001.27 384.19 
L 1003.39 383.54 
L 1102.84 382.9 
L 1102.84 382.25 
L 1003.69 381.6 
L 1002.78 380.95 
L 1001.46 380.3 
L 1002.77 379.66 
L 1011 379.01 
L 1003.55 378.36 
L 1005.11 377.71 
L 1008.86 377.06 
L 1038.34 376.42 
L 1007.96 375.77 
L 1005.06 375.12 
L 1001.28 374.47 
L 1002.27 373.82 
L 1005.64 373.18 
L 1005.93 372.53 
L 1001.74 371.88 
L 1001.19 371.23 
L 1010.01 370.58 
L 1003.12 369.94 
L 1003.11 369.29 
L 1009.96 368.64 
L 1005.31 367.99 
L 1002.39 367.34 
L 1003.31 366.7 
L 1009.66 366.05 
L 1002.47 365.4 
L 1003.46 364.75 
L 1112.84 364.1 
L 1008.98 363.46 
L 1001.32 362.81 
L 1004.84 362.16 
L 1003.19 361.51 
L 1004.04 360.86 
L 1001.87 360.22 
L 1009.77 359.57 
L 1002.99 358.92 
L 1004.61 358.27 
L 1001.45 357.62 
L 1002.14 356.98 
L 1007.71 356.33 
L 1001.23 355.68 
L 1002.4 355.03 
L 1001.8 354.38 
L 1002.31 353.74 
L 1003.88 353.09 
L 1006.64 352.44 
L 1003.3 351.79 
L 1007.75 351.14 
L 1004.57 350.5 
L 1008.83 349.85 
L 1001.68 349.2 
L 1150.65 348.55 
L 1005.03 347.9 
L 1009.12 347.26 
L 1001.31 346.61 
L 1001.47 345.96 
L 1001.21 345.31 
L 1001.2 344.66 
L 1001.96 344.02 
L 1003.53 343.37 
L 1001.59 342.07 
L 1005.14 341.42 
L 1052.8 340.78 
L 1013.11 340.13 
L 1002.21 339.48 
L 1001.33 338.83 
L 1001.73 338.18 
L 1001.28 337.54 
L 1001.9 336.89 
L 1004.21 336.24 
L 1002.43 335.59 
L 1001.22 334.94 
L 1002.31 334.3 
L 1002.34 333.65 
L 1002.05 333 
L 1004.91 332.35 
L 1017.22 331.7 
L 1073.93 331.06 
L 1001.27 330.41 
L 1002.9 329.76 
L 1005.26 329.11 
L 1002.31 328.46 
L 1001.48 327.82 
L 1003.43 327.17 
L 1011.82 326.52 
L 1004.69 325.87 
L 1020.14 325.22 
L 1003.64 324.58 
L 1002.36 323.93 
L 1002.57 323.28 
L 1005.99 322.63 
L 1007.06 321.98 
L 1003.31 321.34 
L 1005 320.69 
L 1006.13 320.04 
L 1003.78 319.39 
L 1008.18 318.74 
L 1003.65 318.1 
L 1003.33 317.45 
L 1004.82 316.8 
L 1003.84 316.15 
L 1007.38 315.5 
L 1005.45 314.86 
L 1006.73 314.21 
L 1004.53 313.56 
L 1007.31 312.91 
L 1002.71 312.26 
L 1002.31 311.62 
L 1006.2 310.97 
L 1001.46 310.32 
L 1074.48 309.67 
L 1001.33 309.02 
L 1008.31 307.73 
L 1010.24 307.08 
L 1002.48 306.43 
L 1006.48 305.78 
L 1004.1 305.14 
L 1079.49 304.49 
L 1001.35 303.84 
L 1003.68 303.19 
L 1002.36 302.54 
L 1006.93 301.9 
L 1008.65 301.25 
L 1003.49 300.6 
L 1083.38 299.95 
L 1001.58 299.3 
L 1002.32 298.66 
L 1005.75 298.01 
L 1003.09 297.36 
L 1002.23 296.71 
L 1003.27 296.06 
L 1009.37 295.42 
L 1002.91 294.77 
L 1002.91 294.12 
L 1003.42 293.47 
L 1009.18 292.82 
L 1006.92 292.18 
L 1003.33 291.53 
L 1001.31 290.88 
L 1006.86 290.23 
L 1001.55 288.94 
L 1059.47 288.29 
L 1003.22 287.64 
L 1001.91 286.99 
L 1005.64 286.34 
L 1002.06 285.7 
L 1006.1 285.05 
L 1003.83 284.4 
L 1002.28 283.75 
L 1002.05 282.46 
L 1001.64 281.81 
L 1001.95 281.16 
L 1002.39 280.51 
L 1441 280.26 
M 1441 278.82 
L 1002.3 278.57 
L 1014.53 277.92 
L 1003.33 277.27 
L 1017.31 276.62 
L 1058.36 275.98 
L 1002 275.33 
L 1004.78 274.68 
L 1002.84 274.03 
L 1047.79 273.38 
L 1001.44 272.74 
L 1018.46 272.09 
L 1016.71 271.44 
L 1001.91 270.79 
L 1001.33 270.14 
L 1003.38 269.5 
L 1007.82 268.85 
L 1002.89 268.2 
L 1012.92 267.55 
L 1001.19 266.9 
L 1005.54 266.26 
L 1015.7 265.61 
L 1001.3 264.96 
L 1001.75 264.31 
L 1001.74 263.66 
L 1006.09 263.02 
L 1441 262.76 
M 1441 261.97 
L 1009 261.72 
L 1001.85 261.07 
L 1002.32 260.42 
L 1004.39 259.78 
L 1001.97 259.13 
L 1007.85 258.48 
L 1002.56 257.83 
L 1001.96 257.18 
L 1001.73 256.54 
L 1010.56 255.89 
L 1007.14 255.24 
L 1012.09 254.59 
L 1001.48 253.94 
L 1005.8 253.3 
L 1002.22 252.65 
L 1008.22 252 
L 1008.47 251.35 
L 1011.18 250.7 
L 1002.06 250.06 
L 1001.37 249.41 
L 1441 249.15 
M 1441 248.37 
L 1003.69 248.11 
L 1001.86 247.46 
L 1002.99 246.82 
L 1007.89 246.17 
L 1001.44 245.52 
L 1003.72 244.87 
L 1001.24 244.22 
L 1002.55 243.58 
L 1004.23 242.93 
L 1002.64 242.28 
L 1004.91 241.63 
L 1002.72 240.98 
L 1102.28 240.34 
L 1002.52 239.69 
L 1003.01 239.04 
L 1002.67 238.39 
L 1001.96 237.74 
L 1001.61 237.1 
L 1004.38 236.45 
L 1441 236.19 
M 1441 234.11 
L 1001.67 233.86 
L 1001.48 233.21 
L 1003.63 232.56 
L 1002.63 231.91 
L 1004.79 231.26 
L 1003.47 230.62 
L 1003.51 229.97 
L 1004.21 229.32 
L 1001.68 228.67 
L 1005.21 228.02 
L 1002.61 227.38 
L 1004.72 226.73 
L 1022.05 226.08 
L 1001.49 225.43 
L 1001.92 224.78 
L 1002.59 224.14 
L 1001.19 223.49 
L 1088.38 222.84 
L 1001.42 222.19 
L 1003.21 221.54 
L 1012.49 220.9 
L 1007.84 220.25 
L 1004.04 219.6 
L 1001.38 218.95 
L 1441 218.69 
M 1441 217.91 
L 1002.28 217.66 
L 1001.81 217.01 
L 1006.5 216.36 
L 1002.41 215.71 
L 1002.03 215.06 
L 1005.2 214.42 
L 1001.73 213.77 
L 1004.38 213.12 
L 1002.19 212.47 
L 1003.66 211.82 
L 1002.64 211.18 
L 1022.53 210.53 
L 1127.3 209.88 
L 1007.55 209.23 
L 1001.43 208.58 
L 1001.32 207.94 
L 1016.42 207.29 
L 1002.59 206.64 
L 1003.27 205.99 
L 1021.97 205.34 
L 1008.89 204.7 
L 1025.43 204.05 
L 1005.46 203.4 
L 1004.02 202.75 
L 1001.79 202.1 
L 1003.97 201.46 
L 1016.31 200.81 
L 1004.12 200.16 
L 1003.23 199.51 
L 1001.38 198.86 
L 1002.27 198.22 
L 1441 197.96 
M 1441 197.16 
L 1036.65 196.92 
L 1014.36 196.27 
L 1001.21 195.62 
L 1019.36 194.98 
L 1006.36 194.33 
L 1001.59 193.68 
L 1002.11 193.03 
L 1002.37 192.38 
L 1004.27 191.74 
L 1011.69 191.09 
L 1084.68 190.44 
L 1003.49 189.79 
L 1009.69 189.14 
L 1004.59 188.5 
L 1002.33 187.85 
L 1005.62 187.2 
L 1002.35 186.55 
L 1094.1 185.9 
L 1002.09 185.26 
L 1002.5 184.61 
L 1032.47 183.96 
L 1076.63 183.31 
L 1041.99 182.66 
L 1022.27 182.02 
L 1022.44 181.37 
L 1008.46 180.72 
L 1005.9 180.07 
L 1015.51 179.42 
L 1015.13 178.78 
L 1001.58 178.13 
L 1002.42 177.48 
L 1003.7 176.83 
L 1026.67 176.18 
L 1004.93 175.54 
L 1003.73 174.89 
L 1001.7 174.24 
L 1001.62 173.59 
L 1441 173.33 
M 1441 172.55 
L 1006.95 172.3 
L 1001.46 171.65 
L 1005.27 171 
L 1003.33 170.35 
L 1043.18 169.7 
L 1005.07 169.06 
L 1001.45 168.41 
L 1014.55 167.76 
L 1003.41 167.11 
L 1008.22 166.46 
L 1016.97 165.82 
L 1001.32 165.17 
L 1009.3 164.52 
L 1001.99 163.87 
L 1002.1 163.22 
L 1007.95 162.58 
L 1088.44 161.93 
L 1005.25 161.28 
L 1020.42 160.63 
L 1004.15 159.98 
L 1003.26 159.34 
L 1001.86 158.69 
L 1002.04 158.04 
L 1083.96 157.39 
L 1082.63 156.74 
L 1002.58 156.1 
L 1001.63 155.45 
L 1018.79 154.8 
L 1002.08 154.15 
L 1001.5 153.5 
L 1002.3 152.86 
L 1001.31 152.21 
L 1018.2 150.91 
L 1002.56 150.26 
L 1002.6 149.62 
L 1001.54 148.32 
L 1016.44 147.67 
L 1001.92 147.02 
L 1009.02 146.38 
L 1024.19 145.73 
L 1002.42 145.08 
L 1003.17 144.43 
L 1005.29 143.78 
L 1001.88 142.49 
L 1088.99 141.84 
L 1010.78 141.19 
L 1001.65 140.54 
L 1004.96 139.9 
L 1001.26 139.25 
L 1060.46 138.6 
L 1002.65 137.95 
L 1001.23 137.3 
L 1002.2 136.66 
L 1007.78 136.01 
L 1003.73 135.36 
L 1001.94 134.71 
L 1001.46 134.06 
L 1019.29 133.42 
L 1002.61 132.77 
L 1063.78 132.12 
L 1012.76 131.47 
L 1001.68 130.82 
L 1006.02 130.18 
L 1004.13 129.53 
L 1001.3 128.88 
L 1002.32 128.23 
L 1005.72 127.58 
L 1003.84 126.94 
L 1013.85 126.29 
L 1001.86 125.64 
L 1002.94 124.99 
L 1441 124.74 
M 1441 123.95 
L 1002.17 123.7 
L 1003.86 123.05 
L 1001.3 122.4 
L 1005.03 121.75 
L 1003.28 121.1 
L 1005.84 120.46 
L 1004.81 119.81 
L 1002.95 119.16 
L 1046.64 118.51 
L 1001.88 117.86 
L 1001.91 117.22 
L 1056.29 116.57 
L 1019.53 115.92 
L 1001.82 115.27 
L 1001.35 114.62 
L 1084.66 113.98 
L 1006.98 113.33 
L 1006.25 112.68 
L 1004.72 112.03 
L 1089.05 111.38 
L 1082.44 110.74 
L 1004.83 110.09 
L 1026.43 109.44 
L 1001.99 108.79 
L 1003.14 108.14 
L 1008.78 107.5 
L 1001.52 106.85 
L 1003.69 106.2 
L 1008.19 105.55 
L 1002.33 104.9 
L 1014.35 104.26 
L 1001.96 103.61 
L 1002.01 102.96 
L 1020.39 102.31 
L 1002.01 101.66 
L 1003.05 101.02 
L 1002.92 100.37 
L 1007.9 99.72 
L 1002.11 99.07 
L 1001.53 98.42 
L 1014.05 97.78 
L 1441 97.52 
M 1441 96.74 
L 1001.26 96.48 
L 1007.94 95.18 
L 1002.36 94.54 
L 1093.94 93.89 
L 1007.71 93.24 
L 1005.25 92.59 
L 1001.52 91.3 
L 1001.83 90.65 
L 1002.47 90 
L 1003.79 89.35 
L 1001.86 88.7 
L 1001.42 88.06 
L 1001.42 88.06 
" clip-path="url(#pdd02288f97)" style="fill: none; stroke: #00ffff; stroke-width: 1.5; stroke-linecap: square"/>
</g>
<g id="line2d_243">
<path d="M 1039.05 840.6 
L 1037.7 829.8 
L 1039.05 824.4 
L 1035.9 819 
L 1023.3 813.6 
L 1021.5 810.9 
L 1024.2 808.2 
L 1021.5 804.6 
L 1005.3 802.8 
L 1008 799.2 
L 1002.6 795.6 
L 1001.7 792.9 
L 1002.6 793.08 
L 1001.36 792.43 
L 1004.8 791.78 
L 1002.25 791.14 
L 1003.18 790.49 
L 1002.19 789.84 
L 1003.74 789.19 
L 1003.62 788.54 
L 1005.62 787.9 
L 1003.28 787.25 
L 1002.02 786.6 
L 1016.66 785.95 
L 1003.19 785.3 
L 1002.82 784.01 
L 1001.28 783.36 
L 1004.69 782.71 
L 1004.47 782.06 
L 1003.48 781.42 
L 1003.3 780.77 
L 1005.65 780.12 
L 1002.78 779.47 
L 1003.74 778.82 
L 1006.06 778.18 
L 1005.04 777.53 
L 1002.73 776.88 
L 1004.65 776.23 
L 1003.87 775.58 
L 1001.91 774.94 
L 1003.1 774.29 
L 1002.43 773.64 
L 1002.1 772.99 
L 1003.2 772.34 
L 1005.22 771.7 
L 1001.26 771.05 
L 1004.87 770.4 
L 1003.13 769.75 
L 1005.86 769.1 
L 1002.29 768.46 
L 1007.79 767.81 
L 1003.64 767.16 
L 1002.5 766.51 
L 1003.31 765.86 
L 1002.52 765.22 
L 1003.47 764.57 
L 1002.36 763.92 
L 1003.72 763.27 
L 1002.35 762.62 
L 1004 761.98 
L 1003.81 761.33 
L 1001.79 760.68 
L 1001.6 760.03 
L 1004.33 759.38 
L 1001.3 758.74 
L 1003.61 758.09 
L 1002.59 757.44 
L 1005.43 756.79 
L 1003.01 756.14 
L 1003.19 755.5 
L 1001.2 754.85 
L 1003.48 754.2 
L 1003.97 753.55 
L 1002.66 752.9 
L 1004.03 752.26 
L 1001.25 751.61 
L 1003.53 750.31 
L 1002.33 749.66 
L 1004.89 749.02 
L 1003.92 748.37 
L 1001.83 747.72 
L 1001.31 747.07 
L 1002.84 746.42 
L 1001.65 745.78 
L 1002.19 745.13 
L 1001.39 744.48 
L 1004.14 743.83 
L 1003.14 743.18 
L 1003.35 742.54 
L 1004.21 741.89 
L 1003.33 741.24 
L 1002.45 739.94 
L 1002.44 739.3 
L 1004.12 738.65 
L 1002.01 738 
L 1006.89 737.35 
L 1005.54 736.7 
L 1001.83 736.06 
L 1004.13 735.41 
L 1004 734.76 
L 1002.74 734.11 
L 1004.73 733.46 
L 1003.05 732.82 
L 1025.89 732.17 
L 1002.85 731.52 
L 1007.89 730.87 
L 1001.19 730.22 
L 1004.23 729.58 
L 1001.61 728.93 
L 1002.04 728.28 
L 1441 728.02 
M 1441 727.24 
L 1002.04 726.98 
L 1004.39 726.34 
L 1019.29 725.69 
L 1019.1 725.04 
L 1014.46 724.39 
L 1002.52 723.74 
L 1009.21 723.1 
L 1009.18 722.45 
L 1001.94 721.8 
L 1025 721.15 
L 1001.88 720.5 
L 1023.78 719.86 
L 1033.89 719.21 
L 1003.5 718.56 
L 1003.18 717.91 
L 1001.92 717.26 
L 1003.71 716.62 
L 1010.88 715.97 
L 1002.66 715.32 
L 1005.04 714.67 
L 1002.06 714.02 
L 1005.81 713.38 
L 1004.03 712.73 
L 1009.45 712.08 
L 1001.46 711.43 
L 1004.72 710.78 
L 1003 710.14 
L 1002.53 708.84 
L 1015.55 708.19 
L 1002.15 707.54 
L 1004.49 706.9 
L 1001.28 706.25 
L 1012.13 705.6 
L 1018.19 704.95 
L 1005.06 704.3 
L 1025.74 703.66 
L 1002.67 703.01 
L 1003.08 702.36 
L 1004.75 701.71 
L 1017.65 701.06 
L 1008.6 700.42 
L 1002.49 699.77 
L 1007.77 699.12 
L 1002.37 698.47 
L 1001.71 697.82 
L 1001.64 697.18 
L 1002.21 696.53 
L 1009.42 695.88 
L 1006.52 695.23 
L 1018.65 694.58 
L 1002.4 693.94 
L 1002 693.29 
L 1002.67 692.64 
L 1023.89 691.99 
L 1001.77 691.34 
L 1003.67 690.7 
L 1024.65 690.05 
L 1005.91 689.4 
L 1004.61 688.75 
L 1001.72 688.1 
L 1002.41 687.46 
L 1006.65 686.81 
L 1008.4 686.16 
L 1003.56 685.51 
L 1078.93 684.86 
L 1001.97 684.22 
L 1002.91 683.57 
L 1004.6 682.92 
L 1001.28 682.27 
L 1003.68 681.62 
L 1007.53 680.98 
L 1039.45 680.33 
L 1018.9 679.68 
L 1004.64 679.03 
L 1004.76 678.38 
L 1002.11 677.74 
L 1034.45 677.09 
L 1002.58 676.44 
L 1010.5 675.79 
L 1005.7 675.14 
L 1041.68 674.5 
L 1006.08 673.85 
L 1004.67 673.2 
L 1001.55 672.55 
L 1005.75 671.9 
L 1001.7 671.26 
L 1004.74 670.61 
L 1001.46 669.96 
L 1004.06 669.31 
L 1003.13 668.66 
L 1003.65 668.02 
L 1047.79 667.37 
L 1005.62 666.72 
L 1001.34 666.07 
L 1001.78 665.42 
L 1014.48 664.78 
L 1003.1 664.13 
L 1006.89 663.48 
L 1441 663.22 
M 1441 661.79 
L 1001.43 661.54 
L 1012.71 660.89 
L 1005.81 660.24 
L 1002.96 659.59 
L 1021.71 658.94 
L 1007.07 658.3 
L 1006.76 657.65 
L 1001.95 657 
L 1009.06 656.35 
L 1004.08 655.7 
L 1017.16 655.06 
L 1006.39 654.41 
L 1035.56 653.76 
L 1002.53 653.11 
L 1002.97 652.46 
L 1024.78 651.82 
L 1001.81 651.17 
L 1007.46 650.52 
L 1006.86 649.87 
L 1002.39 649.22 
L 1012.82 648.58 
L 1001.39 647.93 
L 1001.62 647.28 
L 1005.99 646.63 
L 1161.77 645.98 
L 1001.96 645.34 
L 1001.26 644.69 
L 1441 644.43 
M 1441 643.65 
L 1001.45 643.39 
L 1004.55 642.74 
L 1001.21 642.1 
L 1003.09 641.45 
L 1008.36 640.8 
L 1003.94 640.15 
L 1078.37 639.5 
L 1001.57 638.86 
L 1020.7 638.21 
L 1001.25 637.56 
L 1003.48 636.91 
L 1002.71 636.26 
L 1006.03 635.62 
L 1004.14 634.97 
L 1019.04 634.32 
L 1011.23 633.67 
L 1005.49 633.02 
L 1003.33 632.38 
L 1003.71 631.73 
L 1009.5 631.08 
L 1005.59 630.43 
L 1005.76 629.78 
L 1010.48 629.14 
L 1115.62 628.49 
L 1007.06 627.84 
L 1005.82 627.19 
L 1002.79 626.54 
L 1061.69 625.9 
L 1001.56 625.25 
L 1001.25 624.6 
L 1025.73 623.95 
L 1003.06 622.66 
L 1022.78 622.01 
L 1002.04 621.36 
L 1010.26 620.71 
L 1002.19 620.06 
L 1006.78 618.77 
L 1003.18 618.12 
L 1011.66 617.47 
L 1002.69 616.82 
L 1006.15 616.18 
L 1001.99 615.53 
L 1067.25 614.88 
L 1005.16 614.23 
L 1002.15 613.58 
L 1007.11 612.94 
L 1010.5 612.29 
L 1002.32 611.64 
L 1003.44 610.99 
L 1001.24 610.34 
L 1002.9 609.7 
L 1004.2 609.05 
L 1023 608.4 
L 1013.78 607.75 
L 1001.83 607.1 
L 1003.52 606.46 
L 1001.22 605.81 
L 1002.36 605.16 
L 1006.57 604.51 
L 1002.92 603.86 
L 1023.28 603.22 
L 1067.81 602.57 
L 1003.07 601.92 
L 1001.75 601.27 
L 1006.68 600.62 
L 1009.58 599.98 
L 1002.11 599.33 
L 1008.2 598.68 
L 1008.11 598.03 
L 1004.29 597.38 
L 1002.18 596.74 
L 1001.81 596.09 
L 1003.46 595.44 
L 1009.85 594.79 
L 1001.79 594.14 
L 1052.24 593.5 
L 1002.15 592.85 
L 1004.15 592.2 
L 1003.14 591.55 
L 1003.95 590.9 
L 1001.67 590.26 
L 1007.76 589.61 
L 1017.22 588.96 
L 1010.46 588.31 
L 1010.02 587.66 
L 1006.35 587.02 
L 1021.44 586.37 
L 1001.43 585.72 
L 1005.36 585.07 
L 1003.8 584.42 
L 1004.49 583.78 
L 1001.29 583.13 
L 1007.77 582.48 
L 1004.83 581.83 
L 1030 581.18 
L 1004.77 580.54 
L 1014.14 579.89 
L 1002.17 579.24 
L 1010.71 578.59 
L 1014.44 577.94 
L 1007.28 577.3 
L 1003.41 576.65 
L 1003.14 576 
L 1002.67 575.35 
L 1009.58 574.7 
L 1042.79 574.06 
L 1003.71 573.41 
L 1003.81 572.76 
L 1024.63 572.11 
L 1009.1 571.46 
L 1003.37 570.82 
L 1007.98 570.17 
L 1005.25 569.52 
L 1003.78 568.87 
L 1039.45 568.22 
L 1001.76 567.58 
L 1003.93 566.93 
L 1002.23 565.63 
L 1002.59 564.98 
L 1001.33 564.34 
L 1441 564.08 
M 1441 562.65 
L 1001.56 562.39 
L 1006.08 561.74 
L 1001.57 561.1 
L 1009.94 560.45 
L 1441 560.19 
M 1441 559.4 
L 1022.02 559.15 
L 1024.44 558.5 
L 1003.63 557.86 
L 1009.17 557.21 
L 1012.23 556.56 
L 1043.35 555.91 
L 1042.79 555.26 
L 1042.79 554.62 
L 1001.58 553.97 
L 1003.67 553.32 
L 1001.54 552.67 
L 1002.25 552.02 
L 1005.88 551.38 
L 1006.05 550.73 
L 1003.33 550.08 
L 1012.17 549.43 
L 1001.73 548.78 
L 1112.29 548.14 
L 1004.16 547.49 
L 1008.13 546.84 
L 1001.5 545.54 
L 1005.39 544.9 
L 1001.78 544.25 
L 1002.23 543.6 
L 1001.84 542.95 
L 1005.4 542.3 
L 1001.32 541.66 
L 1013.68 541.01 
L 1002.74 540.36 
L 1016.63 539.71 
L 1143.98 539.06 
L 1003.45 538.42 
L 1149.54 537.77 
L 1149.54 537.12 
L 1005.85 536.47 
L 1004.47 535.82 
L 1009.01 535.18 
L 1005.43 534.53 
L 1017.76 533.88 
L 1083.38 533.23 
L 1083.38 532.58 
L 1147.32 531.94 
L 1012.88 531.29 
L 1003.32 530.64 
L 1012.54 529.99 
L 1003.78 529.34 
L 1013.88 528.7 
L 1004.29 528.05 
L 1001.21 527.4 
L 1015.74 526.75 
L 1001.71 526.1 
L 1002.85 525.46 
L 1126.74 524.81 
L 1003.65 524.16 
L 1004.93 523.51 
L 1002.31 522.86 
L 1009.91 522.22 
L 1022.5 521.57 
L 1011 520.92 
L 1001.73 519.62 
L 1001.42 518.33 
L 1086.16 517.68 
L 1002.14 517.03 
L 1012.92 516.38 
L 1001.59 515.74 
L 1006.64 515.09 
L 1002.75 514.44 
L 1001.24 513.79 
L 1005.59 513.14 
L 1004.12 512.5 
L 1002.05 511.85 
L 1002.64 511.2 
L 1001.73 510.55 
L 1001.67 509.9 
L 1003.98 509.26 
L 1003.75 508.61 
L 1001.94 507.96 
L 1002.36 507.31 
L 1019.32 506.66 
L 1002.63 506.02 
L 1003.4 505.37 
L 1001.76 504.72 
L 1018.97 504.07 
L 1024.21 503.42 
L 1002.1 502.78 
L 1005.68 502.13 
L 1002.06 501.48 
L 1002.71 500.83 
L 1004.64 500.18 
L 1005.08 499.54 
L 1002.58 498.89 
L 1005.48 498.24 
L 1003.92 497.59 
L 1006.77 496.94 
L 1130.08 496.3 
L 1006.89 495.65 
L 1002.2 495 
L 1001.47 494.35 
L 1107.84 493.7 
L 1002.52 493.06 
L 1002.96 492.41 
L 1002.21 491.76 
L 1001.77 491.11 
L 1003.03 490.46 
L 1002.4 489.82 
L 1001.3 489.17 
L 1007.19 488.52 
L 1003.61 487.87 
L 1001.83 487.22 
L 1002.51 486.58 
L 1004.03 485.93 
L 1001.53 485.28 
L 1005.6 483.98 
L 1001.78 483.34 
L 1003.54 482.69 
L 1008.69 482.04 
L 1005.21 481.39 
L 1001.27 480.1 
L 1088.94 479.45 
L 1014.43 478.8 
L 1006.26 478.15 
L 1441 477.9 
M 1441 476.46 
L 1006.58 476.21 
L 1007.62 475.56 
L 1012.8 474.91 
L 1004.19 474.26 
L 1001.21 473.62 
L 1002.36 472.97 
L 1007.73 472.32 
L 1123.96 471.67 
L 1009.66 471.02 
L 1441 470.77 
M 1441 469.34 
L 1004.26 469.08 
L 1001.31 468.43 
L 1008.52 467.78 
L 1042.23 467.14 
L 1005.53 466.49 
L 1004.33 465.84 
L 1441 465.58 
M 1441 460.26 
L 1002.52 460.01 
L 1001.96 459.36 
L 1441 459.1 
M 1441 457.67 
L 1001.2 457.42 
L 1002.63 456.77 
L 1012.63 456.12 
L 1004.68 455.47 
L 1002.96 454.82 
L 1018.83 453.53 
L 1006.15 452.88 
L 1002.39 452.23 
L 1008.37 451.58 
L 1019.61 450.94 
L 1004.65 450.29 
L 1003.28 449.64 
L 1002.23 448.99 
L 1002.36 448.34 
L 1441 448.09 
M 1441 447.26 
L 1110.62 447.05 
L 1110.62 446.4 
L 1006.44 445.75 
L 1016.16 445.1 
L 1001.62 444.46 
L 1027.22 443.81 
L 1004.39 443.16 
L 1001.3 442.51 
L 1002.42 441.86 
L 1001.28 440.57 
L 1010.69 439.92 
L 1002.69 439.27 
L 1044.46 438.62 
L 1003.36 437.98 
L 1012.8 437.33 
L 1001.68 436.68 
L 1002.72 436.03 
L 1002.13 435.38 
L 1053.91 434.74 
L 1002.11 434.09 
L 1003.9 433.44 
L 1001.88 432.79 
L 1441 432.53 
M 1441 431.1 
L 1006.07 430.85 
L 1006.41 430.2 
L 1020.54 429.55 
L 1007.48 428.9 
L 1001.43 428.26 
L 1002.29 427.61 
L 1062.81 426.96 
L 1011.02 426.31 
L 1001.26 425.66 
L 1005.63 425.02 
L 1010.99 424.37 
L 1001.81 423.72 
L 1002.12 423.07 
L 1003.13 422.42 
L 1019.38 421.78 
L 1007.65 421.13 
L 1014.5 420.48 
L 1015 419.83 
L 1001.4 419.18 
L 1441 418.93 
M 1441 417.44 
L 1141.2 417.24 
L 1007.93 416.59 
L 1001.27 415.94 
L 1008.3 415.3 
L 1441 415.04 
M 1441 413.61 
L 1001.24 413.35 
L 1015.01 412.7 
L 1022.86 412.06 
L 1004.08 411.41 
L 1007.09 410.76 
L 1006.54 410.11 
L 1007.57 409.46 
L 1025.2 408.82 
L 1012.79 408.17 
L 1004.04 407.52 
L 1023.37 406.87 
L 1003.32 406.22 
L 1015.79 405.58 
L 1001.26 404.93 
L 1005.61 404.28 
L 1002.11 403.63 
L 1160.66 402.98 
L 1001.83 402.34 
L 1002.58 401.69 
L 1005.03 401.04 
L 1002.93 400.39 
L 1050.57 399.74 
L 1014.92 399.1 
L 1001.59 398.45 
L 1005.1 397.8 
L 1002.27 397.15 
L 1003.02 396.5 
L 1003.57 395.86 
L 1002.77 395.21 
L 1001.77 393.91 
L 1004.45 393.26 
L 1005.84 392.62 
L 1001.89 391.97 
L 1004.25 391.32 
L 1024.94 390.67 
L 1004.61 390.02 
L 1002.36 389.38 
L 1002.66 388.73 
L 1004.87 388.08 
L 1003.25 387.43 
L 1003.16 386.78 
L 1002.38 386.14 
L 1123.96 385.49 
L 1002.39 384.84 
L 1004.65 384.19 
L 1016.72 383.54 
L 1009.17 382.9 
L 1012.4 382.25 
L 1001.86 381.6 
L 1003.11 380.95 
L 1001.57 380.3 
L 1002.96 379.66 
L 1007.89 379.01 
L 1004.17 378.36 
L 1001.68 377.71 
L 1012.73 377.06 
L 1018.73 376.42 
L 1007.79 375.77 
L 1002.69 375.12 
L 1001.71 374.47 
L 1008.29 373.82 
L 1002.83 373.18 
L 1003.48 372.53 
L 1007.26 371.88 
L 1003.96 371.23 
L 1001.35 370.58 
L 1001.44 369.94 
L 1001.82 369.29 
L 1441 369.03 
M 1441 368.25 
L 1004.37 367.99 
L 1002.65 367.34 
L 1002.43 366.7 
L 1001.47 366.05 
L 1024.14 365.4 
L 1020.19 364.75 
L 1006.43 364.1 
L 1003.5 363.46 
L 1005.05 362.81 
L 1001.37 361.51 
L 1077.26 360.86 
L 1006.53 360.22 
L 1007.86 359.57 
L 1008.35 358.92 
L 1002.4 358.27 
L 1005.57 357.62 
L 1005.65 356.98 
L 1441 356.72 
M 1441 355.93 
L 1009.36 355.68 
L 1011.48 355.03 
L 1001.93 354.38 
L 1005.5 353.74 
L 1002.95 353.09 
L 1007 352.44 
L 1009.24 351.79 
L 1010.57 351.14 
L 1005.87 350.5 
L 1009.52 349.85 
L 1001.6 349.2 
L 1001.51 348.55 
L 1002.97 347.9 
L 1005.4 347.26 
L 1006.63 346.61 
L 1007.19 345.96 
L 1441 345.7 
M 1441 344.27 
L 1003.86 344.02 
L 1001.79 343.37 
L 1008.05 342.72 
L 1006.12 342.07 
L 1001.79 341.42 
L 1008.64 340.78 
L 1001.78 340.13 
L 1001.47 339.48 
L 1002.68 338.83 
L 1006.17 338.18 
L 1020.74 337.54 
L 1007.81 336.89 
L 1001.84 336.24 
L 1002 335.59 
L 1001.96 334.3 
L 1003.01 333.65 
L 1018.73 333 
L 1004.93 332.35 
L 1002.56 331.7 
L 1011.84 331.06 
L 1003.92 330.41 
L 1001.32 329.76 
L 1001.44 329.11 
L 1003.86 328.46 
L 1001.9 327.82 
L 1002.23 327.17 
L 1002.73 326.52 
L 1162.88 325.87 
L 1010.04 325.22 
L 1001.49 324.58 
L 1009.67 323.93 
L 1003.05 323.28 
L 1002.42 322.63 
L 1002.32 321.98 
L 1002.65 321.34 
L 1041.12 320.69 
L 1002.86 320.04 
L 1007.39 319.39 
L 1002.56 318.74 
L 1023.23 318.1 
L 1019.02 317.45 
L 1006.18 316.8 
L 1001.28 316.15 
L 1003.87 315.5 
L 1441 315.25 
M 1441 314.47 
L 1001.72 314.21 
L 1002.53 313.56 
L 1001.85 312.91 
L 1001.48 312.26 
L 1003.56 311.62 
L 1001.44 310.97 
L 1003.23 310.32 
L 1003.34 309.67 
L 1060.58 309.02 
L 1060.58 308.38 
L 1001.28 307.73 
L 1001.84 307.08 
L 1004.83 306.43 
L 1003.04 305.78 
L 1001.84 305.14 
L 1001.88 303.84 
L 1009.57 303.19 
L 1002.77 302.54 
L 1004.02 301.9 
L 1003.99 301.25 
L 1005.84 300.6 
L 1003.36 299.95 
L 1002.8 299.3 
L 1005.32 298.66 
L 1002.49 298.01 
L 1020.13 297.36 
L 1021.02 296.71 
L 1441 296.46 
M 1441 294.98 
L 1122.85 294.77 
L 1122.85 294.12 
L 1002.77 293.47 
L 1001.85 292.82 
L 1001.76 292.18 
L 1008.14 291.53 
L 1016.44 290.88 
L 1003.16 290.23 
L 1014.01 289.58 
L 1003.31 288.94 
L 1003.18 288.29 
L 1002.22 287.64 
L 1003.96 286.99 
L 1002.83 286.34 
L 1007.86 285.7 
L 1011.21 285.05 
L 1005.32 284.4 
L 1003.09 283.75 
L 1002.7 283.1 
L 1012.95 282.46 
L 1004.96 281.81 
L 1004.45 281.16 
L 1001.19 280.51 
L 1015.21 279.86 
L 1002.55 279.22 
L 1003.5 278.57 
L 1001.79 277.92 
L 1012.3 277.27 
L 1008.27 276.62 
L 1002.86 275.98 
L 1006.47 275.33 
L 1020.5 274.68 
L 1024.66 274.03 
L 1001.55 273.38 
L 1001.46 272.74 
L 1002.59 272.09 
L 1003.41 271.44 
L 1014.46 270.79 
L 1001.76 270.14 
L 1065.59 269.5 
L 1011.66 268.85 
L 1001.75 267.55 
L 1003.05 266.9 
L 1007.34 266.26 
L 1016.08 265.61 
L 1003.63 264.96 
L 1002.31 264.31 
L 1009.93 263.66 
L 1003.56 263.02 
L 1002.41 262.37 
L 1008.88 261.07 
L 1002.17 260.42 
L 1009.79 259.78 
L 1021.66 259.13 
L 1001.83 258.48 
L 1001.54 257.83 
L 1008.2 257.18 
L 1041.12 256.54 
L 1006.05 255.89 
L 1002.61 255.24 
L 1001.4 254.59 
L 1001.62 253.94 
L 1003.26 253.3 
L 1005.7 252.65 
L 1009.22 252 
L 1071.7 251.35 
L 1003 250.7 
L 1005.32 250.06 
L 1005.07 249.41 
L 1006.22 248.76 
L 1005.75 248.11 
L 1003.67 247.46 
L 1005.87 246.82 
L 1003.15 246.17 
L 1006.2 245.52 
L 1441 245.26 
M 1441 244.48 
L 1001.58 244.22 
L 1006.67 243.58 
L 1001.76 242.93 
L 1005.56 241.63 
L 1004.48 240.98 
L 1013.55 240.34 
L 1013.64 239.69 
L 1002.2 239.04 
L 1003.49 238.39 
L 1005.68 237.74 
L 1014.24 237.1 
L 1002.08 236.45 
L 1001.3 235.8 
L 1009.12 235.15 
L 1004.62 234.5 
L 1003.15 233.86 
L 1009.27 233.21 
L 1013.81 232.56 
L 1002.73 231.91 
L 1003.01 231.26 
L 1441 231.01 
M 1441 230.22 
L 1002.8 229.97 
L 1003.13 229.32 
L 1002.08 228.67 
L 1007.15 228.02 
L 1009.29 227.38 
L 1008.97 226.73 
L 1006.89 226.08 
L 1003.46 225.43 
L 1001.93 224.78 
L 1001.24 224.14 
L 1002.27 223.49 
L 1006.7 222.84 
L 1003.86 222.19 
L 1006.05 221.54 
L 1001.53 220.9 
L 1005.83 220.25 
L 1051.69 219.6 
L 1001.28 218.95 
L 1001.66 218.3 
L 1007.56 217.66 
L 1002.78 217.01 
L 1002.47 216.36 
L 1010.62 215.71 
L 1008.22 215.06 
L 1015.67 214.42 
L 1002.14 213.77 
L 1004.05 213.12 
L 1001.53 212.47 
L 1003.51 211.82 
L 1441 211.57 
M 1441 210.12 
L 1050.57 209.88 
L 1050.57 208.58 
L 1002.31 207.94 
L 1002.7 207.29 
L 1009.38 206.64 
L 1019.84 205.99 
L 1004.41 205.34 
L 1002.1 204.7 
L 1007.55 204.05 
L 1002.04 203.4 
L 1006.05 202.75 
L 1012.03 202.1 
L 1026.54 201.46 
L 1001.37 200.81 
L 1001.58 200.16 
L 1008.58 199.51 
L 1001.79 198.86 
L 1004.11 198.22 
L 1002.66 197.57 
L 1004.04 196.92 
L 1004.33 196.27 
L 1026.82 195.62 
L 1003.46 194.98 
L 1005.61 194.33 
L 1001.86 193.68 
L 1019.95 193.03 
L 1001.29 192.38 
L 1006.33 191.74 
L 1002.91 191.09 
L 1004.99 190.44 
L 1060.05 189.79 
L 1012.01 189.14 
L 1009.64 188.5 
L 1006.79 187.2 
L 1005.78 186.55 
L 1001.26 185.9 
L 1003.28 185.26 
L 1021.73 184.61 
L 1001.44 183.96 
L 1005.14 183.31 
L 1017.45 182.66 
L 1013.08 182.02 
L 1032.21 181.37 
L 1038.56 180.72 
L 1004.25 180.07 
L 1001.67 179.42 
L 1006.82 178.78 
L 1021.96 178.13 
L 1004.32 177.48 
L 1044.76 176.83 
L 1001.94 176.18 
L 1008.15 175.54 
L 1002.46 174.89 
L 1003.56 174.24 
L 1009.63 173.59 
L 1003.51 172.94 
L 1040.13 172.3 
L 1001.99 171.65 
L 1001.35 171 
L 1010.7 170.35 
L 1009.51 169.7 
L 1024.37 169.06 
L 1069.54 168.41 
L 1002.06 167.76 
L 1001.33 167.11 
L 1013.05 165.82 
L 1002.1 165.17 
L 1441 164.91 
M 1441 164.13 
L 1003.52 163.87 
L 1003.37 162.58 
L 1025.48 161.93 
L 1001.41 161.28 
L 1002.03 160.63 
L 1002.08 159.98 
L 1002.89 159.34 
L 1002.81 158.69 
L 1007.97 158.04 
L 1006.78 157.39 
L 1005.15 156.74 
L 1002.72 156.1 
L 1043.32 155.45 
L 1003.34 154.8 
L 1002.71 154.15 
L 1007.57 153.5 
L 1441 153.25 
M 1441 152.46 
L 1005.33 152.21 
L 1002.72 151.56 
L 1002.9 150.91 
L 1019.19 150.26 
L 1005.04 149.62 
L 1005.6 148.97 
L 1006.66 148.32 
L 1003.96 147.67 
L 1002.36 147.02 
L 1006.53 146.38 
L 1004.41 145.73 
L 1012.12 145.08 
L 1002.73 144.43 
L 1001.78 143.78 
L 1007.21 143.14 
L 1001.19 142.49 
L 1001.76 141.84 
L 1037.66 141.19 
L 1005.07 140.54 
L 1002.15 139.9 
L 1001.3 139.25 
L 1023.84 138.6 
L 1006.19 137.95 
L 1016.92 137.3 
L 1002.42 136.66 
L 1002.4 136.01 
L 1005.25 135.36 
L 1006.28 134.71 
L 1002.31 134.06 
L 1001.58 133.42 
L 1002.14 132.77 
L 1002.14 132.12 
L 1003.57 131.47 
L 1001.9 130.82 
L 1001.44 130.18 
L 1012.31 129.53 
L 1013.63 128.88 
L 1087.57 128.23 
L 1005.34 127.58 
L 1001.85 126.94 
L 1023.54 126.29 
L 1003.82 125.64 
L 1005.55 124.99 
L 1012.11 124.34 
L 1002.15 123.7 
L 1001.32 123.05 
L 1002.51 121.75 
L 1002 121.1 
L 1003 120.46 
L 1003.04 119.81 
L 1010.99 119.16 
L 1011.09 118.51 
L 1003.09 117.86 
L 1002.68 117.22 
L 1008.32 116.57 
L 1005.18 115.92 
L 1008.41 115.27 
L 1003.01 114.62 
L 1001.26 113.98 
L 1002.36 113.33 
L 1001.93 112.68 
L 1004.4 112.03 
L 1004.14 111.38 
L 1001.58 110.74 
L 1006.53 110.09 
L 1015.27 109.44 
L 1002.96 108.79 
L 1003.27 107.5 
L 1004.99 106.85 
L 1003.4 106.2 
L 1024.93 105.55 
L 1004.46 104.9 
L 1066.37 104.26 
L 1006.15 103.61 
L 1001.88 102.31 
L 1004.8 101.66 
L 1008.69 101.02 
L 1003.24 100.37 
L 1057.9 99.07 
L 1001.38 98.42 
L 1092.28 97.78 
L 1036.26 97.13 
L 1001.56 96.48 
L 1002.45 95.83 
L 1004.74 95.18 
L 1024.31 94.54 
L 1011.75 93.89 
L 1004.57 93.24 
L 1001.34 92.59 
L 1003.1 91.94 
L 1008.76 91.3 
L 1441 91.04 
M 1441 89.58 
L 1070.59 89.35 
L 1070.59 88.7 
L 1005.5 88.06 
L 1005.5 88.06 
" clip-path="url(#pdd02288f97)" style="fill: none; stroke: #00ff00; stroke-width: 1.5; stroke-linecap: square"/>
</g>
<g id="line2d_244"/>
<g id="patch_24">
<path d="M 1001.19 862.92 
L 1001.19 88.78 
" style="fill: none; stroke: #000000; stroke-width: 0.9; stroke-linejoin: miter; stroke-linecap: square"/>
</g>
<g id="patch_25">
<path d="M 1166.57 862.92 
L 1166.57 88.78 
" style="fill: none; stroke: #000000; stroke-width: 0.9; stroke-linejoin: miter; stroke-linecap: square"/>
</g>
<g id="patch_26">
<path d="M 1001.19 862.92 
L 1166.57 862.92 
" style="fill: none; stroke: #000000; stroke-width: 0.9; stroke-linejoin: miter; stroke-linecap: square"/>
</g>
<g id="patch_27">
<path d="M 1001.19 88.78 
L 1166.57 88.78 
" style="fill: none; stroke: #000000; stroke-width: 0.9; stroke-linejoin: miter; stroke-linecap: square"/>
</g>
<g id="patch_28">
<path d="M 1072.01 289.87 
L 1140.91 289.87 
L 1140.91 237.17 
L 1072.01 237.17 
z
" clip-path="url(#pdd02288f97)" style="fill: #eff0f5; opacity: 0.8"/>
</g>
<g id="text_79">
<g transform="translate(1076.4 253.08)">
<text>
<tspan x="0" y="-0.83" style="font-style: oblique; font-size: 11px; font-family: 'DejaVu Sans'">η</tspan>
<tspan x="6.97" y="0.98" style="font-size: 7.7px; font-family: 'DejaVu Sans'">3</tspan>
<tspan x="11.87" y="0.98" style="font-size: 7.7px; font-family: 'DejaVu Sans'">5</tspan>
<tspan x="16.77" y="0.98" style="font-size: 7.7px; font-family: 'DejaVu Sans'">5</tspan>
<tspan x="21.97" y="-0.83" style="font-size: 11px; font-family: 'DejaVu Serif'">:</tspan>
<tspan x="25.68" y="-0.83" style="font-size: 11px; font-family: 'DejaVu Serif'"> </tspan>
<tspan x="29.17" y="-0.83" style="font-size: 11px; font-family: 'DejaVu Serif'">1</tspan>
<tspan x="36.17" y="-0.83" style="font-size: 11px; font-family: 'DejaVu Serif'">1</tspan>
<tspan x="43.17" y="-0.83" style="font-size: 11px; font-family: 'DejaVu Serif'">.</tspan>
<tspan x="46.42" y="-0.83" style="font-size: 11px; font-family: 'DejaVu Serif'">2</tspan>
<tspan x="53.16" y="-0.83" style="font-size: 11px; font-family: 'DejaVu Serif'">9</tspan>
</text>
</g>
</g>
<g id="text_80">
<g transform="translate(1076.4 268.38)">
<text>
<tspan x="0" y="-0.83" style="font-style: oblique; font-size: 11px; font-family: 'DejaVu Sans'">η</tspan>
<tspan x="6.97" y="0.98" style="font-size: 7.7px; font-family: 'DejaVu Sans'">5</tspan>
<tspan x="11.87" y="0.98" style="font-size: 7.7px; font-family: 'DejaVu Sans'">3</tspan>
<tspan x="16.77" y="0.98" style="font-size: 7.7px; font-family: 'DejaVu Sans'">2</tspan>
<tspan x="21.97" y="-0.83" style="font-size: 11px; font-family: 'DejaVu Serif'">:</tspan>
<tspan x="25.68" y="-0.83" style="font-size: 11px; font-family: 'DejaVu Serif'"> </tspan>
<tspan x="29.17" y="-0.83" style="font-size: 11px; font-family: 'DejaVu Serif'">6</tspan>
<tspan x="36.17" y="-0.83" style="font-size: 11px; font-family: 'DejaVu Serif'">.</tspan>
<tspan x="39.67" y="-0.83" style="font-size: 11px; font-family: 'DejaVu Serif'">9</tspan>
<tspan x="46.67" y="-0.83" style="font-size: 11px; font-family: 'DejaVu Serif'">9</tspan>
</text>
</g>
</g>
<g id="text_81">
<g transform="translate(1076.4 282.46)">
<text>
<tspan x="0" y="-0.84" style="font-style: oblique; font-size: 11px; font-family: 'DejaVu Sans'">η</tspan>
<tspan x="6.97" y="0.96" style="font-size: 7.7px; font-family: 'DejaVu Sans'">1</tspan>
<tspan x="11.87" y="0.96" style="font-size: 7.7px; font-family: 'DejaVu Sans'">0</tspan>
<tspan x="16.77" y="0.96" style="font-size: 7.7px; font-family: 'DejaVu Sans'">6</tspan>
<tspan x="21.67" y="0.96" style="font-size: 7.7px; font-family: 'DejaVu Sans'">4</tspan>
<tspan x="26.87" y="-0.84" style="font-size: 11px; font-family: 'DejaVu Serif'">:</tspan>
<tspan x="30.57" y="-0.84" style="font-size: 11px; font-family: 'DejaVu Serif'"> </tspan>
<tspan x="34.07" y="-0.84" style="font-size: 11px; font-family: 'DejaVu Serif'">n</tspan>
<tspan x="41.16" y="-0.84" style="font-size: 11px; font-family: 'DejaVu Serif'">a</tspan>
<tspan x="47.71" y="-0.84" style="font-size: 11px; font-family: 'DejaVu Serif'">n</tspan>
</text>
</g>
</g>
</g>
<g id="axes_6">
<g id="patch_29">
<path d="M 1225.66 862.92 
L 1391.04 862.92 
L 1391.04 88.78 
L 1225.66 88.78 
z
" style="fill: #ffffff"/>
</g>
<g id="matplotlib.axis_11">
<g id="xtick_20">
<g id="line2d_245">
<path d="M 1225.66 862.92 
L 1225.66 88.78 
" clip-path="url(#p34c1b680ac)" style="fill: none; stroke: #b0b0b0; stroke-width: 0.8; stroke-linecap: square"/>
</g>
<g id="line2d_246">
<g>
<path d="M 0 0 L 0 4.4" transform="translate(1225.66 862.92)" style="stroke: #000000; stroke-width: 1.45"/>
</g>
</g>
<g id="text_82">
<text style="font-size: 12px; font-family: 'DejaVu Serif', serif; text-anchor: middle" x="1225.66" y="878.34" transform="rotate(-0 1225.66 878.34)">0</text>
</g>
</g>
<g id="xtick_21">
<g id="line2d_247">
<path d="M 1291.81 862.92 
L 1291.81 88.78 
" clip-path="url(#p34c1b680ac)" style="fill: none; stroke: #b0b0b0; stroke-width: 0.8; stroke-linecap: square"/>
</g>
<g id="line2d_248">
<g>
<path d="M 0 0 L 0 4.4" transform="translate(1291.81 862.92)" style="stroke: #000000; stroke-width: 1.45"/>
</g>
</g>
<g id="text_83">
<text style="font-size: 12px; font-family: 'DejaVu Serif', serif; text-anchor: middle" x="1291.81" y="878.34" transform="rotate(-0 1291.81 878.34)">20</text>
</g>
</g>
<g id="xtick_22">
<g id="line2d_249">
<path d="M 1357.96 862.92 
L 1357.96 88.78 
" clip-path="url(#p34c1b680ac)" style="fill: none; stroke: #b0b0b0; stroke-width: 0.8; stroke-linecap: square"/>
</g>
<g id="line2d_250">
<g>
<path d="M 0 0 L 0 4.4" transform="translate(1357.96 862.92)" style="stroke: #000000; stroke-width: 1.45"/>
</g>
</g>
<g id="text_84">
<text style="font-size: 12px; font-family: 'DejaVu Serif', serif; text-anchor: middle" x="1357.96" y="878.34" transform="rotate(-0 1357.96 878.34)">40</text>
</g>
</g>
<g id="text_85">
<g transform="translate(1247.36 898.64)">
<text>
<tspan x="0" y="-0.5" style="font-size: 14.4px; font-family: 'DejaVu Serif'">W</tspan>
<tspan x="14.78" y="-0.5" style="font-size: 14.4px; font-family: 'DejaVu Serif'">V</tspan>
<tspan x="25.16" y="-0.5" style="font-size: 14.4px; font-family: 'DejaVu Serif'">M</tspan>
<tspan x="39.88" y="-0.5" style="font-size: 14.4px; font-family: 'DejaVu Serif'">R</tspan>
<tspan x="50.7" y="-0.5" style="font-size: 14.4px; font-family: 'DejaVu Serif'"> </tspan>
<tspan x="55.27" y="-0.5" style="font-size: 14.4px; font-family: 'DejaVu Serif'">[</tspan>
<tspan x="116.11" y="-0.5" style="font-size: 14.4px; font-family: 'DejaVu Serif'">]</tspan>
<tspan x="60.88" y="-0.5" style="font-style: oblique; font-size: 14.4px; font-family: 'DejaVu Sans'">g</tspan>
<tspan x="82.79" y="-0.5" style="font-style: oblique; font-size: 14.4px; font-family: 'DejaVu Sans'">k</tspan>
<tspan x="91.11" y="-0.5" style="font-style: oblique; font-size: 14.4px; font-family: 'DejaVu Sans'">g</tspan>
<tspan x="72.8" y="-0.5" style="font-size: 14.4px; font-family: 'DejaVu Sans'">*</tspan>
<tspan x="100.89" y="-5.86" style="font-size: 10.08px; font-family: 'DejaVu Sans'">−</tspan>
<tspan x="109.32" y="-5.86" style="font-size: 10.08px; font-family: 'DejaVu Sans'">1</tspan>
</text>
</g>
</g>
</g>
<g id="matplotlib.axis_12">
<g id="ytick_51">
<g id="line2d_251">
<path d="M 1225.66 862.92 
L 1391.04 862.92 
" clip-path="url(#p34c1b680ac)" style="fill: none; stroke: #b0b0b0; stroke-width: 0.8; stroke-linecap: square"/>
</g>
<g id="line2d_252">
<g>
<path d="M 0 0 L -4.4 0" transform="translate(1225.66 862.92)" style="stroke: #000000; stroke-width: 1.45"/>
</g>
</g>
<g id="line2d_253">
<g>
<path d="M 0 0 L 4.4 0" transform="translate(1391.04 862.92)" style="stroke: #000000; stroke-width: 1.45"/>
</g>
</g>
<g id="text_86">
<text style="font-size: 12px; font-family: 'DejaVu Serif', serif; text-anchor: end" x="1218.62" y="867.48" transform="rotate(-0 1218.62 867.48)">0</text>
</g>
</g>
<g id="ytick_52">
<g id="line2d_254">
<path d="M 1225.66 776.9 
L 1391.04 776.9 
" clip-path="url(#p34c1b680ac)" style="fill: none; stroke: #b0b0b0; stroke-width: 0.8; stroke-linecap: square"/>
</g>
<g id="line2d_255">
<g>
<path d="M 0 0 L -4.4 0" transform="translate(1225.66 776.9)" style="stroke: #000000; stroke-width: 1.45"/>
</g>
</g>
<g id="line2d_256">
<g>
<path d="M 0 0 L 4.4 0" transform="translate(1391.04 776.9)" style="stroke: #000000; stroke-width: 1.45"/>
</g>
</g>
<g id="text_87">
<text style="font-size: 12px; font-family: 'DejaVu Serif', serif; text-anchor: end" x="1218.62" y="781.46" transform="rotate(-0 1218.62 781.46)">2</text>
</g>
</g>
<g id="ytick_53">
<g id="line2d_257">
<path d="M 1225.66 690.89 
L 1391.04 690.89 
" clip-path="url(#p34c1b680ac)" style="fill: none; stroke: #b0b0b0; stroke-width: 0.8; stroke-linecap: square"/>
</g>
<g id="line2d_258">
<g>
<path d="M 0 0 L -4.4 0" transform="translate(1225.66 690.89)" style="stroke: #000000; stroke-width: 1.45"/>
</g>
</g>
<g id="line2d_259">
<g>
<path d="M 0 0 L 4.4 0" transform="translate(1391.04 690.89)" style="stroke: #000000; stroke-width: 1.45"/>
</g>
</g>
<g id="text_88">
<text style="font-size: 12px; font-family: 'DejaVu Serif', serif; text-anchor: end" x="1218.62" y="695.45" transform="rotate(-0 1218.62 695.45)">4</text>
</g>
</g>
<g id="ytick_54">
<g id="line2d_260">
<path d="M 1225.66 604.87 
L 1391.04 604.87 
" clip-path="url(#p34c1b680ac)" style="fill: none; stroke: #b0b0b0; stroke-width: 0.8; stroke-linecap: square"/>
</g>
<g id="line2d_261">
<g>
<path d="M 0 0 L -4.4 0" transform="translate(1225.66 604.87)" style="stroke: #000000; stroke-width: 1.45"/>
</g>
</g>
<g id="line2d_262">
<g>
<path d="M 0 0 L 4.4 0" transform="translate(1391.04 604.87)" style="stroke: #000000; stroke-width: 1.45"/>
</g>
</g>
<g id="text_89">
<text style="font-size: 12px; font-family: 'DejaVu Serif', serif; text-anchor: end" x="1218.62" y="609.43" transform="rotate(-0 1218.62 609.43)">6</text>
</g>
</g>
<g id="ytick_55">
<g id="line2d_263">
<path d="M 1225.66 518.86 
L 1391.04 518.86 
" clip-path="url(#p34c1b680ac)" style="fill: none; stroke: #b0b0b0; stroke-width: 0.8; stroke-linecap: square"/>
</g>
<g id="line2d_264">
<g>
<path d="M 0 0 L -4.4 0" transform="translate(1225.66 518.86)" style="stroke: #000000; stroke-width: 1.45"/>
</g>
</g>
<g id="line2d_265">
<g>
<path d="M 0 0 L 4.4 0" transform="translate(1391.04 518.86)" style="stroke: #000000; stroke-width: 1.45"/>
</g>
</g>
<g id="text_90">
<text style="font-size: 12px; font-family: 'DejaVu Serif', serif; text-anchor: end" x="1218.62" y="523.42" transform="rotate(-0 1218.62 523.42)">8</text>
</g>
</g>
<g id="ytick_56">
<g id="line2d_266">
<path d="M 1225.66 432.84 
L 1391.04 432.84 
" clip-path="url(#p34c1b680ac)" style="fill: none; stroke: #b0b0b0; stroke-width: 0.8; stroke-linecap: square"/>
</g>
<g id="line2d_267">
<g>
<path d="M 0 0 L -4.4 0" transform="translate(1225.66 432.84)" style="stroke: #000000; stroke-width: 1.45"/>
</g>
</g>
<g id="line2d_268">
<g>
<path d="M 0 0 L 4.4 0" transform="translate(1391.04 432.84)" style="stroke: #000000; stroke-width: 1.45"/>
</g>
</g>
<g id="text_91">
<text style="font-size: 12px; font-family: 'DejaVu Serif', serif; text-anchor: end" x="1218.62" y="437.4" transform="rotate(-0 1218.62 437.4)">10</text>
</g>
</g>
<g id="ytick_57">
<g id="line2d_269">
<path d="M 1225.66 346.82 
L 1391.04 346.82 
" clip-path="url(#p34c1b680ac)" style="fill: none; stroke: #b0b0b0; stroke-width: 0.8; stroke-linecap: square"/>
</g>
<g id="line2d_270">
<g>
<path d="M 0 0 L -4.4 0" transform="translate(1225.66 346.82)" style="stroke: #000000; stroke-width: 1.45"/>
</g>
</g>
<g id="line2d_271">
<g>
<path d="M 0 0 L 4.4 0" transform="translate(1391.04 346.82)" style="stroke: #000000; stroke-width: 1.45"/>
</g>
</g>
<g id="text_92">
<text style="font-size: 12px; font-family: 'DejaVu Serif', serif; text-anchor: end" x="1218.62" y="351.38" transform="rotate(-0 1218.62 351.38)">12</text>
</g>
</g>
<g id="ytick_58">
<g id="line2d_272">
<path d="M 1225.66 260.81 
L 1391.04 260.81 
" clip-path="url(#p34c1b680ac)" style="fill: none; stroke: #b0b0b0; stroke-width: 0.8; stroke-linecap: square"/>
</g>
<g id="line2d_273">
<g>
<path d="M 0 0 L -4.4 0" transform="translate(1225.66 260.81)" style="stroke: #000000; stroke-width: 1.45"/>
</g>
</g>
<g id="line2d_274">
<g>
<path d="M 0 0 L 4.4 0" transform="translate(1391.04 260.81)" style="stroke: #000000; stroke-width: 1.45"/>
</g>
</g>
<g id="text_93">
<text style="font-size: 12px; font-family: 'DejaVu Serif', serif; text-anchor: end" x="1218.62" y="265.37" transform="rotate(-0 1218.62 265.37)">14</text>
</g>
</g>
<g id="ytick_59">
<g id="line2d_275">
<path d="M 1225.66 174.79 
L 1391.04 174.79 
" clip-path="url(#p34c1b680ac)" style="fill: none; stroke: #b0b0b0; stroke-width: 0.8; stroke-linecap: square"/>
</g>
<g id="line2d_276">
<g>
<path d="M 0 0 L -4.4 0" transform="translate(1225.66 174.79)" style="stroke: #000000; stroke-width: 1.45"/>
</g>
</g>
<g id="line2d_277">
<g>
<path d="M 0 0 L 4.4 0" transform="translate(1391.04 174.79)" style="stroke: #000000; stroke-width: 1.45"/>
</g>
</g>
<g id="text_94">
<text style="font-size: 12px; font-family: 'DejaVu Serif', serif; text-anchor: end" x="1218.62" y="179.35" transform="rotate(-0 1218.62 179.35)">16</text>
</g>
</g>
<g id="ytick_60">
<g id="line2d_278">
<path d="M 1225.66 88.78 
L 1391.04 88.78 
" clip-path="url(#p34c1b680ac)" style="fill: none; stroke: #b0b0b0; stroke-width: 0.8; stroke-linecap: square"/>
</g>
<g id="line2d_279">
<g>
<path d="M 0 0 L -4.4 0" transform="translate(1225.66 88.78)" style="stroke: #000000; stroke-width: 1.45"/>
</g>
</g>
<g id="line2d_280">
<g>
<path d="M 0 0 L 4.4 0" transform="translate(1391.04 88.78)" style="stroke: #000000; stroke-width: 1.45"/>
</g>
</g>
<g id="text_95">
<text style="font-size: 12px; font-family: 'DejaVu Serif', serif; text-anchor: end" x="1218.62" y="93.34" transform="rotate(-0 1218.62 93.34)">18</text>
</g>
</g>
</g>
<g id="line2d_281">
<path d="M 1231.94 860.7 
L 1231.6 853.82 
L 1232.28 848.65 
L 1231.42 841.77 
L 1232.28 831.45 
L 1231.25 822.85 
L 1230.56 815.97 
L 1227.12 813.38 
L 1226.61 805.64 
L 1226.78 797.04 
L 1226.61 788.44 
L 1226.78 779.84 
M 1226.19 779.84 
L 1226.25 779.19 
L 1226.16 778.55 
M 1226.01 777.26 
L 1226.44 776.61 
M 1226.11 774.03 
L 1225.78 773.39 
L 1226.03 772.74 
M 1225.95 758.55 
L 1226.2 757.9 
L 1225.84 756.61 
L 1225.94 755.97 
M 1226.11 754.03 
L 1226 752.74 
L 1226.36 752.1 
M 1226.16 734.68 
L 1225.94 734.03 
M 1226.17 728.87 
L 1226.07 728.23 
M 1226.03 726.94 
L 1225.96 726.29 
M 1226.38 709.52 
L 1226.28 708.87 
L 1225.97 708.23 
L 1226.15 707.58 
L 1225.95 706.94 
L 1225.96 706.29 
L 1226.08 705.65 
M 1225.94 699.2 
L 1226.01 698.55 
L 1225.87 697.91 
M 1226.24 690.81 
L 1226.21 690.16 
M 1226.3 686.94 
L 1225.9 686.29 
L 1226.17 685.65 
M 1225.98 675.33 
L 1226.19 674.68 
L 1226.21 674.04 
M 1226.04 655.33 
L 1226.04 654.68 
L 1226.26 654.04 
M 1225.89 627.59 
L 1225.99 626.94 
M 1226.11 610.82 
L 1226.17 610.17 
M 1226.33 591.46 
L 1225.97 590.82 
M 1226.19 588.24 
L 1226.16 587.59 
M 1226.24 583.72 
L 1226.03 583.07 
M 1226.12 581.78 
L 1225.84 581.14 
L 1226.13 580.49 
M 1226.08 579.2 
L 1226.2 578.56 
M 1226.23 570.17 
L 1226.17 569.53 
L 1226.24 568.88 
M 1225.93 563.72 
L 1225.84 563.08 
M 1225.82 561.79 
L 1226.29 561.14 
L 1226.09 560.5 
M 1225.95 559.21 
L 1225.86 558.56 
L 1226.16 557.92 
L 1226.15 557.27 
M 1226.12 552.75 
L 1225.67 552.11 
M 1226.01 548.88 
L 1225.75 548.24 
M 1226.01 537.92 
L 1225.91 537.27 
M 1226.04 535.98 
L 1226.24 534.69 
M 1225.98 530.18 
L 1225.95 529.53 
M 1226 521.79 
L 1226.08 521.14 
M 1226.19 511.47 
L 1226.31 510.82 
M 1225.72 499.85 
L 1226.14 499.21 
M 1225.94 495.34 
L 1226.47 494.69 
L 1226.08 494.05 
L 1225.99 493.4 
M 1226.01 491.47 
L 1225.99 490.82 
M 1226.22 489.53 
L 1225.8 488.89 
M 1226.08 483.08 
L 1226.16 482.44 
M 1225.98 459.21 
L 1226.05 458.57 
L 1226.28 457.92 
M 1225.76 448.24 
L 1225.95 447.6 
M 1225.7 441.79 
L 1225.85 441.15 
M 1226.22 438.57 
L 1226.22 437.92 
L 1225.82 437.28 
M 1227.6 103.89 
L 1229.76 103.63 
M 1228.68 107.24 
L 1231.92 106.98 
M 1231.16 119.12 
L 1231.7 118.86 
M 1236.78 126.9 
L 1255.68 126.64 
M 1228.68 128.84 
L 1233.54 128.58 
M 1228.68 137.16 
L 1245.42 136.9 
M 1227.6 142.02 
L 1229.76 141.76 
M 1230.84 150.65 
L 1234.62 150.4 
M 1227.6 156.38 
L 1229.76 156.12 
M 1226.52 174.74 
L 1233.54 174.48 
M 1229.22 179.81 
L 1237.32 179.56 
M 1229.51 179.58 
L 1237.55 179.32 
M 1227.39 191.86 
L 1233.74 191.6 
M 1227.39 194.4 
L 1229.51 194.14 
M 1232.68 200.33 
L 1243.91 200.07 
M 1230.56 218.12 
L 1237.55 217.86 
M 1227.81 225.11 
L 1231.62 224.85 
M 1228.45 231.46 
L 1237.55 231.2 
M 1228.45 235.69 
L 1234.8 235.44 
M 1228.45 243.53 
L 1241.58 243.27 
M 1229.51 250.94 
L 1231.2 250.68 
M 1227.39 256.87 
L 1233.74 256.61 
M 1227.39 264.28 
L 1231.62 264.02 
M 1227.39 268.94 
L 1232.05 268.68 
M 1227.39 270.21 
L 1231.62 269.95 
M 1230.56 273.81 
L 1237.55 273.55 
M 1227.39 282.28 
L 1234.8 282.02 
M 1228.45 283.76 
L 1233.74 283.51 
M 1227.39 285.46 
L 1232.68 285.2 
M 1228.45 289.69 
L 1231.62 289.44 
M 1226.33 296.05 
L 1228.45 295.79 
M 1227.39 299.22 
L 1231.2 298.97 
M 1226.96 310.87 
L 1228.45 310.61 
M 1226.33 325.69 
L 1227.39 325.44 
M 1227.81 334.16 
L 1228.66 333.91 
M 1226.33 341.58 
L 1228.45 341.32 
M 1226.33 344.75 
L 1227.81 344.49 
M 1226.33 347.93 
L 1228.45 347.67 
M 1228.66 363.81 
L 1229.51 363.55 
M 1226.33 379.69 
L 1229.51 379.44 
M 1226.33 382.87 
L 1228.45 382.61 
M 1226.33 387.11 
L 1229.51 386.85 
M 1226.33 399.81 
L 1227.39 399.55 
M 1226.33 405.11 
L 1227.39 404.85 
M 1226.33 416.75 
L 1228.45 416.49 
M 1226.33 423.11 
L 1228.45 422.85 
L 1228.45 422.85 
" clip-path="url(#p34c1b680ac)" style="fill: none; stroke: #0000ff; stroke-width: 1.5; stroke-linecap: square"/>
</g>
<g id="line2d_282"/>
<g id="patch_30">
<path d="M 1225.66 862.92 
L 1225.66 88.78 
" style="fill: none; stroke: #000000; stroke-width: 0.9; stroke-linejoin: miter; stroke-linecap: square"/>
</g>
<g id="patch_31">
<path d="M 1391.04 862.92 
L 1391.04 88.78 
" style="fill: none; stroke: #000000; stroke-width: 0.9; stroke-linejoin: miter; stroke-linecap: square"/>
</g>
<g id="patch_32">
<path d="M 1225.66 862.92 
L 1391.04 862.92 
" style="fill: none; stroke: #000000; stroke-width: 0.9; stroke-linejoin: miter; stroke-linecap: square"/>
</g>
<g id="patch_33">
<path d="M 1225.66 88.78 
L 1391.04 88.78 
" style="fill: none; stroke: #000000; stroke-width: 0.9; stroke-linejoin: miter; stroke-linecap: square"/>
</g>
</g>
<g id="axes_7">
<g id="matplotlib.axis_13">
<g id="xtick_23">
<g id="line2d_283">
<g>
<path d="M 0 0 L 0 -4.4" transform="translate(1225.66 88.78)" style="stroke: #000000; stroke-width: 1.45"/>
</g>
</g>
<g id="text_96">
<text style="font-size: 12px; font-family: 'DejaVu Serif', serif; text-anchor: middle" x="1225.66" y="79.08" transform="rotate(-0 1225.66 79.08)">0</text>
</g>
</g>
<g id="xtick_24">
<g id="line2d_284">
<g>
<path d="M 0 0 L 0 -4.4" transform="translate(1267 88.78)" style="stroke: #000000; stroke-width: 1.45"/>
</g>
</g>
<g id="text_97">
<text style="font-size: 12px; font-family: 'DejaVu Serif', serif; text-anchor: middle" x="1267" y="79.08" transform="rotate(-0 1267 79.08)">25</text>
</g>
</g>
<g id="xtick_25">
<g id="line2d_285">
<g>
<path d="M 0 0 L 0 -4.4" transform="translate(1308.35 88.78)" style="stroke: #000000; stroke-width: 1.45"/>
</g>
</g>
<g id="text_98">
<text style="font-size: 12px; font-family: 'DejaVu Serif', serif; text-anchor: middle" x="1308.35" y="79.08" transform="rotate(-0 1308.35 79.08)">50</text>
</g>
</g>
<g id="xtick_26">
<g id="line2d_286">
<g>
<path d="M 0 0 L 0 -4.4" transform="translate(1349.69 88.78)" style="stroke: #000000; stroke-width: 1.45"/>
</g>
</g>
<g id="text_99">
<text style="font-size: 12px; font-family: 'DejaVu Serif', serif; text-anchor: middle" x="1349.69" y="79.08" transform="rotate(-0 1349.69 79.08)">75</text>
</g>
</g>
<g id="xtick_27">
<g id="line2d_287">
<g>
<path d="M 0 0 L 0 -4.4" transform="translate(1391.04 88.78)" style="stroke: #000000; stroke-width: 1.45"/>
</g>
</g>
<g id="text_100">
<text style="font-size: 12px; font-family: 'DejaVu Serif', serif; text-anchor: middle" x="1391.04" y="79.08" transform="rotate(-0 1391.04 79.08)">100</text>
</g>
</g>
<g id="text_101">
<text style="font-size: 14.4px; font-family: 'DejaVu Serif', serif; text-anchor: middle" x="1308.35" y="67.16" transform="rotate(-0 1308.35 67.16)">Rel.Humidity [%]</text>
</g>
</g>
<g id="line2d_288">
<path d="M 1246.91 861.04 
L 1248.63 857.26 
L 1247.77 853.82 
L 1250.35 850.37 
L 1245.19 846.93 
L 1246.91 844.35 
L 1252.93 841.77 
L 1248.63 838.33 
L 1247.77 834.89 
L 1252.93 831.45 
L 1251.21 828.01 
L 1250.35 824.57 
L 1247.77 819.41 
L 1244.33 815.97 
L 1230.56 813.9 
L 1229.19 805.64 
L 1227.47 803.06 
L 1226.78 798.76 
L 1227.12 788.44 
L 1226.78 771.23 
L 1227.12 754.03 
L 1226.78 736.83 
L 1227.47 719.62 
L 1226.78 685.21 
L 1228.71 685.21 
L 1228.31 684.78 
L 1227 684.35 
L 1227.93 683.92 
L 1226.83 683.49 
L 1228.09 683.06 
L 1226.91 682.63 
L 1226.85 682.2 
L 1227.62 681.77 
L 1227.27 681.34 
L 1229.1 680.91 
L 1228.36 680.48 
L 1227.07 680.05 
L 1227.84 679.62 
L 1229.08 679.19 
L 1229.66 678.76 
L 1226.86 678.33 
L 1227.88 677.9 
L 1227.47 677.47 
L 1228.59 677.04 
L 1227.66 676.61 
L 1229.68 676.18 
L 1228.69 675.75 
L 1226.83 675.32 
L 1227.02 674.89 
L 1229.68 674.46 
L 1226.99 674.03 
L 1228.97 673.6 
L 1228.12 673.17 
L 1230.28 672.74 
L 1226.99 672.31 
L 1227.91 671.88 
L 1227.49 671.45 
L 1227.95 671.02 
L 1227.39 670.59 
L 1230.13 670.16 
L 1227.75 669.73 
L 1228.7 669.3 
L 1228.52 668.87 
L 1229.36 668.44 
L 1229.9 668.01 
L 1227.19 667.58 
L 1227.64 667.15 
L 1227.84 666.29 
L 1228.6 665.86 
L 1229.88 665.43 
L 1228.34 665 
L 1229.93 664.57 
L 1228.47 664.14 
L 1230.77 663.71 
L 1227.42 663.28 
L 1226.9 662.85 
L 1227.8 662.42 
L 1229.24 661.99 
L 1229.55 661.56 
L 1230.01 661.13 
L 1228.33 660.7 
L 1229.39 660.27 
L 1227.56 659.84 
L 1229.85 659.41 
L 1226.97 658.98 
L 1230.84 658.55 
L 1229.89 658.12 
L 1229.85 657.69 
L 1228.97 657.26 
L 1231.2 656.83 
L 1230.42 656.4 
L 1228.62 655.97 
L 1230.18 655.54 
L 1226.98 655.11 
L 1228.74 654.68 
L 1229.45 653.82 
L 1229.44 653.39 
L 1226.92 652.96 
L 1228.08 652.53 
L 1229.87 652.1 
L 1228.89 651.67 
L 1231.69 651.24 
L 1230.83 650.81 
L 1231.65 650.38 
L 1229.93 649.95 
L 1226.89 649.52 
L 1229.01 649.09 
L 1227.98 648.66 
L 1229.7 648.23 
L 1226.89 647.8 
L 1229.03 647.37 
L 1227.8 646.51 
L 1229.01 646.08 
L 1227.65 645.65 
L 1226.98 645.22 
L 1226.98 644.79 
L 1231.72 644.36 
L 1227.66 643.93 
L 1227.95 643.5 
L 1227.95 643.07 
L 1227.58 642.63 
L 1231.49 642.2 
L 1230.64 641.77 
L 1228.56 641.34 
L 1230.98 640.91 
L 1228.74 640.48 
L 1228.02 640.05 
L 1227.79 639.62 
L 1231.83 638.76 
L 1230.42 638.33 
L 1227.28 637.9 
L 1226.99 637.47 
L 1228.42 637.04 
L 1227.07 636.61 
L 1226.83 636.18 
L 1226.86 635.75 
L 1228.21 635.32 
L 1226.81 634.89 
L 1230.19 634.46 
L 1228.15 634.03 
L 1229.2 633.6 
L 1232.33 633.17 
L 1230.93 632.74 
L 1230.98 632.31 
L 1227.68 631.88 
L 1228.09 631.45 
L 1228.18 631.02 
L 1228.09 630.59 
L 1230.8 630.16 
L 1230.32 629.73 
L 1228.29 629.3 
L 1231.64 628.44 
L 1226.83 627.58 
L 1228.81 626.72 
L 1230.66 626.29 
L 1227.24 625.86 
L 1227.28 625.43 
L 1227 625 
L 1227.27 624.57 
L 1231.94 624.14 
L 1230.58 623.71 
L 1228.17 623.28 
L 1231.87 622.85 
L 1228.32 622.42 
L 1230.6 621.99 
L 1231.21 621.56 
L 1230.14 621.13 
L 1230.25 620.7 
L 1231.98 620.27 
L 1228.82 619.84 
L 1226.84 619.41 
L 1227.61 618.98 
L 1227.53 618.55 
L 1231.34 618.12 
L 1228.14 617.69 
L 1232.59 617.26 
L 1233.2 616.83 
L 1228.35 616.4 
L 1227.65 615.97 
L 1227.75 615.54 
L 1234.76 615.11 
L 1230.49 614.68 
L 1232.56 614.25 
L 1230.51 613.82 
L 1230.63 613.39 
L 1226.82 612.96 
L 1227.34 612.53 
L 1233.2 612.1 
L 1231.2 611.67 
L 1230.9 611.24 
L 1227.32 610.81 
L 1230.59 610.38 
L 1232.15 609.95 
L 1226.83 609.52 
L 1227.04 609.09 
L 1230.86 608.66 
L 1230.27 608.23 
L 1228.28 607.8 
L 1235.89 606.94 
L 1233.66 606.51 
L 1235.19 606.08 
L 1227.32 605.65 
L 1229.69 605.22 
L 1230.81 604.79 
L 1233.85 604.36 
L 1234.83 603.93 
L 1227.29 603.5 
L 1228.52 603.07 
L 1226.83 602.21 
L 1231.45 601.78 
L 1230.59 601.35 
L 1228.67 600.92 
L 1228.01 600.49 
L 1226.91 600.06 
L 1233.63 598.77 
L 1236.97 598.34 
L 1230.45 597.91 
L 1229.61 597.48 
L 1237.49 597.05 
L 1237.02 596.62 
L 1235 596.19 
L 1229.34 595.76 
L 1226.85 595.33 
L 1226.84 594.9 
L 1229.71 594.47 
L 1234.47 594.04 
L 1226.83 593.18 
L 1234.29 592.75 
L 1227.02 592.32 
M 1378.59 436.24 
L 1391.29 435.89 
M 1366.73 459.11 
L 1391.29 458.76 
M 1332.85 459.95 
L 1370.96 459.61 
M 1323.53 463 
L 1391.29 462.66 
M 1309.13 471.47 
L 1330.64 471.13 
M 1284.23 476.39 
L 1391.29 476.04 
M 1295.58 479.94 
L 1316.41 479.6 
M 1265.08 484.01 
L 1384.52 483.67 
M 1269.32 485.03 
L 1330.31 484.68 
M 1323.53 492.99 
L 1387.06 492.64 
M 1249.84 495.87 
L 1265.08 495.52 
M 1248.14 502.31 
L 1251.53 501.96 
M 1247.29 504.85 
L 1304.05 504.5 
M 1270.16 509.08 
L 1316.41 508.74 
M 1258.31 512.47 
L 1271.01 512.13 
M 1244.75 513.83 
L 1265.08 513.48 
M 1243.06 516.71 
L 1271.01 516.36 
M 1243.06 519.25 
L 1265.08 518.9 
M 1240.52 520.6 
L 1247.29 520.26 
M 1243.91 522.97 
L 1281.18 522.63 
M 1242.21 528.9 
L 1258.31 528.56 
M 1233.74 534.49 
L 1239.67 534.15 
M 1238.82 537.04 
L 1260 536.69 
M 1235.44 543.81 
L 1244.75 543.47 
M 1240.52 545 
L 1258.31 544.65 
M 1232.05 551.94 
L 1248.99 551.6 
M 1232.05 558.21 
L 1240.52 557.87 
M 1242.21 560.41 
L 1252.04 560.07 
M 1231.2 562.45 
L 1244.75 562.1 
M 1231.2 564.99 
L 1238.82 564.64 
M 1231.2 568.38 
L 1236.28 568.03 
M 1230.35 570.92 
L 1234.59 570.57 
M 1229.51 575.15 
L 1243.91 574.81 
M 1229 581.08 
L 1236.28 580.74 
M 1228.66 584.47 
L 1235.44 584.13 
M 1228.32 587.01 
L 1237.13 586.67 
M 1227.81 591.25 
L 1237.98 590.9 
M 1228.32 593.79 
L 1236.79 593.44 
M 1227.81 597.18 
L 1233.74 596.83 
M 1227.3 600.56 
L 1235.44 600.22 
M 1227.81 603.95 
L 1237.98 603.61 
M 1227.3 607.34 
L 1234.59 607 
M 1226.96 610.73 
L 1232.89 610.39 
M 1227.3 614.12 
L 1233.74 613.77 
M 1226.96 617.51 
L 1232.05 617.16 
M 1226.96 620.89 
L 1231.2 620.55 
M 1227.3 626.82 
L 1235.1 626.48 
M 1226.96 631.06 
L 1232.05 630.71 
M 1226.63 636.14 
L 1231.2 635.8 
M 1226.96 641.22 
L 1231.71 640.88 
M 1226.63 645.46 
L 1230.35 645.11 
L 1230.35 645.11 
" clip-path="url(#p34c1b680ac)" style="fill: none; stroke: #008000; stroke-width: 1.5; stroke-linecap: square"/>
</g>
<g id="patch_34">
<path d="M 1225.66 862.92 
L 1225.66 88.78 
" style="fill: none; stroke: #000000; stroke-width: 0.9; stroke-linejoin: miter; stroke-linecap: square"/>
</g>
<g id="patch_35">
<path d="M 1391.04 862.92 
L 1391.04 88.78 
" style="fill: none; stroke: #000000; stroke-width: 0.9; stroke-linejoin: miter; stroke-linecap: square"/>
</g>
<g id="patch_36">
<path d="M 1225.66 862.92 
L 1391.04 862.92 
" style="fill: none; stroke: #000000; stroke-width: 0.9; stroke-linejoin: miter; stroke-linecap: square"/>
</g>
<g id="patch_37">
<path d="M 1225.66 88.78 
L 1391.04 88.78 
" style="fill: none; stroke: #000000; stroke-width: 0.9; stroke-linejoin: miter; stroke-linecap: square"/>
</g>
</g>
<g id="patch_38">
<path d="M 140.4 966.1 
L 292.54 966.1 
L 292.54 918.58 
L 140.4 918.58 
z
" style="fill: #f2f3f7"/>
</g>
<g id="patch_39">
<path d="M 1220.4 937.15 
L 1339.2 937.15 
L 1339.2 917.28 
L 1220.4 917.28 
z
" style="fill: #f2f3f7"/>
</g>
<g id="text_102">
<text style="font-size: 16.05px; font-family: 'DejaVu Serif', serif; text-anchor: middle" x="720" y="31.97" transform="rotate(-0 720 31.97)">Summary of QC profile plots for pollyxt_cyp at Limassol 20251031 21:41-22:40</text>
</g>
<g id="text_103">
<text style="font-size: 11.1px; font-family: 'DejaVu Serif', serif; text-anchor: start" x="144.29" y="931.97" transform="rotate(-0 144.29 931.97)">ref.H_355: 7.98-9.47 km</text>
</g>
<g id="text_104">
<text style="font-size: 11.1px; font-family: 'DejaVu Serif', serif; text-anchor: start" x="144.29" y="946.01" transform="rotate(-0 144.29 946.01)">ref.H_532: 3.05-4.55 km</text>
</g>
<g id="text_105">
<text style="font-size: 11.1px; font-family: 'DejaVu Serif', serif; text-anchor: start" x="144.29" y="960.19" transform="rotate(-0 144.29 960.19)">ref.H_1064: 8.24-9.29 km</text>
</g>
<g id="text_106">
<text style="font-size: 11.1px; font-family: 'DejaVu Serif', serif; text-anchor: start" x="1224" y="929.95" transform="rotate(-0 1224 929.95)">WV-calib.const.: 3.8</text>
</g>
<g id="text_107">
<text style="font-weight: 700; font-size: 9.5px; font-family: 'DejaVu Serif', serif; text-anchor: start; fill: #ff2020" x="720.86" y="955.98" transform="rotate(-0 720.86 955.98)">Preliminary</text>
</g>
<g id="text_108">
<text style="font-weight: 700; font-size: 9.5px; font-family: 'DejaVu Serif', serif; text-anchor: start; fill: #ff2020" x="720.86" y="966.78" transform="rotate(-0 720.86 966.78)">Results.</text>
</g>
<g id="text_109">
<text style="font-weight: 700; font-size: 8px; font-family: 'DejaVu Serif', serif; text-anchor: start" x="1080.43" y="958.75" transform="rotate(-0 1080.43 958.75)">© TROPOS &amp; ECoE 2025.</text>
</g>
<g id="text_110">
<text style="font-weight: 700; font-size: 8px; font-family: 'DejaVu Serif', serif; text-anchor: start" x="1080.43" y="967.39" transform="rotate(-0 1080.43 967.39)">CC BY SA 4.0 License.</text>
</g>
</g>
<defs>
<clipPath id="p57dd0e70b4">
<rect x="103.32" y="88.78" width="165.38" height="774.14"/>
</clipPath>
<clipPath id="pae06bd856a">
<rect x="327.79" y="88.78" width="165.38" height="774.14"/>
</clipPath>
<clipPath id="p555303b833">
<rect x="552.25" y="88.78" width="165.38" height="774.14"/>
</clipPath>
<clipPath id="pc099fba9d1">
<rect x="776.72" y="88.78" width="165.38" height="774.14"/>
</clipPath>
<clipPath id="pdd02288f97">
<rect x="1001.19" y="88.78" width="165.38" height="774.14"/>
</clipPath>
<clipPath id="p34c1b680ac">
<rect x="1225.66" y="88.78" width="165.38" height="774.14"/>
</clipPath>
</defs>
</svg>

<svg width="2000" height="1360" viewBox="0 0 2000 1360" style="position:absolute;left:0;top:0">
<g font-family="'DejaVu Serif', serif" font-size="15.28px" fill="#000">
<rect x="151.00" y="131.50" width="214.40" height="227.60" rx="3.06" fill="#fff" fill-opacity="0.8" stroke="#ccc" stroke-opacity="0.8" stroke-width="1.11"/>
<line x1="157.60" y1="144.80" x2="188.16" y2="144.80" stroke="#0000ff" stroke-width="2.08" style="stroke-linecap:square"/>
<text x="202.00" y="150.70">aerBsc_raman_355</text>
<line x1="157.60" y1="169.55" x2="188.16" y2="169.55" stroke="#008000" stroke-width="2.08" style="stroke-linecap:square"/>
<text x="202.00" y="175.45">aerBsc_raman_532</text>
<line x1="157.60" y1="194.30" x2="188.16" y2="194.30" stroke="#ff0000" stroke-width="2.08" style="stroke-linecap:square"/>
<text x="202.00" y="200.20">aerBsc_raman_1064</text>
<line x1="156.40" y1="219.05" x2="188.70" y2="219.05" stroke="#800080" stroke-width="1.9" stroke-dasharray="6.1 2.8"/>
<text x="202.00" y="224.95">aerBsc_RR_355</text>
<line x1="156.40" y1="243.80" x2="188.70" y2="243.80" stroke="#808000" stroke-width="1.9" stroke-dasharray="6.1 2.8"/>
<text x="202.00" y="249.70">aerBsc_RR_532</text>
<line x1="156.40" y1="268.55" x2="188.70" y2="268.55" stroke="#ffa07a" stroke-width="1.9" stroke-dasharray="6.1 2.8"/>
<text x="202.00" y="274.45">aerBsc_RR_1064</text>
<line x1="157.60" y1="293.30" x2="188.16" y2="293.30" stroke="#00ffff" stroke-width="2.08" style="stroke-linecap:square"/>
<text x="202.00" y="299.20">aerBsc_klett_355</text>
<line x1="157.60" y1="318.05" x2="188.16" y2="318.05" stroke="#00ff00" stroke-width="2.08" style="stroke-linecap:square"/>
<text x="202.00" y="323.95">aerBsc_klett_532</text>
<line x1="157.60" y1="342.80" x2="188.16" y2="342.80" stroke="#fa8072" stroke-width="2.08" style="stroke-linecap:square"/>
<text x="202.00" y="348.70">aerBsc_klett_1064</text>
<rect x="437.16" y="131.50" width="240.00" height="227.60" rx="3.06" fill="#fff" fill-opacity="0.8" stroke="#ccc" stroke-opacity="0.8" stroke-width="1.11"/>
<line x1="443.76" y1="144.80" x2="474.32" y2="144.80" stroke="#0000ff" stroke-width="2.08" style="stroke-linecap:square"/>
<text x="488.16" y="150.70">aerExt_raman_355</text>
<line x1="443.76" y1="169.55" x2="474.32" y2="169.55" stroke="#008000" stroke-width="2.08" style="stroke-linecap:square"/>
<text x="488.16" y="175.45">aerExt_raman_532</text>
<line x1="443.76" y1="194.30" x2="474.32" y2="194.30" stroke="#ff0000" stroke-width="2.08" style="stroke-linecap:square"/>
<text x="488.16" y="200.20">aerExt_raman_1064</text>
<line x1="442.56" y1="219.05" x2="474.86" y2="219.05" stroke="#800080" stroke-width="1.9" stroke-dasharray="6.1 2.8"/>
<text x="488.16" y="224.95">aerExt_RR_355</text>
<line x1="442.56" y1="243.80" x2="474.86" y2="243.80" stroke="#808000" stroke-width="1.9" stroke-dasharray="6.1 2.8"/>
<text x="488.16" y="249.70">aerExt_RR_532</text>
<line x1="442.56" y1="268.55" x2="474.86" y2="268.55" stroke="#ffa07a" stroke-width="1.9" stroke-dasharray="6.1 2.8"/>
<text x="488.16" y="274.45">aerExt_RR_1064</text>
<line x1="443.76" y1="293.30" x2="474.32" y2="293.30" stroke="#00ffff" stroke-width="2.08" style="stroke-linecap:square"/>
<text x="488.16" y="299.20">aerBsc_klett_355 x LR</text>
<line x1="443.76" y1="318.05" x2="474.32" y2="318.05" stroke="#00ff00" stroke-width="2.08" style="stroke-linecap:square"/>
<text x="488.16" y="323.95">aerBsc_klett_532 x LR</text>
<line x1="443.76" y1="342.80" x2="474.32" y2="342.80" stroke="#fa8072" stroke-width="2.08" style="stroke-linecap:square"/>
<text x="488.16" y="348.70">aerBsc_klett_1064 x LR</text>
<rect x="780.49" y="131.50" width="208.43" height="153.35" rx="3.06" fill="#fff" fill-opacity="0.8" stroke="#ccc" stroke-opacity="0.8" stroke-width="1.11"/>
<line x1="787.09" y1="144.80" x2="817.65" y2="144.80" stroke="#0000ff" stroke-width="2.08" style="stroke-linecap:square"/>
<text x="831.49" y="150.70">aerLR_raman_355</text>
<line x1="787.09" y1="169.55" x2="817.65" y2="169.55" stroke="#008000" stroke-width="2.08" style="stroke-linecap:square"/>
<text x="831.49" y="175.45">aerLR_raman_532</text>
<line x1="787.09" y1="194.30" x2="817.65" y2="194.30" stroke="#ff0000" stroke-width="2.08" style="stroke-linecap:square"/>
<text x="831.49" y="200.20">aerLR_raman_1064</text>
<line x1="785.89" y1="219.05" x2="818.19" y2="219.05" stroke="#800080" stroke-width="1.9" stroke-dasharray="6.1 2.8"/>
<text x="831.49" y="224.95">aerLR_RR_355</text>
<line x1="785.89" y1="243.80" x2="818.19" y2="243.80" stroke="#808000" stroke-width="1.9" stroke-dasharray="6.1 2.8"/>
<text x="831.49" y="249.70">aerLR_RR_532</text>
<line x1="785.89" y1="268.55" x2="818.19" y2="268.55" stroke="#ffa07a" stroke-width="1.9" stroke-dasharray="6.1 2.8"/>
<text x="831.49" y="274.45">aerLR_RR_1064</text>
<rect x="1025.79" y="131.50" width="274.89" height="79.10" rx="3.06" fill="#fff" fill-opacity="0.8" stroke="#ccc" stroke-opacity="0.8" stroke-width="1.11"/>
<line x1="1032.39" y1="144.80" x2="1062.95" y2="144.80" stroke="#ffa500" stroke-width="2.08" style="stroke-linecap:square"/>
<text x="1076.79" y="150.70">AE_beta_355_532_Raman</text>
<line x1="1032.39" y1="169.55" x2="1062.95" y2="169.55" stroke="#ff00ff" stroke-width="2.08" style="stroke-linecap:square"/>
<text x="1076.79" y="175.45">AE_beta_532_1064_Raman</text>
<line x1="1032.39" y1="194.30" x2="1062.95" y2="194.30" stroke="#000000" stroke-width="2.08" style="stroke-linecap:square"/>
<text x="1076.79" y="200.20">AE_parExt_355_532_Raman</text>
<rect x="1379.76" y="131.50" width="232.68" height="153.35" rx="3.06" fill="#fff" fill-opacity="0.8" stroke="#ccc" stroke-opacity="0.8" stroke-width="1.11"/>
<line x1="1386.36" y1="144.80" x2="1416.92" y2="144.80" stroke="#0000ff" stroke-width="2.08" style="stroke-linecap:square"/>
<text x="1430.76" y="150.70">parDepol_raman_355</text>
<line x1="1386.36" y1="169.55" x2="1416.92" y2="169.55" stroke="#008000" stroke-width="2.08" style="stroke-linecap:square"/>
<text x="1430.76" y="175.45">parDepol_raman_532</text>
<line x1="1386.36" y1="194.30" x2="1416.92" y2="194.30" stroke="#ff0000" stroke-width="2.08" style="stroke-linecap:square"/>
<text x="1430.76" y="200.20">parDepol_raman_1064</text>
<line x1="1386.36" y1="219.05" x2="1416.92" y2="219.05" stroke="#00ffff" stroke-width="2.08" style="stroke-linecap:square"/>
<text x="1430.76" y="224.95">parDepol_klett_355</text>
<line x1="1386.36" y1="243.80" x2="1416.92" y2="243.80" stroke="#00ff00" stroke-width="2.08" style="stroke-linecap:square"/>
<text x="1430.76" y="249.70">parDepol_klett_532</text>
<line x1="1386.36" y1="268.55" x2="1416.92" y2="268.55" stroke="#fa8072" stroke-width="2.08" style="stroke-linecap:square"/>
<text x="1430.76" y="274.45">parDepol_klett_1064</text>
<rect x="1813.01" y="131.50" width="111.19" height="29.60" rx="3.06" fill="#fff" fill-opacity="0.8" stroke="#ccc" stroke-opacity="0.8" stroke-width="1.11"/>
<line x1="1819.61" y1="144.80" x2="1850.17" y2="144.80" stroke="#0000ff" stroke-width="2.08" style="stroke-linecap:square"/>
<text x="1864.01" y="150.70">WVMR</text>
<rect x="1819.07" y="185.20" width="82.13" height="29.60" rx="3.06" fill="#fff" fill-opacity="0.8" stroke="#ccc" stroke-opacity="0.8" stroke-width="1.11"/>
<line x1="1825.67" y1="198.50" x2="1856.23" y2="198.50" stroke="#008000" stroke-width="2.08" style="stroke-linecap:square"/>
<text x="1870.07" y="204.40">RH</text>
</g></svg>
<svg width="2000" height="1360" viewBox="0 0 2000 1360" style="position:absolute;left:0;top:0">
<defs><clipPath id="ccclip"><rect x="663.2" y="1298.2" width="153.6" height="37.7" rx="2"/><rect x="663.2" y="1334" width="153.6" height="20"/></clipPath></defs>
<rect x="662.2" y="1297.2" width="155.6" height="54.4" rx="2.8" fill="#333"/>
<g clip-path="url(#ccclip)">
<rect x="662" y="1297" width="156" height="38.9" fill="#bac0bb"/>
<circle cx="689" cy="1322.7" r="25" fill="#bac0bb"/>
</g>
<circle cx="689" cy="1322.7" r="20" fill="#333"/>
<circle cx="689" cy="1322.7" r="16.7" fill="#fff"/>
<text x="689.2" y="1329.2" text-anchor="middle" font-family="'DejaVu Sans', 'Liberation Sans', sans-serif" font-weight="bold" font-size="22.5" letter-spacing="-1.2" fill="#333">cc</text>
<circle cx="744.2" cy="1316.6" r="14.9" fill="#333"/>
<circle cx="744.2" cy="1316.6" r="12.4" fill="#fff"/>
<circle cx="744.3" cy="1308.9" r="1.95" fill="#333"/>
<rect x="740.2" y="1312.2" width="7.9" height="6.5" fill="#333"/>
<rect x="742.1" y="1318.4" width="4.6" height="7.5" fill="#333"/>
<circle cx="781.2" cy="1316.6" r="14.9" fill="#333"/>
<circle cx="781.2" cy="1316.6" r="12.4" fill="#fff"/>
<path d="M776.98 1314.4 A5.15 6.6 0 1 1 776.82 1319.1" fill="none" stroke="#333" stroke-width="3.5"/>
<path d="M773.4 1314.1 L779.3 1313.8 L776.4 1317.5 Z" fill="#333"/>
<text x="743.5" y="1348.7" text-anchor="middle" font-family="'Liberation Sans', 'DejaVu Sans', sans-serif" font-weight="bold" font-size="11.8" fill="#fff">BY</text>
<text x="780" y="1348.7" text-anchor="middle" font-family="'Liberation Sans', 'DejaVu Sans', sans-serif" font-weight="bold" font-size="11.8" fill="#fff">SA</text>
</svg>

</div></body></html>
